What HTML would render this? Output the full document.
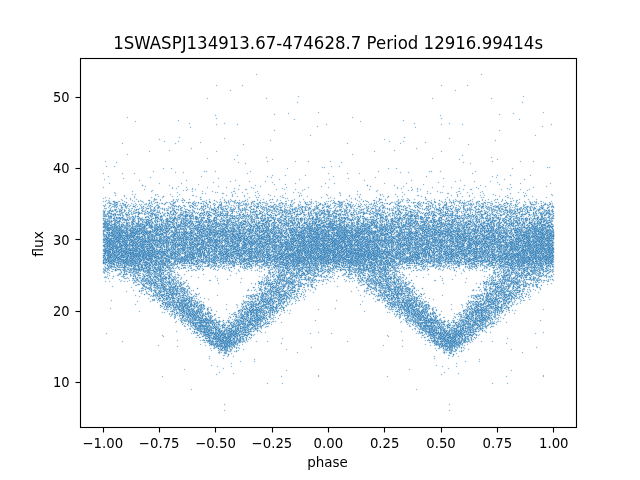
<!DOCTYPE html>
<html lang="en">
<head>
<meta charset="utf-8">
<title>1SWASPJ134913.67-474628.7 Period 12916.99414s</title>
<style>
html,body{margin:0;padding:0;background:#fff;overflow:hidden}
svg{display:block}
text{font-family:"DejaVu Sans","Liberation Sans",sans-serif;fill:#000}
.tk{font-size:13.889px}
.ti{font-size:16.667px}
</style>
</head>
<body>
<svg width="640" height="480" viewBox="0 0 640 480" role="img" aria-label="Phase-folded light curve: flux versus phase">
<rect width="640" height="480" fill="#fff"/>
<defs>
<marker id="dot" markerUnits="userSpaceOnUse" markerWidth="4" markerHeight="4" refX="0" refY="0" viewBox="-2 -2 4 4" overflow="visible"><path d="M-.5-.5h1v1h-1z" fill="#2279b5" fill-opacity=".5059"/><path d="M-.5-1.5h1v1h-1zM-.5 .5h1v1h-1zM-1.5-.5h1v1h-1zM.5-.5h1v1h-1z" fill="#84b5d7" fill-opacity=".1183"/></marker>
</defs>
<g class="pts" transform="translate(.5 .5)" fill="none" stroke="none">
<polyline id="lc" points="149,274 325,254 147,248 114,203 322,273 267,241 222,337 242,311 140,264 268,228 123,219 111,238 157,221 131,242 110,217 147,249 230,221 272,232 155,210 298,285 280,252 117,259 267,203 209,230 132,244 324,238 318,212 161,227 114,210 181,240 239,310 205,328 192,257 188,214 217,245 277,260 126,254 232,222 308,257 231,340 307,227 210,232 173,301 130,261 304,239 216,257 187,313 120,209 309,264 142,228 130,225 314,254 140,241 324,240 245,329 250,251 240,340 119,228 307,221 250,256 299,263 107,241 227,344 233,255 325,259 124,261 284,255 255,256 196,310 152,227 167,266 293,246 221,339 120,257 247,241 112,247 234,228 255,262 171,252 175,243 228,230 177,221 270,256 290,256 243,224 243,250 252,306 244,250 256,206 191,317 211,248 194,239 115,241 186,313 130,235 221,229 249,302 181,306 119,212 319,219 132,214 326,260 232,238 130,228 317,240 316,239 236,340 246,339 290,290 318,261 142,236 105,259 178,239 278,253 251,257 137,242 151,289 327,250 293,229 143,249 142,223 274,225 165,295 228,261 194,245 192,252 313,210 155,230 146,258 138,253 199,334 163,245 293,292 293,225 284,242 220,330 275,249 157,233 120,218 210,261 120,230 134,245 166,293 151,289 307,231 198,315 160,269 300,232 175,301 175,218 307,226 319,239 308,256 163,308 264,223 288,287 129,250 255,211 166,295 171,232 304,273 111,243 144,219 274,265 162,203 119,240 274,227 174,298 170,224 215,329 297,268 154,214 303,250 173,288 190,306 225,328 196,226 317,230 297,229 309,218 142,262 137,236 231,245 164,227 287,247 279,222 193,230 251,241 254,318 296,294 209,258 280,250 159,272 176,289 136,252 248,253 265,247 126,212 273,293 204,241 268,249 265,222 177,244 162,264 204,305 163,295 281,301 257,204 242,321 119,226 213,250 126,249 154,240 310,254 293,238 155,230 258,205 149,206 294,245 226,240 218,207 103,231 125,238 194,227 281,222 171,301 179,286 215,242 278,283 132,245 242,239 235,244 124,227 263,233 167,263 228,330 279,279 201,248 190,313 222,350 245,249 127,206 308,250 247,334 322,212 250,323 234,223 144,281 169,232 213,326 222,333 137,229 273,234 253,327 318,241 194,238 311,243 281,322 248,305 298,222 103,223 259,226 221,330 126,252 326,260 245,335 266,235 272,207 120,234 222,238 213,330 255,248 180,206 149,243 189,314 105,197 290,244 302,207 304,279 160,251 220,230 244,233 292,257 129,211 288,246 162,262 227,223 193,251 175,295 287,248 306,233 287,263 300,219 314,237 314,231 251,252 160,271 109,249 257,314 293,209 233,222 198,203 252,222 127,281 326,259 166,247 159,295 302,207 126,247 287,257 132,239 174,260 191,248 152,212 240,223 205,249 222,344 203,305 133,250 268,240 208,265 123,257 219,329 124,254 238,321 218,266 157,220 220,231 178,308 251,268 116,162 263,319 311,227 230,336 285,246 263,317 203,254 214,242 233,253 132,254 304,214 202,325 300,207 251,309 227,251 220,332 178,274 115,215 206,338 105,258 313,268 315,264 243,231 275,287 325,257 285,232 142,256 273,242 156,269 135,285 259,232 166,295 250,253 155,228 124,261 295,291 243,317 109,218 182,245 263,247 270,257 291,232 300,213 225,351 171,258 119,233 212,213 239,230 150,256 242,317 142,237 324,237 119,220 286,248 155,277 187,260 227,332 272,321 172,265 234,236 219,328 242,210 183,228 146,233 299,253 235,333 220,256 289,232 147,238 278,275 251,337 152,214 215,332 239,239 155,280 310,272 127,235 199,313 212,333 279,210 229,217 186,321 271,212 182,265 206,328 115,223 288,228 281,301 118,227 239,338 252,243 206,220 275,263 203,221 291,243 117,254 285,237 268,250 314,229 189,252 114,223 132,226 307,261 104,239 244,330 279,273 239,251 210,264 124,231 167,215 321,237 257,227 209,263 218,235 210,333 138,264 174,243 314,222 217,224 273,304 253,248 242,339 211,331 327,212 206,260 252,312 198,229 183,306 303,256 237,224 247,238 241,216 182,226 172,252 292,222 175,245 253,295 146,209 268,260 311,235 261,241 140,229 109,234 211,248 184,211 202,218 116,235 217,239 147,250 304,229 141,257 134,233 284,242 277,255 312,249 231,328 118,251 246,251 327,238 174,208 183,218 115,229 177,243 290,260 304,228 152,238 115,246 245,260 201,309 214,253 218,226 108,244 172,204 208,219 260,241 226,238 248,333 131,242 137,234 219,240 213,322 148,275 110,261 246,321 171,251 109,248 215,327 135,240 267,213 132,227 301,219 304,247 160,231 121,246 188,310 170,227 231,331 264,250 194,303 270,306 195,218 178,227 108,250 327,226 243,236 247,266 282,246 147,269 199,232 259,243 271,284 262,259 131,275 316,220 247,313 103,213 286,233 161,259 193,228 105,227 259,259 321,256 203,336 261,293 205,333 270,259 302,269 162,234 297,218 238,334 195,244 300,235 231,209 227,229 307,284 279,308 166,299 250,217 219,339 188,311 251,249 306,237 184,236 114,254 229,259 179,263 169,249 176,237 107,265 241,328 157,302 260,252 182,314 203,319 156,265 112,230 192,325 244,239 294,227 224,323 115,195 242,224 319,280 308,230 104,246 328,255 229,330 227,336 104,260 173,286 240,238 216,229 322,257 196,245 262,250 242,227 241,334 229,335 225,343 302,271 193,305 317,240 107,259 273,307 147,223 150,268 299,256 316,259 324,214 138,234 217,230 163,254 113,243 225,329 109,238 295,276 319,231 184,258 185,265 180,259 295,303 305,267 319,227 124,257 264,232 185,235 110,265 195,318 183,218 108,225 216,263 135,241 122,257 111,254 142,288 274,295 314,258 252,305 245,314 265,220 283,286 324,239 172,287 261,317 289,301 163,286 124,272 123,227 318,264 319,204 321,255 193,224 184,253 138,259 127,223 259,260 222,193 262,236 173,225 242,236 205,249 116,238 281,230 213,238 165,265 242,330 201,319 163,265 259,231 142,276 298,234 292,255 168,259 323,253 160,280 198,263 288,228 284,249 123,238 259,227 291,285 321,238 238,228 313,245 122,253 307,222 274,259 178,257 116,225 167,218 207,326 204,233 287,258 131,252 254,241 211,320 237,321 232,335 159,297 207,253 149,260 245,335 259,232 308,253 306,228 166,278 269,221 146,283 147,254 310,278 299,272 248,235 291,234 137,266 189,249 265,243 203,257 246,308 300,249 277,312 109,233 132,242 242,266 261,298 120,252 313,256 107,221 104,242 234,206 252,246 138,284 312,258 172,267 138,220 319,248 111,235 110,242 149,255 172,242 150,247 171,244 157,251 257,246 302,256 126,265 254,235 304,257 127,232 233,335 238,207 127,234 314,231 301,229 222,327 310,255 322,269 289,220 228,337 211,333 184,315 298,240 206,328 273,321 159,291 203,248 159,301 305,230 128,252 115,258 197,250 253,253 104,253 153,240 164,253 173,262 275,308 208,233 130,275 323,245 221,334 209,202 185,212 226,195 267,257 156,276 284,265 141,210 120,270 169,302 284,265 108,240 142,213 182,256 214,323 249,259 219,247 152,190 298,242 173,226 266,254 120,215 236,323 143,285 282,242 180,215 219,228 308,254 192,206 254,250 322,230 216,242 189,256 119,240 213,321 226,350 324,230 199,244 253,321 292,239 306,265 253,316 245,200 212,328 236,325 198,244 279,284 176,307 160,270 271,252 208,316 183,237 205,244 208,330 119,254 281,256 265,313 327,243 147,248 214,315 225,347 162,243 323,257 269,235 138,280 114,255 269,304 160,227 136,254 320,252 254,235 198,266 207,326 161,267 144,251 298,260 300,231 259,223 214,234 294,260 264,202 300,262 259,324 311,248 272,310 321,276 325,233 204,256 318,254 284,252 258,260 286,272 260,306 179,311 232,218 280,307 216,234 292,234 208,337 255,231 221,240 327,255 275,301 219,344 142,221 247,237 153,272 152,280 123,262 251,222 259,311 162,285 173,311 303,238 166,233 303,256 229,343 142,242 201,318 130,226 111,235 311,256 174,206 233,255 225,346 240,329 165,268 158,233 216,209 178,313 309,235 270,293 255,234 137,253 157,233 217,242 265,240 238,211 107,262 145,289 267,229 325,248 256,218 319,259 275,240 133,255 131,266 169,261 133,233 274,264 204,331 271,224 139,224 111,225 163,255 216,336 288,234 314,229 155,281 168,223 127,257 228,224 146,261 123,203 324,258 197,307 247,258 243,258 326,270 107,223 215,261 140,226 301,225 224,206 253,241 175,258 135,281 211,220 308,284 171,204 256,315 265,235 183,294 136,271 174,234 106,252 209,227 123,270 228,222 134,263 240,241 216,249 320,244 307,244 256,228 319,231 248,318 119,235 201,312 112,230 284,238 193,249 170,247 146,234 130,257 248,259 232,339 295,189 309,267 170,249 301,261 251,237 269,246 245,248 305,239 325,235 171,255 104,251 273,234 285,227 143,253 120,218 249,215 167,259 185,224 194,239 156,283 154,299 140,237 257,261 177,245 147,221 250,264 187,227 298,241 193,259 113,243 255,250 253,238 275,257 219,247 261,281 260,213 274,211 114,255 162,250 203,331 286,230 301,254 292,275 262,247 149,269 259,239 193,302 186,308 247,220 289,237 311,254 129,260 317,237 213,221 103,272 279,218 110,213 197,256 311,243 216,222 162,265 294,209 211,249 327,249 153,253 156,295 194,322 152,222 304,259 193,207 295,241 247,311 291,202 112,253 229,259 228,255 269,254 144,237 157,295 203,212 293,269 205,249 326,194 229,236 129,236 145,246 208,262 133,232 303,259 287,256 183,265 152,232 105,220 265,244 204,306 187,297 227,344 168,241 235,241 274,300 237,317 226,211 173,236 212,226 245,325 297,297 228,340 323,256 216,335 154,214 125,235 206,211 110,261 174,286 176,254 256,311 287,281 315,267 287,269 278,221 269,259 197,258 298,270 160,249 203,326 234,346 199,238 209,224 127,253 105,244 255,216 125,243 197,329 207,158 226,249 183,292 284,241 320,230 244,224 193,316 155,230 183,237 264,314 282,274 154,267 216,327 179,312 211,251 127,261 177,286 255,314 254,309 166,249 223,333 310,232 237,339 239,240 293,250 116,237 174,240 151,246 228,243 316,212 315,255 231,237 273,239 112,238 196,262 170,244 209,252 143,220 273,248 252,249 221,228 322,245 144,265 214,219 265,321 120,258 109,219 269,260 165,287 154,258 186,225 226,209 322,257 272,260 202,331 234,218 318,253 183,249 281,244 291,200 256,229 163,273 189,253 201,246 161,203 213,328 239,230 272,233 149,252 154,211 247,238 193,246 244,251 195,189 138,201 105,254 235,331 280,210 285,243 247,253 199,260 172,271 126,229 163,294 183,212 176,206 277,282 190,233 227,252 123,236 212,249 298,243 181,288 123,256 253,226 199,239 307,228 162,255 250,237 310,235 170,242 194,312 320,231 212,230 225,214 316,232 304,233 132,256 289,294 212,340 193,204 232,245 264,260 264,251 253,244 163,304 168,230 284,224 301,253 190,293 279,277 286,260 276,283 232,238 103,251 270,317 233,250 227,346 250,241 204,235 186,216 170,283 157,226 284,248 225,337 289,286 123,263 235,334 174,236 319,225 311,240 185,217 238,324 187,309 197,228 143,268 119,269 115,248 308,251 156,216 129,241 260,252 282,281 226,259 204,320 246,222 326,236 290,276 323,247 138,237 209,332 125,232 107,226 200,266 294,253 158,298 197,244 137,251 227,235 221,346 291,249 196,332 280,210 252,242 132,262 130,253 282,256 294,230 177,277 156,248 132,228 298,257 277,268 260,238 279,292 250,328 247,335 265,294 306,267 144,276 281,275 106,252 253,331 104,246 275,246 234,247 324,237 174,303 234,343 126,215 143,244 278,230 280,292 247,312 291,243 149,257 275,266 247,308 222,247 321,223 180,306 203,206 227,251 207,328 108,215 257,252 244,302 222,253 208,255 326,244 146,253 236,246 229,340 310,241 285,243 219,246 251,251 268,312 182,291 271,297 260,213 165,296 317,246 207,310 300,254 280,267 299,285 138,270 283,298 164,243 285,234 175,254 252,323 242,255 226,236 107,232 245,319 178,242 197,233 269,231 190,313 208,234 170,299 122,233 114,233 261,232 154,251 259,249 213,236 271,260 120,258 121,245 252,310 252,311 182,258 148,258 208,225 199,223 169,274 256,305 226,309 211,265 226,231 163,298 112,227 185,252 109,212 146,286 119,211 166,227 268,254 229,344 288,250 317,266 175,314 320,251 262,221 325,259 181,223 165,261 203,204 219,234 172,220 196,244 140,245 113,253 224,256 298,261 295,254 327,240 126,241 310,257 277,276 111,267 295,225 313,282 272,276 148,272 309,236 281,244 324,238 153,269 306,254 153,270 145,261 183,232 252,263 297,247 120,236 111,271 316,247 174,235 320,226 252,311 242,254 297,247 246,239 327,261 163,221 218,246 111,234 214,229 104,251 272,199 327,279 236,255 258,328 240,239 159,241 307,248 241,331 174,291 248,250 292,236 117,221 297,235 161,216 148,248 152,273 213,260 251,322 294,252 292,229 260,253 128,238 251,251 215,341 224,327 254,287 110,243 188,248 155,275 273,256 214,226 185,209 215,343 136,250 239,256 204,249 304,235 295,252 104,246 322,245 292,258 125,225 271,220 283,286 283,261 150,255 241,261 299,223 312,236 197,317 279,220 109,254 164,289 225,246 233,326 266,279 268,225 156,244 222,350 108,243 301,228 162,286 250,228 135,278 191,244 143,283 295,255 145,280 257,191 284,250 224,252 174,253 156,245 222,212 187,242 154,264 110,266 220,259 119,254 299,259 119,257 121,222 326,256 277,233 250,210 199,251 273,234 204,325 235,343 240,222 174,302 272,314 295,227 139,262 162,230 238,203 274,293 262,239 140,252 311,254 304,240 237,225 245,221 174,203 190,256 157,264 141,243 174,255 224,329 199,244 207,232 176,244 170,221 325,245 309,271 172,231 198,263 115,220 239,255 316,235 273,244 126,244 120,227 308,267 122,243 306,254 135,248 274,208 233,334 146,248 191,259 135,242 293,260 162,270 228,231 106,261 185,254 327,217 188,251 136,249 179,310 323,217 325,222 230,247 278,287 260,228 288,286 182,253 301,279 255,304 187,263 149,246 300,258 269,210 250,301 261,296 164,246 246,209 221,345 178,277 286,256 177,306 230,339 305,275 180,303 177,290 249,264 175,307 266,239 162,251 142,278 216,243 180,251 191,268 191,305 155,216 258,252 274,291 259,316 309,247 198,322 299,286 244,334 181,309 310,226 209,251 225,350 282,236 160,269 206,212 275,236 279,305 305,233 181,215 246,217 312,221 279,281 287,304 315,258 262,216 249,256 306,279 194,247 326,232 240,223 286,238 152,239 104,244 209,235 213,247 319,220 314,222 322,244 219,332 215,222 144,250 237,221 237,328 251,304 255,306 183,310 183,263 255,212 230,220 166,277 167,222 129,240 118,254 327,266 144,242 196,252 267,294 297,262 247,226 175,308 259,251 183,259 205,332 198,222 160,276 281,272 298,265 218,254 291,205 323,243 288,247 172,201 225,233 164,290 192,247 279,294 224,333 121,265 177,246 200,247 311,250 193,251 237,238 274,241 320,258 163,278 227,336 277,246 268,234 268,298 175,287 143,285 166,256 157,275 299,224 291,256 239,324 194,317 161,224 178,300 256,328 189,265 116,211 256,304 171,221 261,211 180,210 120,265 285,198 165,225 191,235 247,295 132,237 191,300 288,272 226,202 289,244 146,220 321,197 148,259 281,258 233,344 276,262 120,270 180,296 219,252 107,230 309,270 233,232 309,242 263,283 294,290 260,253 163,286 281,311 299,279 184,240 126,246 300,250 193,218 176,232 226,224 154,199 224,263 247,262 203,229 234,338 311,247 166,256 257,316 182,234 152,247 200,215 180,315 269,310 149,264 209,261 305,266 227,257 107,239 235,193 123,248 220,224 185,216 319,255 327,253 269,321 193,259 314,268 163,257 178,215 163,232 144,242 271,258 210,237 174,210 195,325 181,261 161,285 196,318 284,233 286,299 151,252 119,245 279,296 143,227 213,219 139,246 152,245 272,301 321,260 280,286 167,238 209,225 202,324 130,244 128,226 258,304 226,253 301,253 263,248 110,247 242,210 148,281 189,235 267,227 163,226 193,313 182,218 171,308 191,260 145,265 262,319 272,300 219,260 112,240 137,284 154,248 209,265 214,261 125,266 231,230 323,213 174,314 146,262 245,256 317,229 183,244 138,223 220,236 156,233 209,259 276,313 213,235 243,216 143,208 203,203 286,247 117,248 234,231 157,253 159,274 176,247 234,336 135,216 239,232 264,315 234,227 140,261 308,229 217,216 322,233 303,230 264,264 220,250 152,248 294,241 287,250 248,251 211,330 161,246 290,247 208,309 167,250 190,250 129,244 122,203 171,294 215,245 177,300 210,339 184,256 227,228 181,320 220,336 302,266 269,250 138,226 244,248 300,214 147,225 235,343 126,256 200,330 229,250 187,309 219,338 298,261 301,234 259,244 289,211 307,247 311,232 214,338 298,260 253,287 267,251 133,220 171,261 261,220 133,249 209,322 141,267 133,262 112,254 162,256 204,325 168,238 136,232 263,251 169,267 139,263 131,252 293,261 278,242 306,253 146,283 226,249 321,268 159,283 198,228 124,241 313,249 232,215 297,261 317,233 183,245 277,237 133,236 126,263 216,217 259,261 221,336 311,251 191,236 324,257 241,338 281,229 265,254 212,333 127,242 243,237 202,252 288,272 129,250 327,272 109,270 150,264 190,320 186,244 107,251 269,240 198,231 166,220 246,235 212,237 142,253 244,254 216,242 244,229 253,263 116,239 319,246 141,225 216,223 206,257 115,260 276,261 323,240 265,251 164,263 285,239 135,252 267,240 290,213 166,234 174,262 305,231 134,197 190,311 265,224 175,231 213,331 228,262 139,233 238,245 117,214 198,219 307,207 216,224 162,219 115,214 117,238 160,208 149,275 278,246 222,213 280,258 115,223 125,206 294,264 234,333 222,340 214,262 217,210 204,298 186,303 135,261 288,282 264,246 248,221 148,282 278,245 253,220 285,231 229,348 293,212 203,305 173,222 280,272 131,261 287,272 230,338 227,340 220,345 163,270 227,279 142,241 158,233 257,261 219,238 288,246 320,259 271,232 276,311 164,312 152,254 190,259 158,299 258,281 242,322 313,256 227,221 243,327 155,209 157,232 323,231 215,329 145,217 140,261 314,236 271,223 209,241 137,229 315,253 230,335 187,305 215,333 220,340 172,258 157,244 192,235 210,348 215,343 286,299 162,287 129,229 218,339 166,307 266,303 251,209 236,250 315,245 268,243 237,243 162,261 243,328 142,258 222,337 295,257 287,247 119,224 267,241 321,240 196,261 146,232 181,256 106,208 270,297 190,324 280,196 320,215 278,282 164,246 173,232 246,317 206,324 300,245 173,291 195,315 108,243 159,287 123,238 157,233 142,266 156,277 288,241 225,246 159,238 320,257 223,358 137,263 163,260 122,264 175,256 229,336 108,252 110,263 299,244 186,216 117,240 279,232 219,214 297,225 213,224 234,236 281,253 308,252 181,287 299,201 316,242 128,261 260,205 168,208 136,279 212,260 106,240 301,233 122,248 201,261 183,311 193,253 299,243 136,231 114,258 154,231 201,328 182,259 185,246 299,274 231,343 279,301 274,241 275,242 219,247 251,243 292,256 286,213 145,232 261,253 201,253 228,261 247,201 323,244 238,209 280,302 284,297 186,256 149,227 232,224 131,236 294,247 297,257 248,264 305,246 319,245 324,277 139,256 184,305 290,275 227,346 262,282 299,234 179,316 186,238 111,249 136,226 235,236 227,335 142,257 109,222 192,314 125,219 252,216 217,333 217,202 273,319 234,254 176,290 187,293 284,224 270,217 105,256 195,219 312,250 321,276 234,262 154,241 259,309 161,216 227,246 249,207 108,220 116,226 200,213 185,215 133,255 109,249 161,283 247,212 301,245 294,279 157,207 136,242 224,254 107,227 259,195 189,223 202,223 205,246 253,255 218,224 328,231 199,252 256,207 319,254 120,205 152,259 137,279 119,246 285,244 197,328 196,311 238,322 266,239 208,241 284,286 219,339 290,255 170,230 165,265 238,237 217,261 132,256 145,223 311,220 161,238 185,304 146,258 199,237 234,335 324,262 155,206 254,235 150,269 214,248 154,228 152,229 250,318 135,244 255,260 233,234 266,208 254,313 326,248 116,229 109,210 196,206 171,247 196,227 255,312 208,257 229,264 237,324 162,252 269,249 270,202 176,213 249,257 142,263 236,330 285,293 288,271 168,260 308,236 285,267 292,204 266,253 134,268 124,257 291,246 256,311 217,295 127,244 277,227 241,236 257,325 115,226 165,261 127,236 132,245 161,224 216,322 298,205 161,281 146,263 251,310 210,241 282,233 276,235 285,281 296,227 235,218 172,242 178,298 279,207 227,254 280,243 205,330 146,248 146,262 233,339 144,268 326,252 130,245 167,253 304,212 292,239 260,256 108,252 265,230 273,253 243,301 236,252 285,236 271,251 303,212 144,255 274,241 190,245 155,235 104,258 188,321 120,210 116,235 298,249 259,293 244,210 124,265 226,224 240,321 281,257 156,247 319,249 300,261 164,265 236,236 118,274 259,247 142,256 254,334 170,284 192,312 268,257 169,263 292,232 251,310 184,291 291,254 292,281 144,270 128,272 240,255 321,254 191,233 154,230 309,251 255,242 140,269 254,330 164,246 174,219 135,246 193,219 245,232 154,275 206,252 111,224 232,245 275,257 174,252 177,287 235,223 122,249 252,245 303,246 227,219 283,271 290,231 256,248 251,258 259,303 237,329 258,220 144,251 160,288 303,260 312,223 120,245 247,237 124,270 315,238 150,255 124,265 315,236 107,251 234,251 263,238 243,243 311,244 133,271 304,274 223,336 172,224 209,249 198,255 125,248 215,329 280,222 224,348 109,228 270,311 203,242 252,328 156,284 266,261 162,282 136,237 279,288 129,258 279,243 232,195 275,255 183,302 138,223 224,347 272,238 180,295 302,260 188,260 190,254 115,246 247,247 183,246 296,218 311,213 245,253 134,235 278,240 198,318 201,253 244,245 317,228 175,231 315,256 159,237 268,253 212,249 175,256 160,219 269,243 170,294 141,268 213,229 225,258 300,238 203,314 187,286 115,256 220,234 234,238 280,249 183,239 273,260 194,332 262,253 135,234 273,306 179,308 149,203 303,260 107,250 107,250 228,255 119,242 191,243 271,251 175,290 173,220 177,257 238,253 204,329 233,241 142,259 217,328 179,217 250,225 238,231 312,278 147,211 151,226 318,274 215,250 171,292 233,226 225,252 263,234 153,248 256,321 233,240 324,243 180,250 222,334 254,252 146,265 148,237 286,245 131,231 234,216 134,249 270,297 248,332 281,300 277,259 255,223 271,245 137,261 302,261 288,280 307,262 317,248 115,245 133,254 160,260 201,317 192,258 256,246 176,290 144,254 317,247 124,256 291,249 258,309 165,203 152,265 158,252 224,224 125,243 129,237 263,242 133,235 133,253 118,238 150,246 190,220 160,300 218,211 203,315 165,232 271,230 118,231 323,251 307,240 295,253 214,217 123,277 306,241 169,266 166,238 126,202 271,291 261,309 321,260 134,256 216,322 276,238 232,254 271,283 275,247 257,317 243,248 201,233 204,236 224,199 135,254 177,287 221,352 218,237 311,243 180,288 227,241 221,232 250,247 116,202 186,232 235,316 120,246 172,251 144,286 275,207 111,232 250,311 235,328 246,314 111,247 288,224 136,232 227,219 262,238 216,347 260,236 317,208 302,257 133,233 155,283 308,205 105,258 225,345 247,315 219,240 124,235 149,240 244,251 132,280 236,244 189,242 322,266 189,213 296,211 323,222 112,271 235,316 113,211 255,243 118,217 220,333 301,239 176,313 231,344 162,256 133,278 236,351 134,230 290,250 245,204 284,242 222,234 123,252 110,213 252,298 105,236 126,236 327,240 112,260 278,306 323,251 320,240 166,282 193,242 212,344 218,251 118,223 323,224 249,312 298,266 160,234 291,265 224,266 224,233 169,229 234,346 315,262 280,203 126,238 152,236 186,302 244,324 125,254 270,262 314,242 285,265 212,261 138,255 209,318 123,256 312,262 116,241 238,236 134,268 141,256 151,250 295,281 121,260 284,223 142,240 240,205 177,234 112,233 266,208 188,202 167,306 309,252 208,220 139,291 284,264 186,243 257,307 228,340 230,227 267,301 259,257 167,260 308,242 221,254 304,219 191,224 106,215 233,264 222,337 232,234 296,254 307,262 240,214 274,248 240,264 153,251 169,185 235,249 287,248 177,251 142,239 244,266 239,204 245,309 200,325 272,244 130,231 224,353 261,225 209,319 192,263 109,242 263,284 187,189 281,256 130,260 161,263 327,211 133,258 328,245 173,219 114,240 250,316 228,354 192,238 237,227 297,214 148,260 263,259 244,325 274,245 172,300 279,220 117,232 323,227 235,235 245,189 203,227 210,240 177,256 164,298 315,248 211,221 316,262 181,299 242,236 120,221 104,218 177,235 174,210 143,244 231,230 310,258 140,223 143,231 272,238 251,229 317,250 136,209 117,256 230,228 186,255 301,294 285,193 133,255 218,346 312,221 127,239 160,245 201,261 251,239 169,283 182,226 255,235 119,225 273,302 175,211 111,232 277,214 184,256 125,259 275,241 149,215 196,266 268,326 309,258 143,224 305,270 298,242 206,221 216,230 228,335 256,261 176,225 307,250 322,213 168,229 266,293 124,269 165,230 327,271 138,272 133,271 244,234 184,243 318,242 276,238 204,222 121,205 229,331 228,230 280,259 301,232 120,258 116,247 165,243 164,263 298,254 256,263 175,260 240,252 272,298 242,253 107,245 250,243 273,202 254,310 196,235 166,220 120,234 190,221 243,262 157,269 258,243 266,243 286,230 214,203 244,216 272,299 327,264 200,330 227,338 150,243 245,205 133,233 227,345 253,315 313,221 271,296 301,243 115,247 203,269 243,339 142,254 310,267 211,243 269,291 308,261 113,256 211,224 156,226 135,269 179,226 149,231 325,255 219,329 121,261 255,247 223,256 248,251 199,269 322,240 316,252 155,244 109,233 302,257 113,227 214,241 321,213 324,245 117,226 322,257 310,247 125,257 251,266 232,234 283,265 191,316 284,294 226,237 258,310 152,266 149,245 153,269 124,233 215,234 159,235 288,281 304,227 153,277 153,283 195,204 277,305 264,304 234,218 273,209 294,247 250,318 244,244 245,221 154,249 221,251 184,232 310,232 312,284 200,244 280,256 108,245 112,233 195,319 229,255 215,171 129,261 126,202 201,321 288,252 293,294 327,240 185,288 324,222 219,351 138,230 222,334 113,249 270,239 259,319 223,251 169,273 111,222 220,341 136,212 186,313 242,329 233,261 293,255 292,243 225,346 190,218 235,248 199,224 197,229 316,229 321,231 225,335 279,289 174,217 215,256 246,305 263,264 246,238 200,254 167,284 172,288 275,294 312,230 105,238 311,260 171,294 326,260 230,250 120,231 203,227 123,231 244,312 216,252 286,295 237,226 291,233 328,248 316,268 166,232 122,250 176,310 152,262 258,247 180,261 114,206 110,235 146,224 288,251 248,203 127,238 184,220 280,249 327,253 170,224 165,259 290,218 151,260 180,261 288,288 272,248 183,229 240,315 278,270 130,246 134,238 179,310 180,318 257,262 171,211 103,227 229,336 225,342 175,222 160,239 301,238 306,256 189,254 205,336 301,257 118,258 153,254 177,246 203,325 319,225 190,257 211,241 148,233 254,258 271,309 121,225 225,336 325,271 239,342 235,221 186,304 237,247 281,207 155,271 140,243 201,240 219,342 162,270 184,246 308,219 114,228 132,259 143,252 273,217 242,229 250,257 326,232 194,257 274,260 253,256 149,281 147,259 307,245 164,253 200,229 116,226 200,225 200,327 312,209 303,265 308,257 309,226 173,214 215,215 119,244 139,252 137,206 198,243 208,219 277,285 245,312 161,243 316,225 184,250 147,270 144,281 296,266 114,260 172,242 133,260 267,297 257,227 226,250 159,270 104,244 226,245 109,275 313,243 217,234 229,221 309,265 126,232 293,234 161,233 144,238 248,262 129,247 274,256 255,248 233,245 112,204 166,251 268,283 236,254 245,218 113,234 252,235 326,243 185,259 181,284 270,286 300,281 277,248 279,257 220,233 199,313 136,278 255,329 251,324 223,339 184,293 129,219 296,225 310,242 296,211 210,344 202,239 174,235 151,213 105,264 103,227 153,271 248,266 222,223 215,247 117,249 261,295 118,255 238,215 132,258 171,239 250,296 251,261 152,226 297,258 173,298 123,238 190,253 290,283 217,233 215,335 133,217 231,249 197,251 104,273 251,202 200,252 216,331 153,235 164,282 183,288 142,248 122,237 172,295 146,244 119,265 112,236 215,223 278,264 121,252 149,236 259,320 154,273 156,281 224,223 251,236 181,261 223,246 167,237 229,259 282,285 228,318 298,283 135,254 272,246 221,213 300,252 175,243 272,199 317,240 109,243 206,250 261,225 297,243 299,246 121,251 266,264 180,229 271,284 311,274 305,264 125,262 298,204 123,242 203,243 181,212 276,241 242,315 240,337 180,303 247,250 268,267 222,348 263,265 254,310 268,308 189,300 106,255 272,240 198,253 220,341 249,244 302,252 291,230 173,203 110,249 268,253 195,225 255,313 127,260 196,244 103,234 197,260 307,224 231,254 149,277 116,256 174,270 195,238 297,254 266,221 189,318 114,202 294,248 248,231 320,264 170,212 232,246 191,305 303,284 265,227 147,206 288,200 290,250 151,249 255,192 201,213 169,290 150,256 212,252 326,252 253,238 156,274 172,234 270,290 235,250 243,250 118,235 180,223 149,241 130,252 264,260 126,244 283,299 225,231 131,252 236,316 300,259 175,235 316,253 150,227 167,218 193,260 275,245 157,231 260,300 107,247 144,211 173,199 261,220 232,334 198,228 218,339 114,252 199,251 115,234 318,205 159,269 321,250 149,244 136,229 299,280 299,268 211,310 222,267 261,302 325,260 191,220 289,278 194,254 236,228 253,324 239,317 163,268 315,215 263,308 259,238 194,264 314,235 314,248 126,240 265,266 115,205 112,241 142,237 261,327 156,245 127,223 161,216 264,310 217,278 252,241 164,255 178,309 122,231 217,342 252,323 236,316 206,242 199,318 158,266 166,246 146,219 296,258 250,325 156,288 222,257 279,212 259,241 209,240 278,209 120,241 231,218 289,249 128,255 300,235 242,208 209,338 322,246 213,328 214,256 186,243 117,258 306,223 273,310 114,254 309,217 327,260 230,334 181,291 167,303 200,236 135,248 199,209 158,258 132,235 144,262 242,256 274,251 306,241 325,260 238,245 246,251 282,246 107,213 149,256 315,243 290,244 174,238 132,228 323,249 224,340 263,247 204,221 160,216 302,224 263,294 157,243 156,224 231,247 316,253 114,201 198,250 197,260 142,284 227,243 266,251 184,311 285,228 295,240 222,261 269,315 163,251 182,235 289,245 140,252 217,240 307,260 119,252 239,256 177,226 300,296 166,277 244,265 296,273 201,320 328,235 197,254 161,229 232,222 124,249 111,254 191,304 181,315 119,245 288,288 118,240 206,261 112,233 165,302 257,234 182,251 122,233 214,257 107,264 125,243 157,237 114,227 149,224 268,265 169,255 210,230 250,253 159,237 224,221 279,303 170,242 312,253 197,237 307,240 286,292 122,238 196,245 244,244 213,243 208,311 282,261 109,230 328,242 108,234 192,252 257,320 308,269 309,247 165,249 200,322 313,241 242,341 257,325 250,225 242,209 274,313 208,239 146,243 204,233 207,332 214,264 214,210 176,241 240,318 275,259 310,244 110,308 232,210 187,257 132,253 177,308 128,255 203,231 131,264 123,274 192,252 166,274 220,346 322,253 229,347 218,206 240,252 326,240 137,261 302,236 233,247 290,257 218,244 107,259 157,267 256,257 249,323 176,305 212,338 231,340 144,235 174,276 171,311 168,296 327,238 311,258 215,225 134,282 173,294 158,256 270,264 304,264 304,240 181,222 115,239 317,235 305,249 284,295 237,240 219,202 252,244 153,239 264,305 292,231 254,320 270,301 298,258 227,238 247,335 117,249 209,260 258,243 131,265 248,297 284,285 196,256 148,269 203,210 283,257 163,215 205,314 151,290 191,297 293,236 218,254 126,216 239,258 229,224 203,322 317,255 272,246 263,261 107,254 103,212 248,263 250,246 161,272 162,229 194,240 251,238 263,224 297,236 127,214 249,258 307,260 257,236 297,250 186,202 178,293 105,254 281,257 184,318 328,267 132,226 245,235 160,251 255,297 198,226 123,262 295,258 234,235 269,236 153,256 127,255 130,251 152,244 129,240 177,254 113,266 146,230 268,219 267,306 116,251 224,345 233,242 279,275 230,344 166,258 153,261 245,239 113,238 209,212 180,315 106,255 157,240 119,257 106,222 258,239 309,204 283,285 172,246 274,261 150,255 201,206 180,244 247,258 148,291 216,244 314,254 263,209 248,229 270,235 327,260 150,256 192,218 262,238 313,275 263,253 209,234 248,223 142,252 208,239 222,328 292,260 118,225 310,235 280,237 122,239 287,253 232,262 221,251 188,252 158,218 224,251 193,246 197,304 238,325 264,246 162,240 262,316 259,248 264,256 291,244 114,237 114,266 112,249 220,341 295,253 301,262 314,231 325,250 230,241 187,254 201,239 258,314 199,320 276,231 107,233 147,224 238,205 163,263 156,237 304,236 240,257 173,244 228,328 232,216 306,227 316,250 160,219 217,339 293,231 273,225 203,306 131,268 170,253 189,228 108,254 205,232 221,233 123,241 157,230 236,257 226,233 180,226 310,253 154,285 179,245 197,245 175,227 286,225 222,227 200,255 246,319 115,235 150,257 308,215 246,238 145,280 121,217 286,267 174,253 152,241 200,327 313,253 241,317 152,236 320,262 293,220 238,205 288,222 202,261 249,264 184,232 292,232 184,247 228,256 221,231 264,269 240,332 283,262 164,252 254,320 143,284 122,219 285,237 187,299 126,224 249,252 106,251 250,235 159,224 139,262 119,249 175,262 292,247 203,304 313,273 208,323 206,256 233,191 210,258 190,231 320,259 132,236 291,236 251,306 235,253 195,333 213,246 285,175 316,240 266,230 261,264 128,224 267,234 148,284 144,247 173,303 201,304 204,326 121,255 141,246 299,253 244,238 228,226 256,314 169,258 142,210 217,344 270,311 109,212 287,269 210,317 236,333 172,227 191,255 213,259 269,283 115,214 295,216 245,243 201,241 237,249 162,263 174,249 244,239 109,255 223,232 316,241 123,256 200,260 217,240 219,338 112,235 200,297 230,254 304,236 324,229 240,263 119,218 161,248 156,235 153,239 256,242 287,297 146,222 126,247 325,233 250,214 197,218 207,225 214,327 179,194 163,283 164,287 323,230 208,316 310,235 296,264 143,271 198,322 169,282 181,228 228,268 237,213 324,257 267,222 118,201 264,245 252,307 154,268 271,215 120,269 274,258 305,244 236,233 269,239 168,256 299,257 164,251 300,245 163,276 230,350 115,259 312,218 113,243 274,224 245,322 162,224 259,251 285,259 221,345 319,234 323,272 240,318 141,257 171,297 151,216 257,239 121,249 293,292 155,279 166,240 228,322 292,257 309,250 278,225 322,226 302,269 257,307 112,256 137,216 299,260 310,229 167,311 303,243 270,238 118,214 151,240 267,307 246,265 150,228 143,222 292,209 176,283 184,226 121,260 195,303 270,214 120,219 182,237 262,212 103,249 112,245 157,228 150,270 323,262 263,282 200,310 225,251 233,343 165,304 288,248 253,324 263,251 185,220 124,254 214,252 270,307 129,248 317,269 229,338 269,211 170,222 309,236 267,255 181,258 255,242 215,247 275,263 239,248 173,236 248,259 162,249 281,258 224,330 199,330 148,250 262,265 126,219 269,206 168,304 258,244 120,214 284,216 280,248 297,210 328,233 172,250 140,241 215,254 144,252 266,225 308,236 328,213 128,265 165,258 135,225 157,228 231,230 157,253 300,249 242,308 180,209 237,227 155,236 203,236 184,295 270,305 246,313 258,224 311,240 181,223 150,264 153,241 131,269 158,251 272,243 174,231 251,248 245,306 261,226 195,324 153,264 280,232 326,235 148,225 220,260 303,274 197,328 225,227 173,257 159,210 291,255 179,257 150,244 121,248 238,241 103,215 127,237 295,231 243,329 191,221 302,263 151,260 197,209 265,255 174,217 250,207 220,215 106,226 274,209 175,285 328,234 154,272 242,327 242,324 254,296 327,245 177,261 311,250 218,345 230,349 186,303 133,252 183,306 197,262 142,231 204,329 159,239 196,296 227,333 266,300 319,259 307,239 216,242 299,259 310,249 301,227 239,237 214,334 207,257 277,262 182,213 156,249 183,223 260,318 286,298 286,278 129,209 114,205 295,253 299,239 142,244 216,248 168,256 290,259 280,221 209,331 216,246 110,239 130,238 291,275 297,213 134,239 307,257 203,213 214,237 215,332 255,254 240,313 145,239 227,346 254,220 225,349 136,233 217,257 265,230 302,241 301,221 139,269 323,256 294,254 197,249 192,203 310,267 217,225 247,216 155,252 201,232 160,257 131,249 174,287 122,256 269,303 252,234 255,254 122,253 327,252 265,249 176,229 301,244 232,247 241,235 317,246 272,312 207,218 182,237 289,213 243,261 245,244 207,228 281,280 298,257 203,207 258,208 247,328 190,265 289,223 321,222 124,195 112,221 154,257 226,352 236,227 234,334 184,230 258,304 261,244 175,254 165,241 224,337 284,251 178,245 121,207 112,266 106,245 145,279 320,248 232,244 284,206 175,256 219,226 216,260 213,344 204,252 209,235 213,269 288,286 192,246 175,251 152,250 273,217 273,234 278,235 131,249 210,342 287,291 140,239 124,266 192,322 168,259 173,253 234,335 299,229 245,250 265,301 138,257 151,251 125,214 190,246 192,238 244,311 129,261 291,282 149,212 244,201 180,310 127,271 295,263 126,241 219,321 165,304 256,301 226,353 320,215 140,244 127,234 300,244 275,237 239,240 210,333 241,256 267,262 322,260 201,231 162,245 246,249 159,269 133,216 266,231 327,253 250,248 282,244 214,207 212,320 241,249 234,238 293,220 257,312 122,248 218,253 151,219 312,239 132,247 189,233 246,295 143,278 165,277 245,329 196,264 187,225 117,246 226,333 178,307 228,336 157,259 143,290 286,245 299,259 198,312 237,233 272,247 289,237 226,216 158,259 182,308 199,322 125,230 132,230 212,254 200,315 246,307 133,236 247,341 168,221 150,270 274,248 215,228 114,229 244,240 124,232 128,232 122,235 140,256 245,240 274,291 321,237 313,237 220,235 246,301 260,243 283,260 288,284 205,256 269,291 170,242 262,298 156,225 146,221 155,243 285,216 255,321 259,243 327,264 140,251 269,217 267,235 253,312 249,197 253,313 244,258 231,240 154,284 230,336 254,204 266,157 135,239 150,254 206,171 297,249 302,270 215,333 309,256 228,342 312,217 149,260 201,308 277,261 287,223 194,329 173,251 143,252 270,254 150,265 277,292 109,239 109,245 316,259 115,227 306,235 257,233 125,260 223,240 137,270 269,270 291,217 226,258 257,295 167,256 258,228 109,210 261,310 230,225 272,309 326,276 146,204 156,260 109,232 198,308 221,258 199,257 250,306 189,317 233,231 163,280 121,224 259,289 156,245 230,336 205,229 316,221 115,220 127,253 250,171 278,237 121,206 166,308 139,213 253,229 290,263 217,256 119,253 115,270 186,307 202,253 270,263 326,234 246,189 311,225 162,208 126,245 237,256 178,249 236,257 118,238 164,239 135,222 243,320 222,236 250,255 191,261 304,238 266,307 239,206 151,246 328,226 292,256 120,247 273,240 290,273 251,260 251,283 207,231 273,237 145,234 178,244 290,265 253,325 313,245 310,241 209,245 142,256 245,221 234,216 104,262 184,245 223,335 155,260 216,341 135,258 246,320 278,260 109,259 259,254 165,279 201,221 185,312 199,249 287,260 265,293 207,235 275,237 225,261 191,246 186,237 249,258 104,234 298,257 220,233 296,262 309,238 279,291 281,242 319,257 305,202 298,227 117,249 295,252 279,298 291,298 118,229 323,240 231,331 155,285 169,303 108,223 145,244 316,218 176,230 122,257 307,233 322,241 324,269 278,262 202,252 232,332 113,253 259,228 126,226 224,239 152,283 318,280 116,251 122,220 120,230 305,238 107,253 200,262 324,241 244,245 157,261 160,251 195,243 195,240 279,223 240,259 183,268 316,246 119,249 308,251 169,305 328,259 173,287 154,282 110,210 200,267 316,232 309,201 123,245 280,294 311,262 280,263 171,285 246,256 286,262 271,226 192,231 274,292 161,270 225,341 238,207 132,249 168,295 225,220 323,262 114,248 119,236 238,241 161,221 106,249 314,282 266,306 135,216 230,240 196,314 310,265 240,255 256,329 171,255 169,239 250,315 305,223 131,287 168,206 220,263 314,219 126,278 116,242 304,247 126,243 250,304 144,229 174,227 200,246 289,209 234,258 248,317 292,253 271,230 267,227 107,226 272,287 208,214 132,191 159,293 282,279 283,280 151,247 245,334 238,262 262,281 258,218 152,238 215,208 302,212 328,231 292,235 267,243 269,243 194,318 249,224 127,260 302,251 184,304 225,346 266,265 104,263 290,287 172,236 314,252 105,252 150,259 110,238 237,218 114,227 282,264 146,253 137,253 291,234 246,239 247,320 187,289 247,173 125,254 152,210 171,201 306,204 292,227 198,253 294,238 212,236 299,253 202,327 175,205 163,239 156,250 215,336 160,272 105,229 307,285 245,248 255,295 221,202 287,235 158,279 315,263 223,347 127,237 209,334 285,250 157,247 233,256 123,230 220,251 178,241 133,240 285,244 190,324 293,268 103,211 322,251 259,251 322,232 209,262 196,311 108,261 103,236 234,231 107,252 290,289 177,240 273,287 280,275 219,205 154,285 309,209 135,253 229,249 232,227 190,202 189,301 212,324 155,276 114,238 322,244 207,322 259,266 126,242 244,244 241,263 227,255 281,223 116,237 229,320 275,290 149,259 218,223 178,286 326,227 316,230 292,208 208,229 327,218 325,229 218,209 161,234 114,260 233,230 259,310 323,245 285,249 181,234 204,217 318,247 180,313 108,237 243,332 315,232 260,225 281,294 297,241 301,242 285,267 247,316 283,296 236,251 115,193 266,261 204,214 212,228 216,234 309,241 264,296 234,251 256,216 146,254 177,298 186,296 217,236 281,246 200,321 110,257 203,217 321,257 268,226 274,287 271,247 289,254 192,226 231,340 120,235 113,240 230,261 132,250 320,264 110,227 278,213 210,323 278,272 234,257 162,270 150,205 250,330 218,343 183,313 186,286 234,241 281,231 188,233 298,272 310,266 325,247 154,227 270,309 153,231 154,283 130,232 142,219 187,320 215,276 275,297 201,220 219,241 275,265 166,223 237,236 196,261 115,231 259,260 270,308 300,260 106,259 225,249 107,242 244,238 136,230 316,258 238,311 257,238 205,259 153,243 226,222 238,236 247,332 315,218 240,225 136,248 173,221 182,237 211,259 111,244 281,271 193,315 304,252 228,333 131,263 167,274 231,314 291,238 196,240 256,224 143,248 244,233 140,260 193,216 108,266 184,293 214,336 104,222 103,233 309,242 119,223 126,271 249,230 263,252 237,252 223,255 194,211 170,256 198,266 243,319 142,241 267,319 170,228 263,231 311,261 322,213 117,236 260,289 132,245 104,213 125,241 121,256 174,216 327,242 145,274 198,311 228,251 242,248 298,220 203,315 116,228 147,244 167,250 197,213 322,238 192,255 253,305 198,253 261,286 132,230 203,260 196,261 105,223 309,270 150,276 323,236 162,209 111,247 215,240 221,345 260,309 239,214 152,235 318,234 106,232 238,251 150,260 282,232 260,232 146,240 263,240 215,253 320,262 241,322 216,219 133,256 299,251 197,324 223,222 226,221 298,271 230,253 155,291 114,219 290,211 175,229 257,293 300,237 245,246 232,261 248,322 231,233 287,246 162,291 257,227 114,230 300,236 140,243 234,232 115,247 247,244 146,234 105,234 295,299 151,282 271,305 249,181 274,231 243,340 103,239 153,171 164,232 171,273 203,231 217,242 292,247 211,333 125,243 275,237 308,213 256,223 291,215 291,261 280,242 324,257 299,254 169,228 201,320 144,236 318,245 151,240 271,212 161,274 250,236 160,276 282,244 281,202 307,237 125,266 251,236 216,249 291,241 277,200 173,208 318,234 262,320 293,280 297,230 219,333 106,232 226,341 232,252 122,229 186,220 115,235 305,248 299,257 147,258 274,248 202,244 110,252 245,240 261,231 152,266 122,237 273,281 296,266 307,261 327,235 112,245 180,237 212,245 193,314 107,228 199,249 280,249 322,248 106,240 310,251 290,225 314,244 277,233 193,228 160,275 146,253 268,249 129,270 262,317 281,306 205,254 295,209 104,254 240,336 180,208 236,224 176,232 226,238 200,325 275,309 117,214 298,239 236,259 140,249 175,283 112,226 316,267 208,204 292,282 219,249 315,261 192,242 323,263 252,228 224,333 124,254 123,263 122,241 148,214 108,225 286,223 254,302 328,249 221,333 121,256 162,303 322,235 308,248 179,275 304,252 225,238 184,243 197,235 274,228 253,309 213,265 221,209 264,209 266,301 222,215 233,256 290,232 293,239 251,236 251,253 270,220 147,252 247,320 201,301 223,220 126,232 270,280 188,249 272,283 222,346 323,248 300,256 177,226 119,218 212,209 225,208 296,236 143,257 200,306 154,220 139,244 317,248 182,314 157,283 318,229 192,250 287,267 303,236 250,230 178,253 321,259 198,325 313,252 131,227 231,333 108,241 214,268 121,211 190,245 196,241 323,245 119,233 283,259 306,269 129,263 103,173 239,320 194,316 275,265 148,216 113,248 193,232 162,255 221,229 109,240 114,236 226,339 196,322 270,210 151,201 259,247 273,310 121,233 303,272 261,284 219,345 198,330 116,241 224,246 292,264 137,277 192,236 151,282 223,260 221,255 178,302 185,261 218,226 270,286 116,212 153,241 241,331 129,259 139,254 103,216 261,244 289,226 234,320 112,246 267,233 326,250 248,204 183,226 255,309 106,219 300,260 305,277 116,236 306,250 277,209 245,328 298,192 151,283 238,325 108,242 222,224 305,208 319,256 219,223 268,244 168,296 327,236 304,225 184,267 240,328 281,249 201,240 134,271 135,251 149,232 284,208 228,355 145,214 132,255 150,281 222,226 230,248 295,296 310,251 249,231 233,210 213,227 278,292 119,234 202,214 145,256 133,252 195,233 265,300 284,285 281,225 244,323 200,213 222,246 181,208 195,260 125,210 248,248 190,225 132,262 284,262 233,330 311,211 256,210 201,320 164,251 244,253 178,224 324,214 323,257 215,263 278,250 160,288 136,255 203,235 228,337 284,219 242,235 122,237 136,231 107,219 180,288 314,276 291,231 298,254 161,224 189,291 325,221 186,223 256,251 159,250 222,340 138,219 136,248 189,243 227,329 176,253 307,286 211,228 281,253 131,230 296,294 219,205 260,218 203,309 143,256 229,342 257,315 213,232 179,231 129,243 310,255 128,260 211,261 168,260 239,247 152,250 192,233 148,255 245,318 298,235 215,237 180,212 155,230 177,262 142,248 164,302 269,233 109,261 103,198 163,289 104,262 188,309 299,260 200,308 116,207 229,232 177,244 158,261 189,266 234,247 203,322 257,324 242,314 251,264 178,282 318,241 130,236 247,336 157,284 277,298 190,233 312,240 206,266 328,235 179,263 195,258 203,241 231,213 183,299 320,220 116,220 297,245 181,245 211,345 111,216 318,269 180,259 251,220 214,223 243,224 108,242 226,249 307,274 279,296 245,267 192,314 127,261 318,248 301,242 135,228 288,260 155,222 326,261 232,330 200,318 261,257 133,267 212,239 125,270 266,235 223,256 254,244 201,239 213,345 140,282 221,325 188,305 265,240 273,285 169,261 135,194 194,253 297,240 228,244 313,241 169,276 269,206 159,242 280,228 292,231 167,251 252,312 291,261 327,234 271,284 296,257 160,275 286,265 198,248 229,346 240,266 234,258 320,220 262,217 225,213 129,214 194,252 238,322 175,231 150,207 152,245 293,270 267,275 254,225 155,255 191,306 214,222 219,225 184,288 138,265 250,225 115,231 118,241 264,237 140,259 192,215 161,295 273,236 186,320 133,232 291,255 160,229 143,270 296,240 115,237 273,226 163,291 310,228 121,245 304,262 201,255 111,255 154,282 278,204 320,243 281,232 173,293 227,226 109,261 312,269 241,222 199,265 296,257 270,229 187,313 148,252 297,228 171,275 254,318 235,326 317,269 327,245 293,262 281,236 127,205 243,229 205,205 201,228 262,253 316,226 201,260 108,268 325,235 327,250 250,331 253,261 325,234 140,229 104,206 323,238 197,235 192,323 315,220 160,199 210,215 168,296 289,297 138,231 231,330 149,237 105,223 180,282 324,212 148,251 216,250 229,341 131,241 307,250 105,261 155,240 228,254 157,230 134,211 138,265 251,257 291,262 175,217 160,232 244,331 123,267 202,219 274,297 200,261 132,248 307,258 253,315 151,284 129,250 255,319 103,257 257,256 263,264 122,227 174,300 243,322 230,234 246,302 170,307 157,233 263,245 267,249 265,231 298,252 236,335 305,249 107,226 202,251 126,248 295,161 218,257 318,243 182,261 149,271 154,286 219,344 209,249 112,233 200,314 221,243 195,253 252,219 151,255 118,228 142,243 260,200 186,296 220,246 268,249 123,252 308,231 294,260 250,227 117,243 111,244 202,317 254,249 311,259 210,248 151,248 218,283 277,255 162,279 191,263 212,245 324,220 174,307 116,244 284,255 313,258 166,225 327,226 116,236 278,230 184,312 287,261 325,183 148,213 287,297 326,214 310,281 118,265 178,245 249,298 131,237 194,329 174,224 139,250 237,339 185,215 314,287 136,270 132,221 244,327 289,230 259,262 110,253 116,238 297,256 184,230 168,245 210,239 285,219 144,271 137,265 214,339 312,245 194,318 163,273 116,246 310,228 196,305 218,251 213,256 184,235 288,205 211,209 290,247 190,311 315,231 247,325 213,229 173,291 326,260 143,241 321,259 252,258 106,240 133,244 282,251 202,246 123,267 145,240 212,262 132,224 220,234 256,320 186,262 141,236 261,247 255,298 180,228 271,229 260,303 210,230 150,215 185,260 298,291 110,244 323,246 300,218 284,255 219,216 214,235 258,203 193,261 179,298 228,338 268,256 295,232 268,303 114,265 197,205 306,280 108,263 131,266 278,249 123,215 242,220 241,336 184,235 235,217 157,216 261,235 194,307 115,259 246,238 281,235 254,211 199,306 218,339 156,290 287,249 193,258 150,252 293,241 189,239 313,223 267,222 301,239 196,313 136,270 250,264 303,231 274,221 225,258 165,251 238,243 326,251 188,302 139,221 132,273 240,327 289,243 262,230 285,266 314,248 205,333 215,248 211,221 267,240 209,259 256,236 123,241 222,215 298,270 235,246 312,226 211,309 180,283 303,257 259,221 126,242 283,267 164,252 230,240 242,250 150,253 167,273 142,249 111,262 327,257 110,242 258,308 326,214 177,292 171,307 247,244 320,228 272,250 297,246 281,243 170,254 106,250 161,250 248,252 180,250 233,235 190,229 160,243 201,328 187,239 312,279 286,258 153,254 304,233 233,249 188,219 207,325 268,304 104,250 117,256 107,233 189,315 315,236 296,278 328,238 314,269 167,237 182,224 306,249 257,322 177,266 214,325 305,243 111,211 269,294 158,250 204,332 130,241 291,238 297,234 261,317 288,246 274,300 215,227 204,241 168,272 209,325 172,294 136,250 240,223 231,324 107,243 191,240 263,215 281,284 253,230 279,275 311,241 134,221 239,336 269,272 145,225 277,240 197,267 137,243 112,254 134,249 207,313 208,248 245,342 148,254 307,247 250,245 141,253 292,210 313,256 314,276 135,266 256,244 158,212 132,224 271,295 108,278 206,261 156,223 189,262 183,287 294,270 250,247 312,244 226,261 283,281 282,203 228,341 232,256 206,320 171,302 316,265 234,312 235,202 182,301 228,328 200,310 321,258 229,258 139,237 223,234 327,224 207,241 181,300 194,201 118,239 154,231 167,261 325,269 174,252 191,320 115,213 259,289 222,248 114,246 116,255 120,242 251,241 268,233 199,251 266,241 257,214 256,304 259,257 236,225 267,286 248,243 218,228 107,245 286,296 220,255 104,226 190,238 298,262 324,242 235,234 204,332 177,237 234,342 198,220 141,254 138,239 293,260 119,222 205,322 227,257 244,247 239,234 170,207 298,260 270,238 236,257 224,247 127,246 222,333 106,221 283,269 170,222 181,253 104,263 151,275 316,257 137,264 307,220 215,328 252,209 209,321 145,289 297,244 294,267 267,251 222,324 187,298 246,296 123,240 299,252 266,245 185,231 249,257 229,269 316,238 263,317 138,232 229,219 276,275 117,221 302,237 278,235 203,274 195,229 216,254 120,244 114,235 156,263 209,254 252,320 247,258 268,303 223,193 209,264 293,259 267,256 105,227 243,245 129,226 218,335 192,321 268,302 290,257 286,296 116,241 233,231 272,314 129,253 181,235 298,263 319,221 221,226 208,221 268,265 111,216 260,218 149,264 264,248 146,259 258,312 270,257 277,276 118,252 149,241 308,243 237,258 150,262 108,245 126,240 311,230 206,244 161,262 181,308 248,324 318,239 156,276 257,261 289,268 282,253 207,225 247,290 244,323 111,227 229,270 167,304 308,235 279,203 144,226 173,296 183,312 112,264 157,240 262,257 179,244 104,256 301,233 294,276 126,224 315,259 229,263 294,284 118,218 300,218 194,246 148,270 281,294 318,262 220,262 316,201 308,285 197,244 267,214 327,279 193,319 148,242 294,298 226,251 286,254 186,258 201,247 136,251 160,261 182,263 195,253 321,262 310,218 219,241 161,282 195,318 236,341 103,255 286,284 162,252 219,339 204,252 136,247 227,339 177,312 130,242 287,250 142,241 214,252 229,328 291,261 166,303 165,264 154,254 183,216 240,239 110,262 270,303 236,233 203,224 284,279 311,251 151,247 256,243 149,277 231,350 255,211 244,258 232,342 133,275 134,256 107,255 115,270 176,302 310,237 205,320 312,244 168,213 220,258 259,245 140,220 193,323 148,236 312,256 176,295 226,322 260,262 212,342 264,278 266,237 132,219 220,321 156,237 219,243 205,316 264,233 219,250 116,204 279,228 286,205 239,216 216,222 252,305 122,254 315,248 261,235 159,300 238,327 264,225 208,329 185,308 224,249 164,258 250,228 221,334 163,279 299,257 214,233 267,259 199,209 154,263 261,256 135,259 266,231 231,241 174,298 301,217 203,331 246,310 154,285 141,239 169,277 166,236 115,256 141,280 134,248 328,249 281,245 209,343 173,227 180,228 116,229 279,245 114,259 179,254 253,233 182,232 326,248 300,277 127,245 258,319 263,301 126,256 133,253 163,286 198,212 211,255 305,229 261,321 181,223 241,318 259,214 302,238 307,271 139,249 187,324 226,187 114,252 267,244 140,233 282,269 235,336 209,231 151,259 135,245 135,251 298,237 202,311 204,334 215,266 149,239 251,259 199,221 145,262 244,240 209,260 120,274 270,262 195,301 185,267 186,308 252,254 317,219 140,246 135,272 111,220 209,235 205,228 302,212 250,229 151,220 108,234 115,232 239,341 262,221 185,321 161,235 188,310 182,307 194,234 286,241 318,271 304,220 238,253 189,288 250,318 150,245 253,211 281,215 280,300 233,240 226,224 258,283 170,252 200,315 128,263 267,217 243,253 172,224 276,292 288,219 231,335 155,274 288,226 175,218 240,326 117,248 319,218 143,249 197,230 207,336 303,232 153,248 261,247 311,252 272,206 304,261 223,266 311,263 236,211 218,262 242,318 181,297 222,335 203,335 180,238 190,316 234,342 223,262 222,241 192,222 175,240 171,236 193,248 268,243 111,262 148,241 159,226 290,233 172,236 251,247 161,264 196,254 234,191 228,346 108,261 281,256 310,219 256,320 158,218 138,218 191,298 187,241 185,253 207,318 300,249 229,336 261,229 293,261 208,236 137,265 175,212 313,261 150,220 107,256 163,299 288,293 169,261 257,244 157,238 116,255 246,252 249,337 322,243 171,226 223,337 126,261 314,249 269,258 182,210 258,217 186,229 207,254 139,237 128,253 298,258 203,215 322,244 316,225 325,238 312,245 155,220 117,237 327,238 113,239 256,225 298,222 295,261 274,223 296,284 261,268 220,255 256,314 217,216 155,250 306,268 251,306 257,226 146,255 270,258 288,214 103,238 294,233 296,249 144,214 133,243 121,249 282,224 286,246 208,340 169,225 105,249 194,331 310,240 310,241 290,290 161,224 316,237 133,256 323,225 252,304 237,329 265,298 208,334 142,257 220,348 303,272 150,209 258,237 249,233 254,219 109,245 308,212 287,244 148,243 143,247 114,235 260,261 109,262 170,213 145,251 135,263 131,254 202,206 162,251 115,203 308,240 305,209 162,303 172,267 142,265 237,246 314,228 303,267 324,249 301,279 251,240 153,294 204,251 283,255 209,240 305,223 132,257 245,337 312,247 214,251 175,253 263,229 284,236 182,300 212,255 287,253 123,255 193,202 202,332 200,213 201,240 243,251 216,321 267,262 322,231 241,205 286,201 108,249 263,219 119,229 137,216 108,240 265,318 307,253 327,214 202,231 113,258 322,281 111,221 241,306 321,258 218,324 310,273 328,232 145,222 184,260 190,309 182,309 201,243 298,277 116,256 295,216 328,207 160,247 324,217 153,251 166,228 215,220 277,304 122,217 241,317 299,236 127,260 318,222 232,232 281,238 148,236 284,295 179,262 223,209 311,228 322,237 317,233 134,264 188,240 164,294 307,224 278,274 259,241 282,206 191,258 127,238 180,298 304,241 256,197 210,323 214,207 321,257 163,230 180,259 110,249 117,245 304,251 185,254 125,249 117,251 320,241 242,317 121,267 264,263 137,223 299,257 261,213 200,326 183,315 109,241 252,312 261,297 271,257 250,259 251,218 132,222 137,243 207,229 311,284 315,237 147,250 276,215 209,335 122,226 260,249 321,253 124,220 192,243 274,255 208,333 248,259 141,265 265,239 121,228 221,257 274,276 294,222 183,317 261,243 180,218 207,312 252,252 159,225 262,220 256,253 255,241 317,243 107,258 161,227 295,237 233,234 295,285 131,223 259,254 201,331 158,285 204,237 252,308 264,242 137,258 271,307 188,305 269,308 202,310 287,247 239,342 162,228 125,227 168,255 230,248 103,219 103,250 211,216 269,249 212,339 149,250 162,231 196,237 289,250 213,245 134,230 266,318 187,313 288,242 168,298 182,297 211,233 103,261 183,309 205,325 165,223 233,230 174,227 137,232 141,231 255,301 183,267 286,283 210,344 315,246 105,267 177,274 136,204 309,236 291,249 250,237 204,332 317,213 221,338 114,243 171,214 243,338 320,262 188,325 115,214 233,265 202,263 327,247 166,298 153,278 158,278 294,242 113,247 229,346 119,242 196,216 151,224 130,270 208,236 130,230 194,306 140,240 187,232 175,238 203,231 107,250 123,259 145,219 206,238 279,222 145,234 232,261 142,284 106,250 252,325 133,242 296,273 307,239 285,244 142,224 138,264 316,229 154,284 325,214 300,286 154,262 108,260 202,316 181,245 316,219 149,289 259,318 190,257 275,311 285,248 283,310 209,222 169,282 236,240 276,230 307,228 287,243 316,269 248,248 138,251 239,250 182,307 231,254 296,229 171,311 197,236 294,286 318,243 205,235 207,254 198,242 114,253 267,301 312,238 141,206 298,250 282,195 184,227 142,257 240,236 250,238 144,235 282,235 150,235 119,237 201,245 125,263 150,283 257,258 214,327 197,260 111,223 131,261 294,282 262,237 229,345 169,256 302,275 171,216 235,314 106,227 222,268 251,320 183,235 137,244 148,237 328,233 176,258 274,261 249,251 281,233 121,245 131,256 245,244 169,252 284,240 236,237 244,308 179,296 122,236 236,320 300,214 222,260 291,292 136,230 286,269 310,211 117,203 125,233 128,261 235,332 289,255 136,225 123,222 148,252 191,234 237,307 266,260 126,223 259,259 324,211 280,267 161,228 154,233 261,282 231,333 265,243 277,227 320,258 119,239 210,238 272,275 317,267 113,224 173,205 189,258 152,251 282,240 320,261 169,262 230,218 225,345 205,331 264,257 292,215 160,283 139,235 302,237 107,243 214,339 139,231 278,288 228,322 121,255 151,254 222,255 291,265 282,278 192,214 267,257 142,243 128,252 247,312 125,243 206,327 296,268 126,236 190,260 257,243 229,340 111,268 120,246 162,208 281,223 315,263 140,239 251,244 161,239 236,334 269,236 317,238 160,213 141,251 231,328 247,259 167,242 191,250 322,252 247,255 179,232 129,256 223,230 184,299 159,203 165,274 104,240 281,209 182,320 307,261 287,260 286,220 115,238 181,183 237,229 195,320 217,337 314,237 155,239 240,217 320,246 234,351 223,259 175,243 315,232 126,214 273,287 251,225 273,228 244,302 122,260 158,262 219,320 162,262 128,248 120,218 185,295 173,309 190,328 299,227 255,228 206,229 254,304 170,302 206,320 317,216 281,245 285,251 208,250 243,315 226,209 255,251 200,344 132,262 299,243 298,236 253,320 317,253 243,248 185,238 250,259 282,256 251,266 255,257 216,247 280,251 308,282 274,232 198,303 241,253 199,326 277,288 176,283 297,249 154,239 184,252 195,239 279,248 163,298 216,263 185,319 171,256 237,334 314,228 284,276 233,222 211,255 198,222 296,260 287,256 142,227 135,229 253,209 145,250 140,205 214,255 206,245 307,246 228,321 140,218 251,225 184,258 304,240 202,315 237,249 186,308 323,216 233,237 200,248 221,258 201,236 125,261 257,256 108,235 106,246 125,219 299,250 108,217 104,258 247,309 109,243 282,275 202,260 235,332 271,255 249,242 303,242 187,216 327,231 114,235 279,258 202,266 241,315 174,261 174,300 103,269 191,314 304,207 188,247 224,338 218,336 284,265 114,226 309,224 281,262 180,221 193,254 306,206 120,251 262,234 312,219 177,261 321,255 133,236 231,248 126,258 263,242 264,215 119,214 189,314 295,250 151,270 322,217 221,257 109,256 242,267 326,231 110,239 292,290 144,265 281,296 125,245 162,235 249,241 260,239 155,195 254,240 217,338 192,238 174,243 257,299 183,239 203,246 307,262 111,242 224,239 242,208 243,321 190,222 251,304 219,338 132,246 133,274 143,262 170,255 185,218 325,241 306,262 255,320 278,247 246,319 176,260 131,241 200,321 146,281 275,259 174,304 314,259 131,270 314,253 109,266 309,231 159,269 150,247 212,246 218,215 269,303 217,255 292,241 270,299 208,252 249,266 172,264 293,226 294,227 109,281 159,231 308,240 215,343 105,253 316,232 318,260 257,255 201,212 286,244 233,227 173,253 135,239 128,212 201,208 237,340 205,247 119,241 164,240 193,311 158,234 223,332 228,238 240,263 252,226 161,240 323,262 298,251 292,228 254,227 234,229 283,235 105,238 192,320 296,256 230,233 173,302 278,279 144,252 258,206 293,276 117,239 186,314 267,267 188,283 125,249 275,307 156,261 109,239 242,222 317,255 211,215 248,222 187,257 253,312 230,211 192,254 110,203 278,245 255,233 148,250 268,306 190,232 105,224 159,234 211,337 245,331 239,335 326,220 182,322 113,251 310,238 328,213 153,242 282,254 291,247 179,217 322,243 169,207 148,256 245,255 232,231 239,245 167,307 268,256 228,241 309,278 145,272 212,316 121,255 208,258 160,305 194,315 220,249 185,282 192,253 162,234 146,268 114,261 106,250 169,257 196,294 126,230 322,244 253,235 280,258 175,276 121,245 198,255 197,250 208,215 312,250 155,296 301,232 157,228 151,284 278,265 124,273 105,161 311,279 320,227 325,235 132,236 249,333 215,210 199,234 107,255 186,298 175,240 133,221 130,250 116,227 223,332 196,305 209,320 222,231 160,246 214,246 142,234 140,262 229,234 184,224 125,232 174,234 190,303 306,236 192,315 328,242 324,258 202,247 275,255 304,273 214,239 181,268 225,235 284,280 217,328 237,336 184,229 141,232 324,258 291,279 293,255 141,260 268,208 319,235 282,286 104,247 272,286 311,261 187,212 309,215 253,287 115,206 257,318 113,251 166,280 252,242 248,303 273,244 189,301 137,235 289,266 326,239 316,247 294,286 289,258 223,326 199,256 210,340 151,258 116,251 223,232 178,259 211,209 274,249 136,282 277,227 203,253 149,231 244,317 250,238 177,226 193,305 239,323 136,251 304,229 311,244 303,247 161,262 255,229 179,307 251,311 183,320 187,304 225,201 319,225 285,242 323,280 194,256 111,259 209,232 119,243 216,254 225,258 247,315 213,333 262,294 252,243 236,333 310,254 297,252 328,235 138,257 103,262 109,258 223,230 281,264 210,318 291,250 228,325 114,222 314,267 173,307 264,301 271,233 322,232 236,253 261,239 182,289 208,223 282,226 210,221 111,242 151,232 131,235 185,222 224,346 250,310 289,270 130,268 213,339 283,291 296,250 290,238 254,206 191,235 315,239 228,248 121,234 142,240 302,254 204,254 154,295 196,318 282,255 186,244 256,221 299,231 267,231 214,221 252,323 295,301 172,254 295,261 192,317 227,236 162,203 188,302 325,229 236,263 219,259 166,255 225,252 145,257 193,296 320,250 154,276 195,235 267,255 186,263 305,247 162,280 304,235 231,342 274,258 176,230 153,261 262,209 204,247 186,228 112,240 300,252 288,258 303,233 325,218 248,328 188,262 150,225 157,229 160,307 273,256 300,219 221,206 176,288 315,263 174,235 280,302 143,255 144,257 184,242 224,240 190,243 310,248 305,206 262,231 225,229 228,253 301,267 249,254 301,234 222,258 209,244 142,279 170,288 317,247 226,337 195,293 259,229 189,310 181,249 181,225 178,280 294,229 281,247 188,257 170,301 259,330 262,231 172,222 273,267 121,230 328,242 262,214 190,244 293,265 244,229 108,254 254,219 197,327 311,236 313,228 141,265 108,244 146,262 309,264 200,246 326,253 111,260 110,244 232,240 255,322 115,257 234,338 168,213 125,278 281,244 209,345 150,233 188,270 311,241 191,222 234,264 227,238 221,255 312,236 283,244 296,265 316,240 245,213 250,213 231,233 197,288 108,237 232,314 171,278 150,262 256,211 104,230 258,285 221,349 154,199 297,241 164,258 145,217 186,225 169,306 224,249 303,235 313,258 291,229 134,236 317,245 139,244 297,258 313,253 127,274 160,264 171,294 267,263 215,192 148,269 229,218 109,240 129,266 147,288 172,305 139,238 305,243 109,230 179,305 290,284 178,244 152,236 201,323 234,265 152,264 294,260 202,209 223,237 236,347 191,263 300,219 206,322 211,318 136,255 158,253 257,269 179,255 304,239 257,225 318,269 257,326 311,261 216,265 326,223 196,247 140,277 306,263 103,263 200,304 170,291 133,248 126,255 114,227 288,304 219,265 205,238 120,232 176,228 119,209 191,309 195,318 253,228 113,220 286,215 264,307 290,292 108,260 121,229 124,240 301,238 190,220 267,243 254,310 222,242 328,206 113,248 221,345 132,221 298,251 103,224 195,319 282,256 213,260 208,225 245,324 270,260 235,329 171,258 256,316 249,321 149,226 250,239 293,244 246,297 309,244 210,202 233,245 160,237 280,258 302,245 126,259 261,231 132,249 222,333 161,254 130,252 237,220 180,262 297,246 223,347 242,217 311,241 131,233 229,219 161,284 106,226 283,291 246,338 124,253 191,236 244,224 246,241 271,202 285,242 171,222 224,230 272,245 244,314 179,302 226,203 103,210 252,249 159,271 269,235 184,290 149,231 144,247 124,246 239,208 161,284 145,238 173,233 215,240 202,226 246,315 301,262 125,262 122,213 234,222 169,259 153,293 157,277 250,217 166,210 272,286 294,248 186,317 185,227 199,326 322,229 195,233 292,261 180,283 264,301 130,219 170,243 169,214 311,218 309,242 291,282 217,245 126,239 177,227 231,221 244,247 184,261 241,309 296,219 160,257 270,304 246,261 131,245 284,302 317,231 106,226 299,255 292,260 263,238 161,252 305,241 127,240 268,323 294,221 168,256 132,233 142,240 294,290 298,222 175,282 191,241 221,246 288,226 113,258 314,247 303,287 160,246 150,236 125,234 163,266 142,236 205,334 165,255 241,318 292,244 172,214 286,293 194,241 139,275 203,254 148,220 320,255 302,246 279,259 127,252 179,291 265,302 264,298 127,219 125,236 296,277 118,233 223,334 263,297 106,222 161,295 172,215 258,240 155,245 129,254 262,226 111,220 289,290 184,254 144,249 182,315 190,235 293,212 284,277 127,214 195,249 323,257 194,316 226,348 114,243 216,337 115,253 128,256 197,316 174,233 310,245 262,254 147,255 280,222 203,322 190,229 207,238 256,264 177,266 201,203 260,186 137,245 223,229 258,226 120,230 302,240 307,274 205,221 194,228 161,253 234,263 278,237 160,247 208,246 249,243 204,247 184,259 175,212 238,234 294,253 149,289 145,207 162,239 154,267 316,216 202,336 121,244 171,240 256,312 296,243 188,234 259,231 252,320 233,229 243,241 283,303 209,201 152,252 265,230 287,246 241,264 213,259 245,253 266,209 112,245 306,227 160,226 240,334 112,242 215,247 197,225 283,298 301,253 285,262 144,230 230,264 107,223 252,217 160,264 261,238 213,254 327,260 262,289 176,242 194,319 180,282 199,255 204,329 291,237 297,263 294,263 158,257 187,308 201,225 136,243 150,268 231,353 116,268 190,313 218,247 184,314 275,261 290,253 121,256 315,272 167,212 235,342 298,280 225,341 192,255 117,251 321,265 104,211 325,240 205,324 314,225 207,207 166,303 287,240 254,246 139,224 324,250 118,236 239,254 317,246 223,341 169,260 211,237 171,285 318,232 145,271 307,244 307,232 208,257 291,256 275,252 320,258 318,258 238,223 197,243 205,323 258,253 264,219 278,276 199,238 140,230 146,263 291,222 182,243 234,203 236,328 227,238 248,315 276,215 249,231 210,247 181,214 246,259 253,299 211,247 155,256 157,264 317,228 201,222 243,349 187,215 266,258 156,294 288,294 204,333 311,245 106,216 197,259 202,318 131,233 124,244 215,243 300,230 138,270 194,322 264,226 131,256 149,239 270,307 147,211 226,260 232,224 125,241 300,248 271,294 103,226 267,259 299,286 264,239 235,262 291,253 163,241 139,278 107,242 233,332 132,244 297,272 176,294 112,232 210,230 290,296 244,258 289,284 182,287 310,237 251,331 246,335 260,324 245,234 270,221 313,280 242,236 200,216 282,264 321,221 140,239 124,246 258,260 292,292 275,291 181,284 254,237 315,236 272,284 124,243 268,278 190,252 236,273 252,309 320,233 213,253 217,327 153,265 261,246 214,249 119,243 321,230 151,228 186,247 160,227 294,275 316,251 290,247 197,313 235,221 206,231 224,343 111,227 234,248 215,239 325,269 209,229 202,242 250,311 233,338 317,249 164,252 269,239 295,222 285,274 198,224 260,250 255,289 248,217 206,248 112,251 121,232 318,236 120,239 228,238 283,302 319,210 310,259 291,206 238,313 140,256 264,315 192,223 194,303 151,254 306,271 298,274 215,227 226,247 188,256 304,258 226,241 187,224 212,316 135,277 234,228 208,336 293,253 251,306 203,323 165,237 199,323 147,240 131,213 279,244 258,238 204,258 123,225 144,268 313,209 200,244 129,222 135,238 199,328 304,245 254,315 196,253 288,218 196,314 130,253 301,283 286,256 200,247 287,248 263,253 317,275 130,244 304,234 233,222 225,224 269,257 286,280 157,268 116,233 246,263 117,254 324,241 126,253 225,349 206,221 224,345 227,251 275,239 221,203 314,219 139,241 313,229 261,246 191,262 170,274 231,342 214,220 286,250 115,224 199,312 244,309 313,234 208,237 308,234 137,234 124,263 218,257 169,238 211,335 291,249 254,326 268,233 253,310 211,332 191,251 135,213 219,251 252,257 290,217 157,239 291,241 262,300 324,252 210,317 273,309 210,221 316,225 219,329 303,236 318,224 274,258 181,242 137,255 239,253 168,304 160,249 122,253 188,300 209,325 197,217 122,262 256,225 194,326 255,307 282,302 174,226 232,236 284,236 230,263 269,215 258,260 305,257 231,241 215,344 133,211 221,350 284,281 317,265 292,257 172,311 216,226 164,298 141,246 157,224 201,326 225,243 261,261 158,251 261,236 248,290 152,234 180,238 281,236 115,259 237,319 321,249 259,237 189,309 248,254 261,300 151,257 285,305 247,229 309,242 265,257 238,245 274,227 105,228 303,230 109,249 206,213 258,326 292,276 299,234 298,234 185,228 123,262 249,241 278,241 166,277 271,218 209,225 123,216 251,230 104,240 182,315 322,254 301,275 245,324 241,323 181,258 154,271 178,301 262,308 325,226 322,238 176,246 316,222 191,315 220,332 250,227 200,323 261,243 313,251 212,227 251,245 229,342 236,342 203,222 284,296 162,244 251,297 232,244 326,233 218,332 286,210 301,235 234,251 325,258 157,269 184,292 165,286 112,252 254,249 274,267 222,337 309,229 328,232 303,234 320,256 253,308 273,296 104,245 304,261 176,219 137,218 236,218 255,323 272,256 178,281 283,244 268,215 181,310 110,242 274,226 103,242 178,301 291,246 133,235 206,318 324,271 144,256 294,233 107,239 267,276 215,247 191,248 268,245 167,246 255,238 286,254 241,227 135,233 246,232 291,253 122,255 243,220 289,313 234,246 313,265 266,221 296,250 161,244 226,232 113,276 228,253 230,338 297,297 245,221 310,242 241,238 151,261 111,244 296,239 291,256 167,223 267,249 129,243 293,272 117,247 255,328 196,320 237,254 178,248 109,251 308,279 117,222 165,226 249,223 235,336 204,230 165,228 214,336 302,257 217,333 299,288 257,300 138,268 122,261 244,239 293,192 164,302 192,249 255,242 282,262 207,309 223,210 107,245 182,250 196,327 326,232 187,215 127,254 190,247 251,327 260,255 272,276 304,263 276,247 324,256 231,341 239,242 327,218 141,269 195,324 225,231 149,241 239,230 189,242 169,226 137,250 286,246 161,236 122,173 251,321 304,277 145,286 185,306 215,320 322,254 227,253 304,248 163,289 303,263 203,228 288,234 122,259 248,322 138,262 252,321 247,330 195,270 288,235 320,249 244,327 185,252 275,233 120,239 240,262 244,238 309,237 262,218 149,222 113,254 202,264 322,238 175,218 307,271 257,310 248,319 256,316 165,282 209,341 168,268 127,260 171,231 190,257 303,297 153,267 180,262 322,235 274,315 297,273 217,226 252,214 226,226 287,225 295,239 318,227 223,259 327,256 132,244 145,240 214,324 119,266 279,233 186,238 307,260 309,231 300,263 305,209 126,249 306,251 292,235 209,328 167,245 181,248 114,239 249,263 178,255 281,233 191,267 136,210 290,238 234,216 287,263 142,230 231,234 153,299 279,305 305,270 105,259 120,243 156,240 262,297 267,256 189,216 205,338 244,209 301,213 158,279 290,205 210,239 162,289 203,231 311,210 144,285 138,272 138,218 164,236 141,250 134,255 152,268 190,255 219,317 298,246 254,222 189,205 111,218 277,235 280,231 249,243 312,227 122,203 117,269 131,264 267,251 131,232 205,241 174,211 192,232 188,316 207,313 188,261 186,243 308,280 223,213 107,274 273,218 200,223 281,259 220,336 117,257 263,245 294,202 191,231 197,232 130,249 211,239 198,310 166,260 202,232 144,268 259,238 129,244 282,255 273,227 171,259 130,256 313,264 235,248 308,259 196,306 142,238 297,249 112,251 288,290 256,238 162,295 300,261 309,232 248,237 310,239 249,240 177,294 129,230 109,213 105,242 326,226 123,257 327,247 210,333 113,257 286,280 284,249 196,255 158,292 112,251 114,251 205,235 312,266 320,234 159,262 209,341 303,260 183,258 231,343 169,270 122,209 243,215 280,222 321,248 244,314 225,337 131,253 177,272 270,248 286,241 245,251 128,210 209,330 158,208 298,232 254,320 325,279 217,245 178,258 322,240 234,334 234,237 176,281 130,235 249,252 290,245 233,228 300,261 311,250 165,279 135,276 205,208 189,313 297,265 321,244 285,236 312,250 216,341 323,247 275,287 245,260 180,289 328,234 227,213 257,313 323,205 286,228 106,240 116,253 135,281 245,220 198,299 127,259 265,203 284,272 115,269 224,346 189,312 309,279 252,239 276,232 118,225 297,249 266,315 274,255 315,224 327,256 241,211 306,257 203,215 167,215 153,300 226,347 242,316 248,253 140,218 310,233 208,262 190,311 110,228 187,218 276,261 186,300 303,265 321,253 222,252 279,256 146,229 149,236 191,319 230,225 285,295 179,254 150,278 305,231 273,245 188,314 107,228 184,293 147,219 281,274 189,255 133,244 181,207 279,303 228,220 192,188 222,341 324,259 203,233 198,256 297,251 286,300 134,213 271,287 150,256 120,267 298,232 224,334 142,239 138,242 156,234 178,309 131,245 275,247 251,215 248,325 210,332 244,235 142,230 263,199 248,324 168,241 283,270 189,225 124,272 248,234 301,242 293,253 270,294 120,239 281,249 262,299 223,255 304,228 277,218 249,311 181,242 158,234 316,241 124,235 275,307 242,216 325,267 111,257 128,251 299,227 307,273 227,242 116,249 300,219 131,241 276,265 256,324 298,261 279,242 250,319 263,305 291,228 294,279 206,327 167,237 145,253 251,318 221,215 197,257 266,252 295,247 216,225 221,344 297,260 285,257 127,244 179,250 266,263 104,266 319,258 183,296 259,282 184,215 305,254 301,284 212,322 289,232 133,219 284,295 254,226 224,341 216,335 318,219 138,259 239,241 242,253 289,210 265,236 215,263 257,252 316,269 243,203 281,210 129,250 324,254 243,303 213,328 262,305 300,210 224,223 157,286 286,249 190,266 249,308 248,243 208,233 136,248 136,280 155,282 272,244 141,212 123,241 172,283 180,261 141,237 206,329 231,238 157,217 304,228 244,252 105,239 195,325 290,235 230,232 238,321 297,238 197,332 211,344 226,236 314,244 194,323 243,251 241,226 298,251 204,201 159,238 296,271 253,235 181,321 238,221 174,317 151,191 142,250 247,224 128,208 241,323 188,288 145,263 242,230 199,320 265,240 301,219 195,262 248,260 324,246 126,246 156,224 236,315 285,263 174,240 289,262 188,315 287,222 140,256 302,227 159,253 218,231 251,256 118,269 133,264 259,294 318,202 215,258 313,237 234,336 138,230 228,242 300,284 133,231 119,232 213,335 231,222 283,218 130,250 295,229 123,269 106,251 110,222 252,296 292,268 203,233 259,255 196,264 156,232 202,208 104,212 152,248 221,342 277,276 293,255 195,244 255,255 213,320 141,246 315,223 193,246 256,311 115,260 113,256 295,285 125,262 305,237 133,263 180,293 170,261 139,213 168,281 302,254 208,334 265,232 138,251 178,227 289,250 222,249 289,229 125,233 300,193 320,255 282,264 164,293 237,329 245,263 268,270 196,305 195,216 130,252 161,280 158,206 134,260 215,245 282,245 204,218 291,282 222,245 215,323 245,248 151,258 190,301 197,241 315,252 151,258 218,348 109,260 111,245 194,258 233,333 254,215 133,272 192,312 182,309 222,230 221,204 269,300 188,222 159,270 244,246 248,304 274,246 176,232 251,254 201,233 141,253 270,207 142,284 204,238 310,274 266,261 236,332 191,232 126,208 263,305 142,268 207,332 241,222 186,216 150,232 249,337 263,223 286,277 194,253 222,231 147,219 222,239 297,231 266,251 224,332 173,238 178,283 159,242 204,211 213,220 231,343 257,230 204,205 217,226 207,226 104,270 125,274 224,345 192,313 143,258 109,223 254,251 237,325 314,233 322,243 162,267 153,211 218,251 191,239 225,227 209,214 185,228 270,274 203,329 293,265 191,233 323,258 250,308 310,282 150,256 201,334 143,249 207,252 239,257 125,205 165,304 214,345 300,207 245,324 254,261 176,231 247,309 181,233 107,224 304,285 265,237 247,214 202,326 200,234 313,242 162,241 279,254 121,252 324,224 302,253 175,230 327,266 123,219 279,253 243,260 211,350 282,247 306,222 201,313 110,249 286,229 120,258 236,249 284,223 130,258 270,243 302,291 177,238 175,172 269,250 308,259 261,239 319,257 207,328 132,256 179,226 154,284 317,266 104,259 290,255 180,279 213,211 114,232 198,254 126,251 251,225 146,261 315,264 227,214 311,264 309,258 170,271 218,338 274,247 210,315 177,229 191,308 298,255 317,227 165,253 285,211 192,321 104,215 243,250 289,259 239,256 123,254 159,285 131,203 171,256 162,242 287,244 275,246 213,348 107,251 183,263 325,261 127,251 315,212 203,339 181,244 191,223 174,263 143,246 319,227 215,245 292,287 182,287 328,257 193,314 230,322 321,252 248,313 325,248 203,257 208,259 274,239 259,283 108,256 220,231 231,209 294,239 311,260 262,260 198,218 143,239 152,273 193,316 282,244 170,294 107,241 291,257 162,272 114,248 236,251 250,314 169,313 166,298 234,319 224,245 205,245 110,254 234,209 272,286 203,209 324,240 141,260 174,221 284,212 155,291 217,343 245,224 196,202 156,240 169,250 120,256 250,303 181,313 215,330 111,264 274,261 246,243 291,283 263,247 142,248 199,312 237,241 209,317 180,216 281,219 274,287 223,335 233,262 229,347 257,225 172,305 156,239 179,256 220,208 240,236 155,202 194,254 183,244 135,255 165,216 104,223 222,211 189,218 211,238 307,244 125,246 261,321 192,317 196,221 227,239 303,246 189,246 247,205 252,309 228,221 233,247 128,250 278,299 286,290 103,242 218,248 282,290 157,254 155,215 240,203 161,219 309,235 178,232 138,225 120,203 273,298 209,340 217,334 262,239 287,258 149,245 261,303 274,258 285,294 115,246 195,252 259,233 116,246 229,342 176,297 207,333 239,238 316,255 125,261 233,247 180,255 131,249 113,276 311,214 107,276 226,251 291,283 286,217 274,224 315,236 292,288 260,227 197,250 221,217 275,293 238,243 263,301 253,306 137,279 321,233 161,229 142,209 289,242 132,231 298,251 321,235 188,296 196,325 244,207 249,257 157,246 158,263 154,243 269,299 112,234 230,345 308,262 218,206 268,282 173,227 309,245 311,257 316,221 267,300 238,334 168,221 286,248 134,257 255,257 244,244 173,264 271,210 183,259 114,220 168,227 239,258 154,291 298,232 223,261 174,255 143,277 185,245 283,288 160,260 311,239 128,251 223,254 216,239 200,310 149,253 136,261 184,240 235,237 221,239 153,213 176,222 263,312 299,242 240,320 292,254 133,250 105,236 141,248 187,238 160,252 267,281 219,331 257,299 160,233 214,230 256,248 280,250 215,226 152,223 203,227 306,242 326,246 118,258 249,233 168,282 140,223 236,344 134,254 283,245 325,249 316,236 285,218 213,213 140,247 148,258 310,215 178,291 188,252 246,245 283,268 145,266 120,218 173,298 323,261 140,242 221,207 256,295 130,248 191,254 296,232 327,254 244,208 240,321 140,230 143,252 194,314 130,264 146,267 305,260 128,239 184,265 272,312 168,257 158,266 173,295 200,329 111,239 170,242 251,227 238,244 166,208 301,268 109,227 115,258 147,208 199,233 258,305 219,340 312,280 116,239 224,334 207,251 202,322 318,220 256,250 249,257 174,228 314,240 232,246 121,246 250,314 111,228 187,319 214,213 309,216 319,227 226,250 186,307 152,229 236,264 127,226 217,214 168,256 291,268 107,255 251,329 154,299 287,249 116,239 302,210 280,253 233,201 175,214 291,247 198,245 137,225 210,252 246,203 303,246 245,211 165,239 199,317 299,260 232,327 291,298 288,298 317,245 227,227 233,235 223,230 258,222 266,244 148,242 159,264 282,204 224,325 311,286 106,243 165,232 168,261 250,212 169,303 220,221 237,225 143,285 200,323 273,217 181,265 227,237 328,266 163,295 268,214 112,244 254,233 112,206 135,232 275,239 110,240 229,244 170,253 255,195 154,231 207,328 247,219 116,233 127,253 270,269 276,246 210,318 189,307 300,270 207,233 247,313 240,327 280,286 269,282 218,207 297,273 217,219 149,222 143,247 187,260 183,172 204,212 292,228 150,237 184,208 169,299 297,251 148,204 201,243 279,230 327,224 327,209 286,282 266,221 281,249 157,202 209,280 187,261 206,320 189,301 193,246 162,226 280,233 191,310 116,241 273,307 295,243 116,220 305,253 123,251 311,251 165,223 130,218 210,319 277,308 232,225 190,233 120,239 161,274 177,236 312,248 228,230 320,203 324,202 129,257 218,317 203,227 175,247 182,243 271,302 112,232 144,252 193,247 153,287 324,233 290,241 196,230 299,268 183,300 232,234 305,202 156,229 186,229 314,265 215,234 312,239 151,228 189,309 302,261 270,299 107,241 226,346 179,243 263,252 286,260 233,261 224,352 257,264 310,246 123,262 193,309 137,237 190,244 138,216 104,277 110,235 315,246 232,258 116,202 216,334 174,233 259,276 263,239 306,276 208,250 240,337 190,329 157,226 114,207 239,242 228,200 123,252 293,239 131,244 305,207 287,274 315,279 292,232 195,316 310,270 173,249 234,215 273,206 318,234 207,322 295,265 172,220 275,245 258,226 112,249 268,255 205,332 267,247 303,225 110,225 143,219 213,231 224,235 166,290 316,217 213,203 291,245 215,335 119,226 262,204 275,233 124,237 282,291 322,260 266,252 198,259 301,275 247,233 275,245 310,260 276,285 281,221 259,326 262,223 203,259 209,260 305,259 222,250 208,299 185,304 147,252 218,258 298,241 124,239 255,224 249,329 252,239 318,309 214,346 122,256 261,315 178,308 300,227 161,287 174,304 209,330 170,277 128,215 181,308 256,247 229,228 225,237 245,243 262,246 274,241 281,286 241,256 257,314 312,231 211,310 108,251 135,229 255,329 278,258 219,236 316,239 284,233 268,316 131,254 123,232 129,235 198,326 299,269 126,230 134,236 188,315 111,255 119,224 239,238 264,233 244,264 248,233 246,340 191,290 315,239 197,246 160,240 120,255 177,291 303,226 106,223 153,237 272,251 292,247 155,250 304,239 181,301 164,204 128,244 138,260 272,269 310,228 298,254 134,269 305,283 250,302 248,298 109,245 235,259 324,209 260,326 149,263 280,267 313,231 104,255 252,319 223,258 213,341 288,245 183,303 196,328 288,224 211,233 183,219 187,242 293,254 141,252 227,348 277,294 314,270 262,232 268,298 327,231 300,285 202,268 113,215 291,243 249,229 283,220 192,191 250,229 119,261 209,221 197,240 279,277 303,238 255,243 323,249 301,235 230,328 316,264 320,271 185,221 313,265 279,263 161,240 173,240 259,230 144,262 268,291 289,254 175,233 228,237 274,235 306,246 111,262 169,237 196,246 203,245 183,250 285,285 125,220 215,236 144,254 134,261 128,239 179,248 239,224 274,233 191,235 115,222 292,248 282,228 150,282 120,238 216,201 109,235 201,254 223,217 160,268 182,240 272,251 296,246 128,255 262,241 263,325 270,305 154,208 204,238 217,336 232,251 164,250 150,242 123,232 209,219 283,277 123,224 111,233 312,271 313,240 294,261 167,213 228,253 266,205 295,261 167,305 316,259 153,255 288,264 145,258 171,297 305,255 237,327 246,247 163,263 182,305 109,240 166,238 243,209 146,231 247,249 209,229 204,252 149,241 320,225 167,261 226,228 175,286 270,309 321,252 123,249 187,305 287,214 165,258 322,257 190,210 141,223 136,231 238,247 110,243 309,257 159,263 112,257 142,254 122,217 211,234 144,260 174,310 138,284 126,264 122,269 244,231 297,284 323,244 164,208 126,246 311,249 305,257 313,210 284,246 297,234 204,247 302,263 155,240 289,218 201,330 298,247 290,247 250,246 235,259 203,230 272,242 248,321 324,216 303,231 281,248 172,299 280,295 172,223 129,229 141,251 293,255 166,234 209,222 112,242 167,237 123,252 265,254 163,222 276,242 325,267 179,253 281,272 281,232 147,255 279,218 268,259 180,259 274,208 290,266 111,207 118,267 315,253 177,306 238,269 133,253 209,242 288,285 107,240 230,340 226,250 143,281 245,163 157,256 115,250 207,227 205,266 291,252 323,249 193,290 287,242 166,220 290,221 180,300 311,230 299,237 280,262 125,253 268,231 154,245 233,335 178,224 263,237 277,256 300,286 304,214 212,257 276,252 284,280 260,238 324,234 218,186 168,237 203,251 214,240 164,292 190,315 207,215 132,236 192,239 132,194 264,242 119,235 216,209 196,234 243,238 325,244 134,245 230,331 147,279 221,245 224,346 217,259 188,239 109,246 138,201 282,253 127,222 282,217 143,270 240,328 223,327 146,231 167,256 225,256 198,249 103,245 286,298 315,245 253,261 141,283 259,259 256,317 264,245 212,251 311,255 318,244 283,262 267,251 279,283 204,228 130,217 310,208 211,208 254,325 200,324 166,277 209,232 293,237 148,263 177,306 137,232 273,254 134,242 107,253 113,231 135,251 157,210 221,213 292,263 113,247 202,307 150,253 246,263 110,240 190,315 114,230 186,312 232,215 170,253 154,254 136,224 156,258 311,242 172,276 263,257 202,318 271,305 301,265 209,219 107,238 214,241 270,301 165,240 149,254 215,232 214,343 125,236 301,245 257,241 232,229 232,234 306,226 226,209 293,254 192,310 314,229 251,242 314,248 232,244 240,233 157,227 224,338 321,213 287,265 265,286 316,251 162,294 312,248 124,242 289,263 183,308 226,344 178,229 144,277 251,312 162,222 242,244 208,264 302,251 283,294 125,248 174,314 235,336 204,242 243,261 143,240 221,241 269,292 301,225 228,345 231,227 140,219 208,220 235,207 234,249 191,333 263,322 169,278 265,320 281,255 207,241 230,340 299,269 238,333 156,262 178,225 173,247 226,240 305,237 203,319 189,255 275,222 246,265 239,256 280,261 128,256 281,252 318,269 237,253 153,240 301,246 110,250 324,222 174,234 161,295 256,245 262,242 267,212 262,256 298,250 269,259 245,243 177,305 149,234 294,258 208,326 186,305 132,248 308,263 207,259 220,253 124,219 220,232 147,260 191,252 197,217 263,306 126,236 300,270 249,249 221,253 210,245 146,259 226,233 267,257 151,243 292,288 308,248 237,202 189,263 166,291 110,255 190,305 230,255 267,230 199,322 219,331 108,258 252,232 191,311 151,274 106,250 236,240 281,276 150,221 172,209 157,271 216,337 276,245 184,282 321,230 240,328 167,220 322,205 198,225 254,295 210,231 158,269 297,211 305,246 265,293 274,196 144,257 296,234 263,206 230,267 160,246 234,262 154,198 267,264 187,219 174,252 207,252 278,242 159,207 167,284 261,230 289,255 296,259 291,272 228,258 199,225 160,226 122,255 204,241 203,243 197,301 111,229 263,236 325,240 272,272 179,302 277,277 276,212 228,338 323,238 169,229 261,216 237,250 273,242 111,216 230,246 322,227 319,252 255,237 159,226 108,252 269,249 265,226 261,243 245,233 198,243 176,289 199,222 226,332 320,268 285,295 275,227 150,253 147,230 230,337 163,251 198,311 251,307 148,237 273,208 194,308 237,233 294,264 108,241 144,242 232,226 110,266 295,230 162,256 200,221 218,330 217,322 300,243 174,206 303,245 267,243 280,229 132,230 178,206 189,235 257,317 171,222 153,210 282,262 143,243 112,269 147,266 235,247 202,244 315,244 124,230 215,259 126,256 211,323 302,242 244,252 186,255 207,319 181,242 209,261 139,237 248,309 286,268 114,225 256,303 150,232 296,250 253,228 269,262 124,240 217,212 286,283 133,219 307,260 110,267 286,283 246,209 265,262 162,240 293,290 309,268 322,235 232,236 210,280 229,239 243,322 296,250 122,254 171,248 222,333 220,343 235,331 242,318 266,303 226,340 184,248 149,232 314,264 290,239 205,229 152,234 133,247 266,276 172,220 191,305 190,234 235,231 169,278 302,248 267,291 294,268 231,261 327,227 207,313 230,223 173,290 144,241 158,240 160,281 311,237 224,345 179,303 104,216 299,247 187,314 167,224 315,263 263,239 155,254 293,239 231,330 307,237 307,241 118,240 250,253 125,232 308,252 239,230 180,290 236,217 226,260 223,232 254,238 211,232 249,226 192,254 194,211 174,260 139,252 207,218 261,249 171,253 308,233 117,231 287,261 184,301 178,240 183,306 241,239 159,238 235,344 159,275 149,283 248,332 264,252 217,324 211,329 186,225 198,231 211,232 178,236 194,311 246,247 304,210 163,263 258,235 222,233 317,234 149,248 286,248 189,314 253,306 255,226 135,245 106,243 115,256 150,254 301,218 240,254 163,230 262,301 269,236 311,201 310,247 299,246 131,261 300,219 113,258 269,308 196,313 133,230 177,218 253,260 276,222 243,251 314,224 293,286 240,253 232,242 116,239 224,211 132,223 319,256 285,243 127,246 324,218 179,215 245,215 159,227 255,300 163,258 317,258 262,245 195,329 267,321 276,306 322,233 230,317 278,300 162,234 174,310 165,203 264,299 195,327 289,282 278,259 264,235 261,297 320,260 166,246 244,250 223,208 144,244 261,311 201,206 183,236 246,314 227,257 275,249 223,338 282,271 201,234 219,338 203,261 289,278 282,250 287,303 214,247 282,256 156,233 143,224 256,214 320,253 188,255 152,261 230,349 241,222 317,239 209,231 194,326 116,255 106,262 169,202 219,332 307,241 290,232 291,270 231,267 265,239 132,261 212,235 171,231 308,259 185,291 175,257 114,213 198,249 275,285 181,200 122,257 234,252 259,311 232,242 303,274 299,245 258,324 218,321 138,265 321,275 216,246 119,256 264,292 276,298 202,261 215,213 202,251 153,241 312,280 233,332 238,252 208,248 137,230 219,245 113,234 190,243 235,247 173,247 276,289 277,277 225,235 201,203 130,249 185,300 166,241 118,267 278,232 193,234 227,222 179,302 223,266 281,282 107,238 206,245 191,258 251,231 185,300 135,227 190,252 155,214 196,250 170,239 280,281 311,256 252,325 140,255 200,340 184,235 322,236 140,229 117,206 277,312 118,275 199,320 134,250 154,207 303,245 151,239 222,211 197,244 310,223 307,244 169,217 309,257 177,234 267,161 328,280 316,208 111,243 159,242 154,268 244,260 148,222 122,256 305,254 321,264 214,320 148,223 291,230 215,339 115,262 216,227 217,238 154,287 257,223 292,282 323,225 152,261 127,245 238,323 311,286 267,241 140,254 320,259 301,250 156,262 312,219 161,260 234,335 214,263 129,260 247,251 311,213 272,289 301,271 305,260 313,217 272,283 253,317 328,242 237,238 221,247 170,262 315,251 208,327 266,259 125,245 194,230 303,258 146,258 297,259 253,230 279,295 228,202 158,263 276,235 222,209 203,240 306,260 197,228 239,222 292,219 172,300 228,241 311,229 324,213 181,220 267,212 318,251 126,206 251,212 224,215 115,258 200,255 262,214 134,218 155,264 270,242 109,259 184,299 113,249 149,281 193,309 321,262 285,210 230,230 318,218 117,202 216,320 262,296 294,227 172,234 303,243 198,243 188,254 111,216 148,260 307,252 151,253 153,230 294,280 232,196 314,231 235,231 294,291 293,269 206,314 143,226 137,226 242,257 135,254 327,261 251,235 240,263 300,283 215,242 243,247 223,253 249,243 258,320 268,280 193,324 185,295 127,227 162,263 282,259 314,280 291,263 215,230 221,225 154,229 174,219 147,242 207,248 276,280 159,223 299,262 241,233 222,255 231,262 256,256 291,254 284,225 168,242 160,275 231,231 240,340 104,253 301,240 144,214 307,248 253,314 263,255 236,247 123,261 212,333 321,258 297,244 270,209 278,272 154,221 229,227 263,311 108,227 183,319 200,250 268,233 244,236 169,269 295,259 257,265 253,203 275,223 217,245 179,239 149,240 148,231 166,306 173,281 110,260 285,221 318,230 149,248 328,264 325,250 292,254 214,218 312,251 129,236 150,205 202,320 150,277 296,261 189,226 299,260 317,254 265,307 230,335 263,249 122,257 200,301 221,334 211,239 219,338 150,247 250,323 226,236 184,311 303,247 197,268 297,252 291,216 198,240 216,242 163,272 293,241 178,258 315,229 196,217 224,252 156,252 298,208 170,232 213,182 238,246 300,237 154,261 207,235 222,335 302,206 303,284 187,291 256,228 260,289 199,230 230,275 149,267 176,256 181,292 228,246 145,251 116,262 319,217 272,211 286,187 236,246 230,340 173,214 155,243 225,345 141,239 288,248 275,228 318,254 220,340 320,229 197,249 200,220 167,306 185,211 243,296 167,248 323,258 207,219 142,255 136,273 238,329 185,258 178,293 156,256 276,238 174,312 260,327 174,248 290,240 201,256 200,215 270,309 149,251 277,226 262,227 273,256 273,301 304,236 189,247 241,228 244,323 148,288 158,266 236,334 240,341 252,202 211,337 169,278 156,233 129,237 228,256 226,232 148,251 270,244 104,214 227,259 210,240 291,246 163,244 275,234 199,319 228,341 300,218 188,259 225,206 223,338 209,336 202,252 229,336 204,321 183,250 145,264 183,241 229,256 298,265 235,226 185,223 234,340 198,261 259,310 143,260 185,240 204,328 229,333 112,249 230,241 323,235 296,259 243,315 167,258 312,262 170,258 234,236 140,200 261,320 249,236 209,257 210,235 194,302 247,320 152,245 165,284 116,237 314,271 288,236 144,280 125,236 304,250 110,252 290,263 168,230 252,261 217,232 302,225 163,281 156,251 205,312 307,196 177,302 249,310 149,231 285,226 214,251 287,281 264,311 218,337 117,236 239,202 251,242 151,225 261,271 138,212 159,293 293,236 193,263 165,261 182,248 198,310 132,254 231,267 323,238 159,291 235,222 202,261 241,233 287,268 144,263 231,334 150,301 317,240 198,316 134,266 170,217 151,278 261,219 255,283 105,249 282,259 257,234 139,253 210,321 302,250 259,222 164,296 160,257 273,205 215,337 256,248 236,323 133,256 256,309 245,232 277,249 196,238 103,223 230,333 119,214 201,259 177,233 291,246 250,229 107,261 195,257 217,338 246,326 311,235 314,265 174,244 176,227 177,240 239,233 107,261 289,230 121,236 325,252 205,321 267,239 251,237 197,226 169,294 208,213 171,249 238,310 204,228 169,306 185,255 200,251 277,238 152,267 200,320 124,268 179,302 127,257 219,337 286,242 176,253 276,308 310,277 265,227 255,319 187,239 257,310 300,275 316,263 253,212 217,256 169,229 208,253 295,251 115,248 230,245 114,264 170,226 233,251 138,246 244,204 280,244 286,248 200,327 243,239 321,213 269,224 119,220 162,248 264,231 239,260 121,251 138,216 132,224 105,253 167,231 206,221 154,253 239,240 183,284 239,259 225,230 324,246 322,249 173,292 303,241 107,239 224,233 281,288 201,248 147,264 216,326 269,251 206,248 278,257 149,269 163,304 226,255 201,246 274,298 267,235 132,253 283,271 199,319 288,238 219,341 317,226 258,204 167,297 243,216 297,215 248,228 274,236 172,271 243,201 169,257 326,275 179,305 245,259 247,249 255,232 127,240 266,307 185,260 255,326 261,240 263,237 326,238 113,250 196,219 302,250 157,242 232,232 121,256 175,233 254,298 265,297 147,221 133,212 294,291 281,295 222,245 143,245 206,231 277,199 117,252 168,231 261,328 214,337 179,234 137,228 274,227 212,244 246,335 239,237 149,224 188,236 197,323 135,256 299,245 148,237 168,234 184,231 207,239 285,260 318,213 176,228 264,237 326,234 128,234 207,238 104,272 216,245 244,239 150,226 294,245 139,225 218,219 175,243 296,215 118,259 188,210 138,239 270,297 146,287 242,224 204,250 200,235 273,213 105,249 119,217 191,243 312,229 204,266 251,256 278,266 324,254 226,339 107,250 202,242 246,313 144,242 142,264 242,333 280,217 214,319 214,242 247,327 207,243 259,283 261,241 231,326 123,240 292,277 271,261 147,223 200,321 248,331 172,249 108,255 300,231 211,261 214,205 303,245 177,263 219,339 180,320 270,288 273,233 242,324 234,331 178,229 166,265 307,250 225,234 314,262 293,241 235,239 280,273 316,213 322,267 269,255 266,289 138,275 326,258 292,238 306,222 112,257 162,216 263,219 177,312 217,248 112,263 239,341 107,246 200,252 152,249 146,259 187,255 286,274 154,264 177,237 264,317 294,255 310,241 238,342 224,210 223,231 258,307 219,262 219,220 156,272 307,270 259,231 311,203 284,245 200,257 281,210 159,280 151,245 321,223 184,311 184,229 197,302 163,196 228,212 237,234 272,232 298,262 148,251 219,240 154,256 292,266 230,243 292,267 173,249 126,270 109,255 188,231 271,261 306,260 279,256 259,212 139,257 311,236 178,229 220,227 215,333 310,234 141,257 182,207 184,231 272,299 277,283 289,262 286,273 242,304 223,350 131,270 316,249 266,203 245,319 255,298 222,326 203,245 270,229 287,282 144,227 193,308 288,286 291,282 103,262 262,231 216,244 145,239 106,240 276,263 122,240 232,322 214,249 225,340 251,257 322,235 239,256 302,245 290,211 157,243 240,326 235,249 295,269 161,238 233,323 263,264 222,254 311,252 267,176 186,232 310,213 224,248 187,319 268,239 274,274 120,255 253,304 260,266 200,331 189,254 133,240 325,240 161,260 169,277 109,234 276,293 177,261 225,239 121,253 259,303 190,321 126,235 158,290 205,316 257,207 167,237 196,302 270,256 274,283 160,216 232,230 119,263 157,228 265,224 301,273 300,282 229,316 168,257 269,240 245,332 286,273 239,253 310,250 308,251 180,225 213,332 241,236 154,236 201,329 245,226 270,220 276,189 185,318 160,276 183,300 204,209 245,330 221,259 314,242 267,247 151,245 156,227 208,252 306,257 178,249 210,341 291,283 276,305 156,260 143,257 210,322 328,234 247,316 297,260 246,236 312,231 173,271 133,258 179,314 299,260 213,258 200,337 110,209 173,306 120,249 203,256 194,212 110,235 126,240 124,260 274,286 188,309 291,261 191,309 320,225 116,228 158,246 269,255 198,227 211,259 207,224 131,255 158,205 136,251 143,232 299,224 151,284 116,222 168,249 107,272 313,244 174,233 303,250 231,322 137,241 143,241 150,225 129,236 203,206 123,212 279,289 241,230 326,245 320,252 118,258 308,227 278,227 244,228 135,254 316,242 255,262 327,258 167,259 150,238 150,256 292,248 150,215 323,210 147,236 149,220 127,228 177,254 115,219 243,259 126,254 307,268 299,241 185,224 237,327 243,214 126,291 216,338 326,236 237,322 304,254 257,236 171,258 215,344 183,240 253,309 209,234 224,334 250,233 311,241 168,240 201,225 172,301 170,291 225,208 153,230 214,205 250,296 150,268 140,247 214,220 319,245 271,244 222,338 301,260 235,224 245,222 108,224 187,251 122,254 321,256 186,319 278,229 249,207 121,280 257,311 297,295 122,261 207,187 276,258 118,230 141,224 152,252 165,303 325,260 324,235 104,253 143,280 252,212 215,228 182,226 246,206 122,245 227,255 205,328 161,256 220,341 190,312 139,239 273,229 225,352 162,303 146,228 272,268 226,256 109,246 278,251 217,332 206,213 209,337 315,255 197,229 269,270 125,251 234,257 138,263 288,220 202,314 251,242 139,237 227,320 310,251 209,232 208,225 315,273 218,232 124,268 116,238 314,237 324,265 191,218 256,254 197,258 152,240 302,241 260,207 227,243 278,294 109,264 104,253 147,278 147,211 273,217 122,214 230,199 305,249 210,223 261,332 170,242 282,243 151,272 324,248 281,216 205,319 313,252 209,253 131,237 301,250 122,242 154,266 251,313 256,214 285,294 109,241 220,211 248,258 137,216 206,257 255,323 249,223 284,291 260,289 218,230 168,301 230,252 308,272 213,234 216,345 248,301 130,230 214,254 199,256 199,317 261,316 235,330 116,262 226,333 149,259 252,257 197,329 260,248 246,259 317,243 200,226 270,314 266,232 285,301 154,224 115,224 266,313 291,229 223,226 321,263 284,216 215,241 245,316 171,226 233,237 271,255 194,260 227,333 201,257 243,332 180,297 240,251 318,228 278,292 146,263 174,234 127,232 137,249 197,221 264,287 173,227 324,238 130,262 301,195 175,304 173,235 127,219 325,245 238,341 250,268 240,328 162,282 201,256 172,289 132,232 255,294 109,205 130,265 224,341 318,237 313,236 288,252 145,241 185,242 263,202 197,249 192,258 259,267 322,252 149,273 168,247 171,264 120,247 279,254 204,248 179,231 304,273 248,311 185,231 276,238 145,232 167,247 256,314 297,237 126,248 144,228 159,234 232,218 310,202 198,251 156,249 227,337 264,269 266,223 306,204 256,247 195,307 213,344 255,205 262,293 260,318 273,291 287,249 266,254 134,262 124,252 105,252 153,252 109,243 148,236 323,258 310,263 232,325 190,244 277,259 291,218 298,249 241,249 111,249 175,238 183,222 252,310 317,239 288,236 304,258 192,248 156,298 242,337 193,311 172,293 268,206 158,252 115,242 324,264 188,317 308,266 129,235 325,232 185,293 258,228 198,224 274,261 311,247 308,252 175,238 235,247 160,266 135,241 138,222 142,279 106,223 215,248 133,206 108,256 302,283 105,250 309,232 242,326 135,253 307,225 248,334 191,235 138,253 141,247 305,252 270,230 180,305 207,321 252,299 237,253 185,233 199,322 274,222 120,261 287,266 224,331 123,252 117,249 199,260 281,213 230,237 105,258 291,279 292,249 182,304 123,257 157,244 136,231 229,345 258,223 205,328 109,255 140,233 107,242 199,225 232,242 279,252 269,225 169,290 308,278 236,258 258,310 315,270 286,203 318,282 123,205 157,245 262,314 270,284 131,233 218,178 220,259 171,302 263,317 271,258 197,213 189,253 112,229 190,302 244,320 135,261 236,326 248,260 268,228 152,246 221,256 285,257 211,230 258,300 170,254 166,226 110,240 214,200 283,261 175,307 290,273 293,242 248,314 321,223 301,235 262,301 325,222 312,243 240,339 316,208 259,302 280,225 277,206 140,243 105,247 282,257 118,249 169,238 160,237 271,284 283,243 210,235 326,234 187,259 316,232 186,212 207,319 249,263 324,242 192,228 190,312 251,301 284,243 187,304 271,225 170,238 103,187 121,245 118,247 199,221 160,216 153,285 200,197 302,259 269,221 119,260 122,276 290,254 184,262 186,314 232,231 116,258 118,230 194,240 236,333 123,260 128,254 133,247 302,249 251,312 186,233 167,241 105,276 169,236 143,252 224,217 280,253 241,243 258,235 195,246 200,320 146,263 276,262 231,256 212,222 260,299 244,323 284,240 296,260 293,203 280,208 312,261 181,241 304,218 255,233 168,269 251,243 280,289 280,276 219,236 305,259 223,262 134,232 283,258 119,273 118,254 274,249 282,277 223,333 151,270 312,217 116,230 173,202 258,260 114,257 162,257 154,271 187,239 253,242 263,302 326,259 256,318 282,274 242,256 313,240 114,252 224,344 268,262 251,251 328,239 325,236 246,238 138,274 146,246 248,331 204,253 145,268 250,236 276,227 323,226 205,318 245,319 208,246 122,263 279,299 186,214 247,239 226,232 131,235 133,252 280,253 306,231 260,242 214,333 321,274 234,252 289,295 233,248 221,221 241,255 178,238 201,244 133,251 242,310 316,217 168,230 227,240 208,239 184,301 120,219 177,254 146,247 132,247 284,258 248,321 198,259 297,238 162,243 325,203 268,322 149,273 289,266 276,305 309,240 109,236 238,246 300,251 223,320 108,200 299,260 253,211 325,247 320,271 182,300 173,256 199,231 263,299 106,244 131,266 273,224 302,258 139,258 184,206 144,260 325,260 239,335 317,231 196,253 285,232 308,241 256,248 191,232 273,222 238,270 297,293 217,322 318,249 194,311 109,254 262,243 187,258 291,249 238,350 118,248 198,221 266,284 247,318 264,319 122,235 238,243 244,227 225,206 179,307 285,268 316,240 265,316 189,322 192,300 320,259 151,291 267,243 247,332 113,264 318,270 230,351 162,260 243,253 206,334 251,307 242,242 246,216 239,339 299,214 208,320 281,254 143,250 103,234 232,255 288,263 314,210 305,222 284,298 277,244 177,220 313,265 322,284 161,243 171,270 142,257 311,272 169,220 287,243 224,215 293,242 287,264 305,248 302,211 118,221 138,222 154,228 143,228 141,266 319,224 245,261 115,248 297,251 205,220 192,247 304,247 229,337 200,223 265,232 249,251 107,239 303,241 128,236 283,259 316,226 323,264 304,264 230,332 272,238 227,337 281,256 320,263 281,245 299,263 139,253 165,281 311,229 208,252 310,246 110,263 208,265 292,303 142,257 323,243 268,234 206,236 278,236 216,248 186,190 320,239 300,248 164,286 206,229 262,238 184,244 256,258 193,256 260,323 115,255 154,247 297,252 131,245 218,231 292,284 231,345 275,278 119,240 284,189 325,277 110,239 279,300 222,332 217,244 171,258 309,237 258,315 120,218 173,232 189,302 124,252 184,232 256,307 118,269 291,222 116,233 251,187 214,232 246,317 145,266 268,302 119,218 318,249 249,327 140,228 302,248 238,206 149,249 191,263 122,200 160,292 180,305 103,205 198,233 108,228 114,254 246,306 115,261 260,296 216,232 275,252 260,251 157,235 234,253 204,262 132,250 132,241 313,264 123,250 201,325 314,258 280,277 245,246 167,218 172,196 219,322 274,232 194,244 273,252 244,217 267,227 247,209 229,236 168,234 262,249 245,326 193,325 212,240 327,256 180,225 167,215 265,298 320,248 161,220 134,250 160,277 316,243 105,239 125,244 141,248 202,229 288,292 206,326 151,209 135,243 289,247 243,330 247,311 324,254 264,243 230,215 135,251 258,265 255,251 208,215 307,219 189,287 278,253 103,245 249,232 268,255 256,291 231,250 177,260 132,252 210,227 260,315 134,243 114,166 173,248 149,254 126,214 244,223 148,248 254,315 251,334 179,224 263,312 184,300 137,280 223,229 264,301 169,215 193,258 114,235 229,254 191,276 206,325 281,257 231,230 243,320 277,253 161,256 170,249 236,250 125,250 320,233 199,325 117,257 159,267 261,246 180,216 232,258 199,256 271,299 147,246 189,237 185,233 266,228 177,305 311,259 270,255 246,268 270,238 132,243 200,234 287,288 235,229 216,246 216,223 258,206 109,253 126,231 120,251 221,349 262,223 118,234 138,239 169,240 147,228 132,218 227,242 104,179 247,237 118,242 239,200 202,304 321,244 202,224 178,300 204,231 194,238 229,339 121,259 139,269 220,222 156,218 291,209 268,267 288,277 213,262 182,238 221,225 267,228 134,233 250,261 124,241 192,258 305,232 299,259 222,232 256,240 265,255 220,252 301,260 293,261 296,236 168,244 194,312 157,278 294,235 246,338 271,230 192,252 256,309 205,208 270,285 136,256 111,266 112,244 275,290 286,272 219,231 138,246 216,218 276,226 202,313 291,283 292,259 152,214 304,244 191,301 236,245 184,292 261,262 295,228 211,241 192,232 287,278 283,288 183,260 327,242 239,331 163,274 298,218 232,236 124,264 326,250 279,271 117,233 130,245 204,212 147,244 260,246 211,266 242,323 200,305 115,209 119,232 290,235 292,297 278,310 146,279 164,252 238,238 146,262 317,238 319,239 244,326 161,273 143,274 299,252 214,247 186,316 190,309 270,240 104,269 300,275 186,310 144,250 143,239 128,236 304,251 276,237 115,238 250,323 213,333 119,249 143,242 190,318 249,324 289,220 182,249 155,232 229,339 319,233 266,253 115,225 114,251 261,326 326,207 217,326 141,218 177,313 145,247 162,296 186,298 218,326 236,224 193,257 109,259 295,241 130,261 327,252 114,262 227,338 149,288 183,295 171,314 143,260 256,314 290,250 214,337 239,185 258,303 165,221 227,342 324,227 298,262 286,230 321,266 287,255 258,260 195,296 318,209 242,307 226,241 274,210 141,293 124,256 172,310 279,299 278,304 272,213 158,245 111,247 160,242 215,343 118,232 184,233 128,222 313,240 248,322 275,269 175,298 124,222 222,340 191,232 174,300 176,278 236,216 269,209 270,240 226,337 316,275 180,285 117,269 312,287 271,318 284,255 117,211 217,280 109,227 113,243 158,230 206,222 248,239 131,250 123,275 157,217 149,255 290,229 317,233 138,221 313,224 301,249 209,338 295,262 202,252 119,252 306,218 245,242 239,249 311,225 227,264 157,257 280,217 161,285 202,262 260,213 314,237 143,255 251,252 108,234 216,234 244,259 165,279 242,246 126,231 310,235 236,249 163,276 115,269 205,249 306,256 257,231 123,259 321,210 121,248 276,233 155,256 263,300 234,338 166,219 221,345 309,224 237,218 181,311 165,254 293,252 152,248 168,251 195,217 156,257 156,257 155,268 240,240 318,236 175,230 260,320 163,196 142,227 327,246 142,254 103,249 313,256 139,296 161,245 297,240 239,219 165,264 306,232 202,270 322,256 320,239 291,260 256,253 188,321 206,251 277,219 158,287 290,268 186,225 327,251 156,253 117,255 195,323 318,237 323,241 138,233 271,206 202,244 133,276 300,275 297,265 172,279 109,238 120,232 175,259 326,236 147,232 294,238 291,221 306,224 238,227 238,324 229,257 245,208 276,272 181,259 166,255 145,258 201,312 302,267 127,257 114,246 183,239 205,314 279,315 270,299 216,224 221,330 231,256 128,256 113,201 288,280 206,324 300,267 196,238 227,339 145,251 159,263 232,217 324,253 146,271 161,223 207,335 172,295 201,326 318,218 115,227 127,264 210,245 185,234 256,244 125,255 147,236 136,263 188,303 155,262 253,243 288,256 156,287 254,248 108,211 119,237 223,340 138,237 239,226 208,319 206,236 323,281 143,234 308,250 167,265 183,241 274,252 251,242 216,343 161,280 323,262 250,211 261,241 318,267 141,241 139,264 287,310 126,267 128,278 319,250 197,249 144,224 302,256 308,229 212,231 111,239 212,322 299,251 268,250 145,226 131,229 293,247 235,235 157,287 279,253 302,243 268,246 283,253 226,343 206,319 122,245 232,209 133,267 105,244 227,254 125,252 153,227 273,283 192,222 258,227 249,215 105,243 141,213 166,244 325,254 251,316 145,237 316,241 255,270 291,241 158,229 321,227 118,259 279,287 149,243 191,301 247,221 328,259 306,257 324,220 214,249 149,253 253,224 319,271 119,274 213,341 176,321 223,231 280,266 146,257 270,234 177,248 183,221 180,222 107,225 111,241 174,206 159,279 311,268 299,260 166,247 261,326 134,249 117,265 207,231 242,330 133,227 198,294 210,229 308,228 304,260 165,254 266,232 257,242 223,339 173,213 181,251 130,254 308,244 145,287 294,212 259,232 127,251 187,233 179,293 108,225 225,226 245,252 166,260 291,247 114,255 226,258 153,290 157,204 216,244 302,257 203,269 134,233 155,194 313,261 225,243 185,213 223,343 141,250 296,274 189,211 274,311 256,316 226,225 282,214 251,314 182,241 244,332 185,253 305,238 104,250 168,293 205,225 306,241 112,266 291,262 263,234 327,255 157,249 166,306 302,237 165,249 155,260 126,263 231,252 240,309 125,226 244,242 211,267 310,229 215,257 212,333 174,309 263,314 138,246 146,225 199,214 294,238 247,240 257,248 243,319 237,329 272,227 286,292 103,235 126,221 221,334 295,288 315,260 302,273 194,208 214,220 121,247 214,247 107,253 186,259 320,227 264,261 297,260 166,277 141,281 313,250 300,252 220,219 120,237 191,313 215,337 161,233 151,286 326,262 305,210 262,254 262,251 122,207 119,258 253,326 189,315 304,243 250,231 202,234 299,207 108,228 167,237 197,230 257,320 187,247 175,247 192,242 185,236 283,295 202,235 226,225 145,241 290,214 126,243 323,213 166,277 209,256 134,221 298,254 266,302 224,335 322,254 175,257 103,230 221,204 220,229 135,265 178,243 303,245 106,250 302,250 251,244 231,237 173,254 178,245 149,226 294,199 121,261 290,246 242,248 156,268 311,284 254,244 250,256 206,222 283,230 299,258 249,238 145,242 131,224 262,254 120,213 193,237 137,236 251,318 211,226 156,229 167,253 264,249 250,313 228,342 307,279 318,248 318,235 241,259 292,274 274,204 283,307 262,225 127,217 226,235 141,267 162,312 147,255 327,250 199,237 240,237 236,317 137,269 260,312 324,256 287,283 259,252 133,253 225,232 146,275 231,258 241,243 267,277 272,249 303,242 235,237 267,218 191,258 183,221 222,250 289,283 236,253 156,260 198,328 289,248 209,209 165,263 134,228 158,251 123,231 107,269 158,207 158,281 166,295 120,245 141,290 182,299 158,252 271,265 108,255 126,236 247,214 117,232 290,204 175,248 206,236 150,272 116,232 215,328 182,317 231,347 325,226 137,209 128,204 205,330 274,259 206,324 308,236 134,257 159,247 186,223 150,222 260,316 271,224 149,252 254,201 328,252 113,229 163,267 199,244 147,275 231,207 206,203 324,211 158,227 123,267 271,307 117,211 202,251 147,267 204,308 270,265 134,242 308,236 299,241 268,229 177,227 268,247 107,241 213,226 108,261 285,299 286,236 290,249 127,258 139,266 317,206 268,310 260,306 280,256 186,304 272,288 164,241 211,234 227,337 321,271 265,219 324,220 261,260 242,260 164,236 217,233 286,261 280,254 229,325 226,337 285,247 312,286 207,242 158,276 276,284 236,215 129,264 263,233 227,260 222,327 186,308 281,244 198,235 302,241 133,245 324,263 282,248 221,238 198,221 110,255 143,264 259,323 309,208 123,250 244,302 173,305 108,256 325,254 246,240 203,236 275,286 165,268 283,283 151,253 244,312 301,257 123,229 312,257 320,234 239,325 280,297 204,342 283,294 256,241 109,258 270,220 187,239 112,261 240,330 254,255 201,249 275,232 179,303 219,352 278,218 240,320 277,281 228,337 107,229 181,218 216,342 273,287 177,282 294,238 165,305 233,229 197,302 225,253 143,228 173,236 301,243 142,248 201,326 278,233 137,236 164,286 149,258 130,233 221,340 280,258 185,255 230,252 193,256 206,329 105,219 257,225 244,334 155,294 315,214 264,293 301,285 232,254 283,220 189,298 171,256 216,213 139,234 129,271 320,204 227,234 239,227 202,340 307,225 309,272 256,316 305,203 240,236 228,341 193,322 232,255 324,247 289,258 243,218 302,237 281,280 152,221 230,237 281,255 246,325 232,325 263,305 128,249 183,307 119,231 150,231 257,315 189,221 273,259 260,256 116,249 258,304 152,264 112,259 238,245 164,255 291,293 143,257 142,246 316,226 144,259 183,190 225,211 139,264 105,205 261,216 215,333 110,229 169,300 119,257 276,249 167,250 150,285 215,326 267,265 249,233 167,232 161,285 318,255 289,277 103,261 323,265 173,297 227,224 108,234 311,252 203,236 196,222 170,293 257,309 134,248 286,229 169,275 241,314 159,263 288,285 292,251 311,234 280,240 156,293 192,255 256,323 155,282 257,207 280,298 199,305 133,253 259,210 208,324 206,322 258,245 192,215 171,258 179,293 105,271 151,274 247,229 279,283 169,297 219,251 181,290 224,236 152,270 116,251 133,231 171,222 289,302 262,207 325,226 184,226 209,239 114,218 189,202 284,259 263,245 152,225 249,295 320,275 215,241 277,289 136,225 275,230 114,209 180,224 152,242 275,211 108,260 237,258 104,225 187,302 272,257 225,342 181,313 323,250 239,262 178,244 113,249 247,225 215,239 239,257 168,266 257,252 221,257 228,207 235,318 241,246 243,323 202,328 308,223 104,225 316,213 204,331 240,249 220,340 233,341 193,224 321,244 128,261 184,216 316,236 175,268 255,257 314,227 301,264 151,253 303,250 173,214 133,217 140,261 219,345 258,299 216,250 225,227 174,241 122,226 249,258 314,260 229,344 120,211 237,335 137,269 318,258 303,212 111,263 114,221 306,280 120,259 187,261 137,230 196,319 163,278 108,251 125,240 230,243 259,288 205,243 315,223 127,229 234,238 128,253 125,240 204,335 308,259 187,255 326,244 191,233 254,326 160,247 177,305 204,254 242,214 209,238 276,309 253,251 207,309 257,241 141,232 152,281 152,247 273,240 311,199 225,262 268,228 274,301 245,305 237,244 209,253 229,339 289,291 104,206 176,236 306,250 328,247 184,252 272,301 184,232 178,250 274,257 103,239 199,224 163,280 299,222 321,246 304,246 117,248 199,262 161,217 202,325 149,249 197,313 220,253 178,246 168,226 195,324 310,259 269,266 155,261 320,253 104,251 145,268 165,230 271,254 197,260 249,307 196,311 133,251 303,245 144,284 125,262 129,230 201,176 245,248 194,225 185,206 295,240 154,271 260,308 137,238 304,255 123,248 252,248 300,258 319,228 272,259 259,222 136,254 233,339 142,185 145,238 257,270 313,216 149,227 134,255 163,253 246,263 180,237 221,345 120,235 266,251 154,258 148,248 184,243 221,259 112,224 133,238 207,331 235,241 127,232 260,202 195,326 121,230 106,241 177,246 129,268 136,257 316,249 123,240 317,253 285,201 121,235 243,229 111,247 108,238 111,257 306,257 280,205 183,261 109,257 280,297 268,268 218,223 238,327 189,311 192,239 242,241 141,247 126,228 270,287 216,345 188,300 267,252 200,332 218,207 211,342 126,223 139,232 287,287 292,211 257,260 316,245 105,269 291,243 225,261 106,248 159,254 300,257 146,225 222,218 303,240 106,271 116,241 167,289 149,259 181,278 231,336 180,213 247,264 206,326 278,310 190,248 174,249 321,250 210,206 158,244 234,225 253,320 111,211 255,218 327,238 266,288 152,257 269,284 327,248 135,205 181,303 295,257 152,247 236,240 166,293 290,248 263,296 234,231 252,301 118,257 301,242 133,238 308,251 328,235 158,214 209,246 116,257 256,231 152,239 132,248 189,233 321,240 139,255 205,318 115,233 286,212 254,253 298,256 280,237 306,271 106,200 185,217 175,279 222,252 262,246 211,227 169,290 320,234 322,247 267,314 326,251 303,295 286,256 155,255 197,332 113,263 247,315 303,244 286,244 268,234 183,309 290,260 191,216 167,267 125,235 117,235 233,332 324,261 268,277 182,259 225,344 121,226 150,210 173,242 306,237 306,210 140,251 252,249 195,233 126,257 108,259 298,250 233,331 243,233 185,305 110,263 127,215 327,250 157,258 199,250 296,262 176,311 315,262 252,309 304,245 281,297 271,241 275,228 150,286 249,234 215,234 314,206 178,217 148,238 109,220 258,246 304,242 199,227 186,271 232,258 250,236 132,260 134,259 231,210 324,231 274,241 177,297 161,264 218,324 109,263 209,253 159,239 275,279 146,254 112,245 109,249 137,248 227,234 196,317 193,256 238,230 163,236 278,219 249,255 158,240 239,312 124,260 198,311 257,321 154,263 125,241 283,252 219,229 113,218 145,258 173,282 179,253 132,216 106,250 273,226 158,287 161,234 213,240 219,254 166,228 304,189 117,248 241,314 312,246 142,244 138,258 266,299 169,281 143,259 306,264 170,257 146,251 196,306 219,262 114,236 130,233 249,224 219,325 153,223 149,270 270,292 300,270 109,201 258,307 286,242 219,234 209,320 321,259 187,290 188,317 305,261 170,304 191,223 167,242 297,264 286,253 284,286 120,263 264,239 163,243 298,219 138,245 302,211 232,260 324,237 296,300 315,234 288,255 179,315 291,213 275,307 252,236 210,307 233,338 189,257 233,341 322,263 270,305 195,237 172,290 144,262 174,284 225,242 304,269 170,270 294,253 284,275 110,208 247,238 283,284 133,206 309,251 160,251 272,305 295,234 249,262 175,263 143,270 271,238 219,254 169,276 200,307 149,255 179,225 119,233 280,243 280,314 113,229 134,265 258,230 156,214 236,341 264,224 310,231 164,288 118,242 228,267 132,234 185,216 245,200 196,230 259,320 274,249 261,234 296,208 294,287 265,284 287,223 303,223 242,201 269,280 219,335 218,230 235,336 176,223 219,331 251,246 238,229 203,305 289,231 224,254 107,247 241,261 125,230 308,273 279,213 198,224 229,230 304,299 170,283 307,216 115,202 237,345 226,343 300,249 187,324 250,244 283,274 265,277 257,330 317,261 297,253 156,217 315,250 138,252 116,202 221,265 145,233 301,228 315,251 328,236 299,289 267,226 283,211 237,248 235,254 167,240 117,248 179,284 192,225 284,243 256,259 151,211 211,245 255,241 227,257 153,240 192,257 315,232 295,223 313,249 227,245 308,245 169,282 263,230 200,326 173,277 290,228 265,306 208,250 315,249 117,262 145,244 312,236 154,276 210,267 185,320 168,278 220,223 153,209 133,229 315,260 235,180 143,257 190,256 124,238 189,242 243,221 144,253 216,324 166,285 275,279 166,250 258,222 231,253 144,254 269,265 187,247 107,252 314,270 128,262 182,220 116,255 216,258 186,214 272,303 197,264 268,301 107,245 255,251 161,273 220,215 202,252 149,225 290,233 251,265 257,240 230,253 323,260 261,230 243,316 184,249 215,217 252,301 289,281 266,261 298,250 160,270 227,261 199,309 110,249 325,230 278,297 126,198 110,221 237,305 177,209 155,235 119,245 222,220 130,251 317,217 277,292 174,249 185,232 191,294 185,259 292,251 166,233 204,255 264,324 303,264 127,233 257,203 299,256 126,253 192,244 167,266 275,231 171,295 211,245 240,237 232,241 184,300 264,280 278,248 261,289 197,208 158,273 170,253 261,281 175,239 128,226 206,257 197,309 138,211 129,216 231,246 266,213 201,237 290,241 149,256 267,237 151,202 247,327 314,227 147,273 294,212 272,229 286,244 234,268 142,266 256,313 220,224 253,221 258,310 229,334 282,263 146,240 124,271 313,230 305,243 137,223 128,263 327,209 189,243 128,234 175,261 293,238 132,235 185,243 244,335 192,209 235,337 305,278 142,269 320,262 183,241 245,332 154,271 259,250 195,317 108,258 207,233 209,342 168,250 215,241 296,230 115,215 233,237 127,259 189,320 197,229 106,241 222,231 168,301 228,230 206,256 231,331 276,283 222,235 299,234 134,237 273,289 114,243 125,259 176,233 316,240 217,270 146,264 135,263 205,337 295,290 304,201 129,242 304,219 278,236 146,217 157,267 239,231 195,244 271,177 270,255 152,239 113,264 270,277 153,249 179,239 165,278 142,267 217,330 169,291 201,312 144,239 302,231 327,266 294,247 259,308 120,237 291,278 116,220 188,320 146,278 268,217 192,232 140,270 138,240 130,252 132,243 178,251 311,226 316,243 192,255 228,253 241,263 130,257 248,239 255,260 326,263 266,304 186,236 172,210 245,246 282,252 246,254 215,211 124,253 233,252 308,262 197,248 282,267 123,232 297,245 165,263 168,237 308,204 310,230 266,263 158,215 197,233 183,229 293,287 174,308 234,326 167,209 155,259 210,205 208,264 127,229 103,224 239,338 194,203 112,262 308,262 152,238 146,255 293,254 298,265 125,213 105,257 293,266 191,230 226,214 155,280 249,248 293,225 127,238 205,334 316,261 179,289 319,248 189,310 277,235 280,219 322,231 243,333 199,321 297,260 224,244 138,213 282,291 125,207 288,235 141,252 122,241 309,267 269,235 205,338 189,307 233,225 277,266 195,327 159,243 131,261 253,303 267,312 295,255 225,232 265,307 155,215 240,255 193,323 243,327 254,209 246,232 209,341 226,255 115,210 138,249 237,243 255,247 232,212 238,250 296,224 299,236 258,245 182,248 172,241 188,220 297,248 156,269 192,262 116,265 153,254 203,244 115,242 154,267 164,236 263,306 248,256 266,263 235,324 161,269 274,256 118,242 241,260 139,238 156,253 158,241 105,260 310,258 318,244 148,239 216,341 163,254 208,230 174,278 269,259 155,246 173,239 178,207 309,214 293,252 263,255 151,219 280,247 262,299 297,250 291,220 202,236 185,253 273,231 247,326 193,323 179,230 238,311 179,240 293,287 292,218 244,257 218,208 325,204 261,251 252,261 178,253 149,241 245,224 199,238 162,251 286,242 275,307 275,242 118,228 174,226 248,329 157,246 327,261 183,316 116,249 128,217 110,216 172,239 287,248 190,268 310,251 192,258 144,267 202,316 243,336 162,259 266,283 172,245 235,208 248,305 223,214 110,225 140,251 167,293 309,247 157,286 116,265 244,196 214,235 181,295 192,230 245,327 105,249 292,246 185,301 184,263 161,294 106,251 282,296 276,222 319,249 198,231 285,275 167,293 171,227 236,230 247,269 150,277 256,263 172,287 167,292 202,191 223,224 224,228 146,257 321,263 133,241 107,245 144,294 118,263 292,292 200,221 190,322 228,343 118,263 237,244 113,253 160,247 226,341 279,275 251,241 166,267 215,228 135,260 198,261 170,264 182,316 162,260 233,235 299,253 184,218 121,271 227,249 167,228 279,274 177,252 126,220 298,252 205,230 206,319 131,232 249,218 213,226 284,278 236,335 296,263 120,248 245,229 269,253 197,288 167,210 244,308 124,233 285,203 279,252 231,238 168,295 165,270 253,205 237,331 190,304 303,263 322,256 208,228 181,259 184,205 283,236 166,250 173,300 169,286 185,248 190,231 163,284 325,262 219,335 312,260 197,217 221,203 279,262 190,243 256,308 324,252 195,301 296,256 116,241 253,315 212,241 120,259 173,263 241,259 269,297 217,245 131,257 190,257 125,262 265,228 209,328 315,279 193,324 147,249 184,234 233,331 262,267 214,254 242,248 242,225 131,262 205,322 222,339 267,252 124,239 241,326 279,230 206,247 218,322 184,304 138,266 226,219 211,341 111,214 218,334 124,278 279,240 224,235 124,239 201,235 178,301 199,301 297,223 295,246 111,255 326,237 273,227 121,259 209,232 273,295 183,308 154,238 298,248 261,237 234,247 295,211 192,243 133,244 187,303 310,212 315,320 201,233 166,249 299,243 199,331 317,229 176,238 215,217 303,244 284,270 110,257 127,267 135,265 139,238 262,246 154,253 108,228 309,253 275,217 231,342 263,211 259,302 178,267 201,225 194,295 317,208 249,256 135,253 225,230 278,247 168,286 269,272 178,186 316,230 276,301 252,229 124,228 201,217 110,246 153,234 119,261 299,271 139,281 305,240 166,292 226,246 172,258 132,258 266,322 186,263 206,329 147,258 168,221 181,236 205,263 244,327 108,230 159,250 173,300 307,226 319,245 230,341 259,318 284,301 317,258 261,319 314,251 302,224 197,253 150,251 235,237 167,299 115,241 230,336 159,183 310,252 175,217 266,315 281,264 228,340 164,249 316,247 183,316 294,217 276,258 198,243 182,305 302,190 104,238 202,322 220,339 205,193 207,265 231,330 228,330 280,250 305,247 269,255 144,246 266,226 241,312 156,228 131,261 326,235 216,235 276,232 257,299 169,249 254,256 292,283 183,250 259,265 108,253 243,260 215,251 262,259 235,239 246,225 127,238 318,255 189,297 218,328 277,266 185,326 304,222 244,268 221,335 108,261 274,239 171,257 276,208 158,227 224,223 258,227 109,256 207,245 317,225 252,258 114,237 126,244 308,249 284,259 134,209 181,260 294,209 199,244 161,251 251,232 194,332 198,256 183,224 105,239 104,242 173,245 119,228 160,238 125,243 214,247 182,295 164,263 137,243 189,262 301,252 243,253 169,268 170,237 318,236 129,265 129,225 289,259 260,223 105,231 139,256 234,261 119,279 278,251 298,286 232,348 171,206 194,300 166,259 199,260 108,232 197,322 285,224 125,238 186,259 173,268 251,334 265,308 245,324 286,239 216,333 215,235 209,246 305,283 108,228 256,250 248,249 246,243 321,233 192,254 272,310 197,309 159,274 145,253 250,251 190,225 131,248 242,260 145,257 105,221 247,229 180,244 120,229 120,244 300,247 181,234 142,222 321,255 150,267 305,230 284,270 280,269 317,273 106,260 139,212 115,245 194,303 220,257 214,236 258,257 208,331 225,241 188,223 272,246 290,265 156,273 281,234 144,255 153,295 316,232 181,302 288,240 265,296 213,242 128,252 143,286 276,245 166,294 286,265 186,244 233,235 298,236 198,184 213,223 230,336 215,204 191,263 239,237 122,267 282,303 189,244 282,247 152,249 313,233 175,285 207,216 267,219 321,231 182,232 279,279 216,251 298,273 149,202 189,244 275,308 197,335 299,260 322,211 201,325 208,261 170,316 285,276 106,239 263,305 257,324 189,292 321,219 220,248 219,334 152,254 126,228 230,236 176,309 278,239 326,230 134,260 307,251 252,212 237,234 225,343 262,212 127,223 154,203 299,205 322,233 163,288 130,233 212,330 159,221 129,214 185,222 214,337 141,241 166,222 141,267 235,332 310,230 251,226 230,340 308,226 281,307 292,260 182,297 133,241 248,289 125,233 276,268 191,299 270,298 264,225 130,231 199,253 215,269 263,247 163,267 202,220 240,320 300,202 179,243 113,244 160,271 328,261 109,256 138,212 302,230 115,221 118,232 239,237 278,301 209,227 284,293 129,272 208,252 286,249 162,249 114,250 173,279 306,267 172,235 225,236 195,213 275,239 269,243 163,251 121,246 250,232 261,309 199,250 265,215 151,261 317,228 223,254 116,260 256,228 207,261 166,239 250,229 135,258 255,251 284,257 220,227 105,221 246,254 115,230 213,231 212,233 169,260 267,238 193,217 176,229 165,236 148,252 126,261 240,249 192,254 197,229 126,243 260,238 268,235 277,250 184,313 327,244 167,302 289,272 287,249 251,328 121,250 173,305 173,240 180,286 199,232 151,285 127,248 132,208 299,249 284,312 125,258 172,218 107,243 287,253 274,251 143,241 130,236 191,262 119,227 243,261 259,236 152,279 128,267 291,290 281,235 246,316 298,281 269,257 240,237 285,246 324,216 266,280 201,331 195,241 143,232 240,233 233,209 265,294 226,328 155,287 312,239 115,270 155,255 256,315 292,206 228,340 271,215 192,298 227,325 269,225 214,230 194,319 245,321 243,235 207,334 177,212 140,226 259,210 239,345 283,253 217,234 309,258 269,312 125,220 179,309 239,261 258,312 166,227 176,291 323,256 203,319 241,225 148,281 176,258 262,277 325,253 253,230 295,241 106,238 209,217 178,261 194,255 286,243 223,228 161,273 311,253 156,241 216,245 155,228 204,171 263,260 139,229 226,246 165,290 216,339 320,232 299,235 299,238 249,333 170,211 201,325 109,262 130,199 199,217 321,231 226,330 313,233 257,313 217,266 282,203 116,231 198,269 167,221 324,255 232,212 263,252 249,226 134,275 323,251 282,247 270,312 178,260 186,232 157,240 199,214 185,246 219,337 264,260 173,218 309,223 116,217 198,322 191,242 188,309 175,245 268,220 237,255 232,336 320,256 166,219 223,254 159,298 287,261 179,240 278,267 227,225 254,241 155,268 229,260 160,292 182,245 231,256 139,233 193,333 129,253 301,262 328,255 260,310 238,218 232,325 203,332 319,241 247,255 222,230 210,329 138,224 259,202 155,269 285,236 243,221 139,249 325,213 146,283 184,236 127,225 166,236 292,255 144,213 237,251 312,255 213,261 276,260 265,245 176,284 262,292 181,234 304,287 269,243 292,228 155,257 171,211 208,249 227,212 326,257 145,231 117,266 300,244 145,240 293,240 151,261 272,217 285,214 285,256 114,236 294,263 321,255 225,254 278,251 276,201 156,262 266,257 179,226 267,253 287,263 247,303 160,218 286,223 313,274 142,279 157,222 265,207 240,232 120,231 291,217 319,244 138,255 302,250 129,243 259,301 265,302 210,241 268,229 166,225 298,234 211,260 316,281 243,307 273,257 213,338 229,234 240,209 104,235 226,338 214,263 322,222 131,260 123,259 169,259 238,328 282,299 132,240 106,228 105,263 140,226 302,283 215,220 300,228 136,249 181,249 225,336 307,255 207,322 156,205 254,260 169,304 152,248 163,302 142,250 260,245 293,233 150,215 108,252 284,212 128,249 290,239 257,311 132,258 144,275 289,216 161,276 249,320 285,218 199,325 309,263 307,259 204,321 280,212 145,246 154,210 173,227 113,245 215,259 185,225 252,245 135,242 323,236 113,229 252,230 225,230 267,282 218,240 296,275 267,299 162,197 162,257 314,263 188,294 278,231 238,339 165,265 239,310 208,239 149,250 158,292 118,237 223,249 316,254 109,224 280,297 262,321 314,273 299,179 306,220 143,206 117,257 125,243 228,219 119,253 108,229 179,244 184,326 115,235 233,218 206,338 103,268 290,225 243,332 286,262 195,261 243,247 325,233 221,346 323,254 307,241 153,293 154,256 138,271 224,343 113,263 135,254 235,230 161,245 187,237 140,241 256,240 266,296 290,253 165,290 244,233 160,240 268,293 124,211 108,234 233,321 220,231 123,241 182,223 242,238 309,233 296,231 185,246 283,295 245,311 256,224 299,226 185,243 245,268 328,271 210,316 112,247 197,252 313,267 259,303 275,281 324,256 176,234 278,206 304,232 196,260 199,328 294,214 266,248 286,253 213,337 200,256 262,202 315,239 305,249 257,330 316,246 172,243 148,281 216,220 265,257 307,251 315,227 170,256 176,294 142,244 278,221 136,272 311,242 117,246 167,239 209,242 126,260 118,246 258,298 124,260 230,332 322,257 309,247 256,258 181,243 276,275 141,228 237,239 168,249 185,232 298,264 239,243 124,237 240,210 197,335 227,222 268,223 327,205 104,262 293,258 121,262 147,232 166,252 168,283 243,230 172,247 130,231 281,242 232,265 274,259 279,282 269,241 207,322 243,238 142,267 117,257 193,244 205,319 175,293 113,229 297,235 281,297 305,290 245,221 287,242 294,276 213,342 199,337 244,258 214,334 214,257 277,265 272,283 314,250 232,239 206,340 273,236 320,259 263,228 125,228 115,245 218,233 232,201 134,263 208,329 158,293 150,177 175,261 105,223 294,269 233,332 272,235 263,246 111,300 114,243 300,249 163,281 282,294 313,252 297,235 317,246 301,294 293,242 141,250 207,216 266,293 155,272 175,257 155,285 135,256 266,318 140,260 105,267 218,215 212,209 279,253 261,312 248,329 318,257 304,239 137,244 199,251 236,332 268,284 165,239 262,292 323,232 242,249 140,213 259,306 196,260 269,215 256,214 283,299 132,236 251,245 274,279 182,297 109,242 192,206 121,254 178,296 249,234 309,218 208,331 217,234 312,238 109,246 258,245 304,252 255,309 121,225 186,260 270,283 111,235 262,227 198,325 178,233 293,261 147,276 124,237 196,242 257,263 324,240 168,279 268,224 184,320 139,230 292,284 322,270 194,254 234,341 298,258 186,211 242,327 154,251 171,236 290,229 147,237 191,265 232,234 193,242 131,233 200,325 212,321 304,242 152,256 209,228 193,249 233,216 315,256 171,282 108,249 269,236 183,223 323,210 203,242 210,202 200,203 228,244 173,249 241,202 119,247 257,318 200,329 239,224 213,243 290,259 220,239 206,334 284,302 220,225 149,271 123,257 124,274 287,242 161,233 143,234 105,253 203,248 320,243 236,212 175,294 301,208 185,225 310,221 317,250 214,236 216,341 319,257 287,212 218,247 181,245 174,259 177,288 252,222 175,244 205,326 294,249 306,236 287,229 224,350 302,268 311,246 292,223 191,260 311,267 139,218 244,227 106,214 154,282 232,243 162,266 151,280 190,242 212,224 141,227 265,294 292,235 199,243 172,297 159,254 196,235 221,346 113,204 191,294 202,240 277,240 304,222 220,261 188,222 198,325 149,265 179,235 157,293 170,219 114,251 148,262 272,236 325,240 208,229 167,272 113,267 122,212 160,281 300,267 304,218 181,307 144,244 160,267 223,259 139,254 247,231 191,233 285,250 142,257 222,236 192,195 166,309 198,317 121,199 248,312 325,234 203,262 194,221 208,213 257,235 237,328 233,334 195,250 261,249 211,225 191,230 206,261 302,257 209,234 191,270 193,269 232,211 132,220 127,229 280,239 256,294 165,230 280,241 311,233 226,239 288,228 245,203 308,225 165,288 254,328 289,253 197,232 266,226 148,267 187,223 266,223 251,233 272,311 281,207 207,308 133,278 208,239 167,220 318,225 160,255 126,250 182,324 290,263 170,298 156,251 107,211 232,261 133,263 213,336 182,310 106,230 201,324 259,309 151,266 135,233 187,254 107,245 296,264 278,303 292,235 169,241 201,253 263,238 285,250 259,246 292,286 166,243 115,246 142,245 208,341 117,237 298,286 213,237 185,268 275,254 233,331 290,206 213,266 148,233 156,242 185,247 228,253 124,244 311,253 307,231 309,264 290,278 220,240 279,293 106,227 215,232 187,316 318,256 109,224 172,298 136,239 245,332 323,273 302,268 213,260 175,244 186,220 129,249 314,212 273,245 322,212 255,325 257,211 223,240 307,225 156,235 268,235 237,338 152,253 282,197 234,244 306,245 142,244 292,221 204,232 302,261 219,338 159,245 223,263 123,218 219,243 154,295 264,261 189,288 194,263 205,206 108,272 221,248 179,304 124,232 133,245 238,330 290,212 251,314 181,228 238,319 130,254 206,247 196,227 135,239 251,216 152,216 195,315 266,224 281,245 167,270 245,212 229,260 245,240 312,239 135,229 212,240 319,242 156,285 251,258 264,274 207,327 278,214 172,258 267,263 225,254 325,231 219,237 117,248 296,230 206,238 281,217 160,220 254,255 215,217 126,265 162,234 302,206 244,224 226,217 202,320 260,230 265,222 324,259 174,279 197,236 298,259 273,307 325,249 109,253 299,261 261,261 284,264 236,230 134,249 265,241 145,266 258,252 279,246 191,304 251,314 192,221 155,262 303,243 227,236 232,252 208,242 214,260 113,260 238,254 208,233 306,266 264,256 286,244 263,263 218,330 103,201 226,252 150,278 117,234 131,241 166,249 320,237 293,234 125,206 111,255 166,245 179,303 207,242 105,244 276,235 310,252 162,274 185,308 132,251 109,253 288,242 107,228 242,334 155,213 226,253 211,248 159,270 326,262 166,231 144,262 109,232 104,245 323,229 130,265 189,257 238,340 233,335 118,222 155,217 236,243 325,233 120,249 307,249 151,250 191,326 268,257 186,218 298,257 286,212 294,245 154,256 114,204 215,326 265,265 265,222 178,307 290,239 281,291 286,239 259,241 196,212 111,221 316,203 177,254 238,240 231,324 325,254 104,225 276,250 309,233 296,216 220,212 214,256 195,252 295,255 278,269 196,270 196,337 183,240 156,220 325,252 137,247 266,324 187,311 134,226 275,302 191,224 264,207 224,234 301,208 137,258 300,239 115,239 258,193 107,219 282,298 276,288 260,228 151,246 216,346 202,235 215,256 137,240 321,250 281,264 309,269 166,243 135,256 201,307 135,207 274,245 309,239 244,252 237,335 161,260 136,227 308,213 215,318 231,230 208,240 267,319 117,239 115,270 169,218 104,231 313,265 206,322 317,264 116,252 207,266 283,298 232,242 214,265 210,238 253,226 316,257 234,244 323,259 132,235 208,321 209,336 257,328 112,256 266,221 105,228 133,245 198,243 120,233 195,228 213,259 296,274 320,223 308,256 106,235 310,224 233,255 214,234 158,285 299,254 316,224 201,229 288,246 167,243 303,274 221,346 116,244 149,283 275,266 147,244 285,241 293,265 270,300 203,340 192,216 155,218 128,249 155,271 151,257 123,241 215,244 298,221 164,262 120,273 242,261 293,258 313,277 175,238 316,251 316,219 235,330 252,260 225,238 153,296 183,290 204,308 192,203 258,250 272,218 198,335 155,282 281,287 112,230 268,256 231,222 278,255 281,239 173,281 220,347 232,217 305,278 164,289 263,231 274,245 248,230 176,304 189,263 280,260 160,279 274,260 222,348 120,229 328,238 252,230 221,242 173,235 116,239 195,322 238,258 227,251 198,231 273,223 190,207 241,310 114,228 294,296 224,228 319,265 230,335 267,220 194,310 135,234 272,175 178,215 112,255 123,261 110,225 191,259 151,234 315,244 321,226 153,248 118,254 183,250 317,261 305,230 290,281 139,257 105,250 209,258 312,247 161,296 230,341 119,237 191,252 113,214 174,244 321,256 169,292 176,295 270,289 262,293 220,205 180,227 298,254 323,242 162,301 262,318 238,245 249,260 216,223 238,328 270,315 206,203 145,229 206,328 222,226 241,255 107,247 189,307 224,341 180,242 141,244 321,260 317,261 177,244 141,240 246,307 127,224 297,275 172,205 291,239 174,218 194,237 278,239 138,231 133,270 321,214 160,217 134,251 284,298 295,210 160,298 191,232 277,253 216,231 295,245 148,240 184,261 135,220 235,320 125,261 240,331 196,254 279,236 162,242 192,314 147,270 243,319 145,227 132,259 264,219 111,232 216,322 173,237 246,250 147,208 326,246 169,221 328,255 240,241 173,238 177,288 150,225 207,334 317,208 151,213 118,247 130,269 205,206 209,248 158,247 166,259 187,307 142,231 147,264 292,246 178,236 112,226 192,300 209,325 222,237 187,233 218,230 268,227 196,314 258,239 313,292 298,247 216,345 257,251 145,253 310,245 129,223 318,245 285,230 201,229 222,248 313,258 226,267 315,265 225,235 323,268 311,275 151,214 195,233 132,254 276,215 175,257 289,244 152,226 181,222 242,245 164,245 238,321 306,253 184,245 261,305 160,292 243,325 282,296 272,264 319,248 248,228 112,250 142,234 278,283 162,231 208,221 283,226 257,217 274,232 153,201 294,259 191,247 166,242 132,258 184,304 205,260 144,251 272,218 323,215 106,236 151,203 286,265 163,223 180,257 211,258 134,206 200,315 124,218 323,210 258,230 121,228 248,216 271,207 161,284 298,234 238,315 290,228 313,258 140,254 281,254 137,231 253,304 236,331 164,278 258,197 175,239 222,224 126,274 255,317 293,250 259,231 256,312 167,289 155,288 288,282 166,298 193,257 270,280 116,250 287,260 223,327 265,263 190,205 268,251 264,210 172,253 311,244 160,261 321,212 149,248 290,258 286,257 291,244 306,263 208,333 209,242 194,240 155,233 170,289 204,318 279,266 120,264 142,257 193,323 327,276 204,248 252,323 265,222 206,256 160,265 179,232 235,332 149,294 313,232 191,255 192,308 226,344 197,317 215,339 170,268 225,253 181,214 129,248 306,251 324,272 271,267 271,242 318,267 139,238 291,232 129,236 230,254 161,220 116,205 293,245 190,207 319,260 208,248 135,254 234,202 240,231 281,258 261,295 286,305 229,346 184,305 170,309 183,303 222,343 139,268 229,231 155,269 143,246 148,208 209,339 220,333 244,312 227,243 243,323 190,240 226,259 301,258 129,253 194,234 227,258 293,238 215,266 156,253 134,260 323,236 206,336 177,293 208,241 236,234 144,225 243,258 133,234 320,262 229,230 142,269 237,254 193,248 117,222 170,303 234,323 228,335 195,246 173,298 230,249 194,238 167,256 210,340 322,167 269,310 225,333 197,240 238,236 261,220 275,261 188,316 114,218 121,225 146,292 249,320 255,233 169,288 183,281 193,324 269,241 163,283 222,207 127,237 164,306 119,258 170,204 294,255 325,225 119,220 302,264 159,247 318,207 268,256 304,244 191,205 205,320 232,260 263,230 134,280 282,289 135,226 261,206 260,221 125,242 309,229 156,232 105,221 222,330 201,240 247,253 205,256 150,247 217,207 215,330 162,247 288,254 208,255 216,334 239,257 198,236 154,208 182,293 147,264 308,233 186,231 183,307 117,258 216,263 137,236 246,245 170,203 283,223 186,235 146,251 123,239 214,219 291,246 140,237 162,306 107,252 284,259 114,228 318,227 305,245 238,264 152,300 298,282 121,210 263,324 141,236 184,256 209,312 133,271 187,299 225,335 244,251 283,221 283,249 196,260 262,325 122,237 149,285 226,252 244,227 154,239 164,284 313,269 279,179 112,238 170,262 236,260 142,224 293,244 143,250 200,243 165,282 162,224 208,245 185,239 136,257 207,234 236,260 181,241 144,225 261,225 316,254 176,241 172,311 217,345 182,234 299,227 225,338 306,270 250,219 162,227 290,279 104,245 284,264 296,214 219,352 275,248 189,299 303,259 156,277 194,311 177,200 221,341 323,266 179,254 283,257 157,256 258,319 259,247 117,233 250,255 324,167 118,262 141,208 228,250 222,235 273,274 185,233 220,253 159,258 106,216 164,247 288,224 212,332 258,317 165,285 273,238 315,242 132,259 138,267 301,222 105,201 316,235 290,240 260,306 231,228 116,248 144,272 281,243 181,321 201,227 127,258 133,235 131,233 190,237 204,250 276,247 236,330 319,229 193,229 203,227 111,244 212,323 177,300 112,249 225,215 245,327 207,320 151,250 250,237 312,219 236,314 172,314 206,319 266,242 123,245 278,266 272,306 301,256 120,227 213,238 304,262 287,235 325,221 212,232 255,301 305,270 237,344 328,215 274,220 120,236 326,275 249,234 250,249 161,255 312,240 138,281 269,237 141,232 207,237 177,192 156,212 298,206 250,206 263,295 257,260 265,289 195,266 293,256 248,322 182,265 238,162 319,256 175,253 157,296 226,256 142,234 270,239 317,245 118,250 223,246 323,231 117,217 306,244 322,230 143,235 294,237 140,241 144,278 316,238 267,326 201,255 173,281 154,240 156,253 230,219 109,230 195,217 311,268 145,212 112,235 221,219 302,243 248,330 291,254 293,243 317,237 225,225 132,263 185,263 314,251 205,234 112,243 272,159 257,228 129,253 206,236 175,228 231,245 325,257 278,270 194,228 227,205 111,236 243,223 172,294 159,266 189,199 234,246 171,245 147,282 290,239 312,239 104,256 229,210 250,225 272,247 175,228 126,273 198,250 285,249 236,350 149,258 243,338 300,277 173,244 181,288 223,255 255,249 289,298 119,258 220,221 174,293 132,269 285,291 224,265 301,236 106,252 279,232 154,252 272,254 250,329 117,233 146,220 222,339 135,247 289,267 212,234 176,223 216,245 235,314 290,221 273,277 204,320 143,250 135,276 263,223 177,312 243,230 119,243 225,353 302,235 317,215 268,284 210,328 110,244 130,228 182,253 155,267 291,296 196,324 289,207 218,233 258,281 222,334 282,263 121,231 255,245 222,232 287,242 133,242 188,311 198,227 105,257 187,246 250,244 186,252 192,241 134,270 118,215 133,220 135,267 118,236 214,327 300,218 301,220 175,251 198,329 129,230 267,302 138,255 266,251 316,249 181,214 152,251 172,280 133,235 209,237 164,232 135,247 182,214 250,211 274,229 286,265 161,261 226,234 232,344 309,268 132,259 144,259 231,236 154,240 200,228 230,237 177,252 210,251 285,241 322,265 245,236 319,214 242,311 221,232 157,244 274,239 106,229 125,266 110,258 214,314 301,255 305,258 286,254 135,254 112,210 239,249 171,286 166,221 318,253 112,253 239,237 276,294 231,192 260,261 145,231 159,261 263,246 315,234 151,263 291,283 297,231 158,275 263,310 225,257 266,229 181,318 119,269 131,234 321,258 325,238 308,289 189,239 192,221 320,250 114,245 210,244 210,231 149,239 178,253 296,240 250,314 179,233 280,280 282,275 313,217 189,226 257,252 289,264 196,326 228,215 305,208 155,292 190,320 290,230 147,241 244,215 153,261 318,248 317,247 230,261 130,235 108,231 103,253 323,232 225,334 190,257 273,315 165,263 203,328 209,239 285,293 198,311 263,256 129,230 207,322 168,297 322,270 149,245 107,223 113,255 211,256 168,295 253,244 135,217 311,265 238,244 251,297 144,251 138,248 254,242 303,292 169,265 106,243 117,260 254,313 240,212 138,259 105,221 279,265 232,327 312,263 122,238 220,235 265,257 207,211 182,291 224,342 188,306 109,250 117,240 107,230 133,258 206,322 136,239 148,259 127,233 274,249 250,322 297,263 204,243 187,215 212,251 250,321 243,213 124,246 201,320 169,289 259,259 308,263 165,224 180,309 295,239 272,312 222,252 302,237 127,242 279,296 307,243 281,224 213,239 156,292 126,244 275,246 105,251 142,245 265,299 313,237 292,281 192,206 179,261 173,225 324,245 153,249 266,308 311,245 319,240 290,235 310,238 263,302 202,315 130,263 162,278 243,244 155,283 191,230 161,277 243,242 267,291 210,229 201,259 259,252 107,238 286,225 250,229 218,247 139,259 240,342 208,226 187,313 208,329 292,239 285,216 227,256 203,326 247,325 119,261 170,298 267,299 202,250 136,246 232,194 227,213 169,250 155,244 208,312 147,293 165,278 220,340 299,227 132,268 291,289 172,217 277,307 300,246 276,301 241,247 314,221 132,245 231,238 166,297 327,258 278,293 155,282 147,283 245,243 197,303 213,214 243,204 276,256 151,279 113,230 314,254 165,302 159,269 284,232 262,279 262,312 304,267 202,228 230,343 227,211 167,256 190,322 296,265 227,216 125,264 227,233 268,236 245,330 271,232 187,315 304,214 297,275 170,194 220,242 205,257 299,238 264,284 250,227 240,241 231,346 122,255 317,227 201,321 114,202 299,241 218,336 104,224 164,254 268,301 124,211 130,229 316,225 315,244 202,252 141,269 224,221 326,245 281,301 304,236 159,240 228,239 152,250 166,254 130,211 145,226 267,308 150,256 109,203 120,238 210,255 216,330 146,267 304,235 236,339 254,290 254,321 175,306 292,250 295,255 195,316 153,274 275,215 186,233 306,246 146,232 283,280 146,264 326,263 251,237 161,222 292,280 324,243 255,257 144,252 187,294 167,232 173,220 164,296 166,236 325,251 252,325 131,256 200,249 189,299 206,329 214,258 202,233 228,255 114,241 203,325 231,342 266,294 228,231 323,241 327,228 172,207 226,330 194,319 151,259 190,297 108,251 187,245 305,217 325,263 258,297 250,299 231,240 262,223 148,256 267,262 254,258 316,215 160,279 244,316 226,241 139,239 135,234 187,261 252,309 269,239 229,247 185,236 126,230 213,249 240,260 208,241 292,263 160,230 298,278 240,338 187,251 194,320 151,263 261,237 196,239 142,255 256,249 124,262 166,240 114,259 109,248 119,242 324,206 210,226 269,317 266,282 319,224 240,339 205,236 279,257 105,270 263,207 222,347 281,233 173,284 262,264 292,286 287,296 199,337 316,259 221,340 201,225 195,225 111,235 326,246 249,256 249,244 179,238 219,204 314,239 171,295 127,234 218,241 306,222 268,223 290,255 291,246 170,286 133,250 243,246 139,249 215,233 221,331 103,255 310,212 156,225 190,218 195,324 269,236 204,239 147,234 136,241 117,232 150,230 167,228 114,251 220,215 227,223 160,229 268,244 231,325 123,241 226,338 186,280 230,245 239,239 217,241 226,228 144,232 294,260 232,319 117,230 148,265 123,235 314,240 222,326 287,245 294,241 176,240 134,256 195,244 125,261 207,257 156,286 260,217 204,261 139,236 146,228 130,255 273,227 316,276 263,260 178,236 208,246 308,161 292,290 128,213 248,325 146,255 276,266 215,241 130,236 259,293 308,243 215,255 203,223 223,324 230,207 204,321 210,215 217,343 139,255 276,304 304,284 261,266 207,224 229,332 166,255 319,259 229,336 277,241 215,344 237,240 139,228 240,263 284,292 266,241 226,263 250,241 178,250 280,207 286,259 308,267 163,240 239,332 301,274 224,344 233,327 241,250 202,249 176,264 149,267 149,265 175,286 127,245 146,245 273,309 139,225 185,316 300,233 190,316 318,232 196,239 191,297 251,259 267,209 320,268 239,254 301,237 182,238 119,230 174,236 205,342 133,229 161,278 207,238 182,303 229,204 165,260 238,220 324,213 187,232 203,246 264,308 254,310 180,300 174,219 242,324 119,256 166,240 296,228 275,215 162,297 181,282 299,261 251,255 271,246 267,292 199,314 215,224 328,235 281,299 287,268 201,254 306,242 232,344 182,235 259,237 184,225 185,289 290,254 220,205 226,345 224,325 226,222 189,321 218,350 284,255 137,259 326,224 223,341 209,257 216,258 271,250 196,311 274,225 286,280 245,258 210,212 125,259 263,238 124,267 286,282 115,267 128,220 146,233 225,249 286,297 228,253 179,235 134,261 204,340 274,219 321,258 108,230 216,222 192,309 155,253 292,288 222,325 255,252 294,266 325,241 153,256 208,229 248,260 272,223 218,329 245,243 241,221 309,256 119,233 198,202 141,228 271,241 186,216 109,273 106,246 155,218 130,260 304,238 316,237 175,253 204,248 157,212 233,205 165,264 184,242 315,259 247,326 175,201 159,259 177,201 151,226 203,225 108,227 293,239 250,253 147,234 164,287 132,254 325,252 221,243 270,259 267,220 164,242 178,261 105,242 257,214 150,231 196,219 260,286 321,220 313,271 105,262 264,208 164,289 315,237 229,252 223,341 250,241 323,252 148,256 192,253 136,231 206,338 196,312 230,214 291,243 199,323 265,218 131,258 246,231 212,340 196,247 109,221 231,246 263,221 225,240 236,236 103,214 169,228 139,261 236,255 114,226 251,226 160,261 272,308 156,269 291,215 105,235 242,231 279,257 194,256 328,236 171,239 323,230 130,234 272,307 136,232 135,266 242,210 142,246 227,215 318,233 163,260 230,333 297,250 301,209 243,334 203,241 285,253 165,235 180,252 103,231 316,230 214,336 277,281 320,263 211,341 186,298 132,250 320,224 195,238 282,247 319,247 138,246 133,262 149,268 136,256 198,327 150,274 163,221 111,216 161,296 310,277 206,322 316,244 108,227 185,226 234,326 303,238 295,208 285,239 160,239 241,316 103,226 149,237 184,249 110,240 294,219 141,246 243,242 280,278 275,242 299,195 173,301 301,277 175,260 209,199 166,297 327,229 185,236 219,267 234,257 166,221 216,248 268,230 160,233 280,244 261,283 240,247 273,253 202,246 266,317 316,236 173,283 141,251 246,250 253,311 274,262 309,208 205,248 193,247 286,241 221,231 248,240 169,250 324,234 121,239 209,323 208,325 142,219 159,231 159,228 190,221 212,223 280,262 251,301 269,221 269,246 192,327 131,256 228,263 246,238 271,233 282,299 318,259 289,254 134,229 293,232 166,258 312,223 296,251 182,244 108,218 153,248 129,238 248,241 270,231 278,225 292,263 141,280 297,250 207,246 114,267 220,249 218,214 110,249 188,321 216,335 243,261 316,240 146,242 223,234 254,315 265,288 262,257 235,239 150,233 167,219 262,231 257,245 248,256 206,318 194,325 109,240 203,325 127,277 173,212 251,221 115,245 194,245 317,244 131,232 230,238 221,342 147,238 224,248 263,299 244,313 236,205 175,280 224,240 175,316 134,218 195,313 190,318 302,253 292,244 256,217 267,233 206,326 284,254 276,251 300,269 123,230 241,331 211,247 193,265 270,242 301,239 278,240 282,270 180,309 307,255 271,291 283,215 169,272 276,292 104,255 239,214 115,259 122,238 228,240 230,338 274,244 109,256 276,248 148,266 195,326 127,264 189,223 236,231 120,235 295,256 263,220 267,249 223,343 265,255 121,232 137,272 262,255 206,335 210,233 180,305 206,331 159,276 269,271 181,258 184,302 311,256 295,268 309,253 156,215 254,301 253,306 217,341 243,254 132,252 127,234 110,245 271,294 319,211 295,222 328,257 239,330 168,259 256,308 217,345 192,239 103,227 130,261 310,227 203,248 323,223 120,244 124,225 162,285 147,250 222,325 229,242 237,218 112,278 109,242 193,300 265,242 308,251 286,236 157,194 291,254 209,215 192,304 114,231 314,274 280,246 239,324 261,231 182,202 277,261 307,257 253,244 224,347 159,211 239,214 182,250 241,248 220,335 190,219 111,229 309,277 327,247 226,248 200,318 304,221 118,239 149,254 206,232 151,227 293,224 114,252 170,242 219,342 308,246 118,236 234,246 190,319 213,251 255,256 301,242 239,203 278,272 274,208 233,259 323,245 268,312 323,238 171,214 211,258 228,351 309,234 166,231 105,214 239,235 307,255 308,250 308,262 141,236 227,344 282,235 169,250 325,238 288,251 194,269 262,244 210,234 245,238 188,222 313,203 259,234 194,231 189,301 280,281 141,201 131,241 137,244 292,254 158,257 283,235 278,277 166,227 234,230 303,257 215,243 239,250 298,252 280,246 179,304 111,237 151,227 108,256 269,237 104,234 260,314 209,241 323,249 304,252 269,313 251,313 199,326 223,342 233,208 163,267 326,240 173,292 109,222 137,237 158,288 268,286 299,265 244,253 178,268 204,224 313,230 324,252 194,315 206,214 265,218 199,222 217,341 127,225 171,234 192,236 299,262 202,237 142,254 272,236 203,217 317,208 193,255 144,226 280,200 225,348 243,300 260,320 262,215 265,247 280,254 190,240 233,261 204,335 277,255 165,289 162,294 278,253 109,268 294,218 264,313 309,231 314,227 198,330 170,292 280,297 135,250 276,259 130,255 322,225 297,214 200,266 266,234 153,260 232,256 114,255 270,276 294,220 283,203 233,335 278,279 232,342 195,324 230,343 212,258 251,243 121,257 276,229 146,255 283,287 303,272 310,258 327,245 177,301 296,245 167,222 276,290 190,238 324,248 264,237 126,259 224,245 163,232 258,324 303,240 253,312 269,259 261,237 182,238 227,343 179,306 328,215 316,205 157,273 239,229 208,219 174,302 189,227 192,206 162,226 248,317 246,332 136,247 207,336 165,253 208,337 230,255 179,285 158,196 276,295 296,238 273,293 127,231 145,276 307,259 172,304 174,258 250,251 148,255 310,242 232,337 129,258 244,220 226,322 288,261 312,225 298,284 115,225 170,277 278,300 231,224 152,231 306,236 110,261 133,269 301,255 307,271 209,330 299,268 151,224 279,222 260,282 298,289 289,247 262,259 292,222 262,250 212,191 231,329 283,230 204,332 105,226 250,322 190,215 248,326 122,260 108,266 296,268 173,210 324,253 319,224 145,271 132,222 280,256 308,235 239,254 326,211 170,255 196,228 137,229 136,260 291,272 158,264 117,230 296,240 308,248 284,209 190,315 117,247 247,304 172,255 284,221 249,309 297,289 205,316 161,284 145,232 120,246 233,342 229,270 250,229 169,294 123,241 259,250 154,250 240,232 280,232 147,269 253,219 324,252 173,252 320,246 197,263 260,311 279,264 192,323 269,220 208,323 258,244 157,211 263,252 106,166 204,262 235,343 121,257 121,236 133,240 281,227 199,259 274,248 181,238 305,245 249,261 244,334 110,254 176,313 248,242 208,307 310,249 202,252 140,273 186,237 232,223 148,272 145,283 111,255 273,240 178,244 223,220 290,281 277,311 326,260 256,261 197,333 218,253 223,320 320,210 157,270 108,213 233,341 157,245 293,230 215,250 320,214 180,236 203,322 286,260 259,229 163,270 312,267 107,246 154,248 118,260 258,256 264,313 278,290 113,236 182,265 308,255 268,311 112,253 241,322 170,288 314,259 138,246 148,259 297,261 185,301 293,260 113,228 214,324 251,255 288,253 198,319 207,232 301,253 173,244 159,291 192,241 121,250 195,203 228,202 115,239 140,263 271,269 189,232 288,278 299,223 225,324 150,241 296,247 258,222 156,217 251,204 327,259 273,242 243,250 121,252 203,253 148,270 228,223 195,312 282,236 155,242 103,246 297,266 260,326 316,251 243,252 323,212 129,259 131,263 323,244 163,251 109,217 146,254 302,273 266,326 158,281 256,310 302,241 218,260 258,321 176,209 230,335 183,316 167,240 314,257 321,186 239,259 203,314 164,276 221,255 254,232 119,258 179,214 222,236 197,316 326,224 245,334 179,267 176,206 131,262 286,239 122,231 262,224 189,328 313,252 247,223 241,227 224,349 104,222 246,246 265,242 294,273 203,320 173,224 258,303 166,252 202,311 221,258 218,346 309,266 150,233 242,314 172,208 303,256 288,270 305,253 279,214 163,237 167,228 255,307 179,238 213,332 141,253 172,241 322,240 277,285 202,249 264,220 254,326 155,257 246,266 285,281 239,247 210,336 260,242 314,276 316,233 256,303 308,278 319,249 286,268 129,265 122,244 207,211 254,318 241,256 126,243 211,245 224,251 308,261 135,264 146,278 304,259 296,233 138,240 153,249 263,314 172,254 218,222 306,255 231,200 307,229 155,226 174,253 216,343 184,290 152,231 152,215 199,233 244,243 203,334 204,326 185,234 204,254 257,234 184,312 147,232 221,229 197,238 164,257 296,272 264,254 117,247 142,281 142,224 282,223 322,208 319,251 192,298 268,284 173,268 274,300 148,205 164,284 211,338 276,246 146,246 247,323 146,275 129,253 229,232 151,225 288,213 327,270 159,253 203,261 242,248 315,239 147,262 276,265 308,233 192,262 307,272 194,257 281,266 328,269 152,227 190,256 191,239 171,295 126,225 300,259 216,325 221,241 139,204 299,233 167,230 136,269 309,269 200,231 322,234 314,240 272,291 120,262 220,251 164,307 300,242 218,212 131,252 211,237 264,213 325,230 106,236 181,220 176,302 192,305 291,238 183,316 305,175 254,237 263,234 139,234 108,225 139,258 316,266 197,244 211,315 251,305 307,266 328,236 229,203 277,311 271,322 291,220 308,220 146,268 317,256 297,248 116,217 112,252 282,269 302,218 265,231 147,213 244,267 122,207 160,276 176,292 280,303 118,252 111,231 107,246 161,230 259,319 200,219 273,292 298,268 113,244 207,206 300,275 147,246 121,255 115,231 171,281 185,304 315,276 201,305 106,239 157,289 155,222 193,258 219,253 294,231 299,263 238,189 232,327 137,247 194,263 228,222 144,244 288,286 287,198 150,259 105,251 108,240 277,228 264,263 114,233 286,224 165,288 236,234 321,241 221,335 145,270 254,241 155,234 175,246 267,241 248,315 325,235 164,291 286,230 133,226 233,327 263,233 166,234 321,239 105,208 289,273 287,272 233,249 130,258 183,230 185,306 111,266 127,245 270,236 219,230 129,240 123,250 313,253 120,215 206,256 284,251 145,212 149,287 240,337 200,264 149,256 107,228 174,290 209,217 162,277 258,287 240,317 189,249 283,304 137,223 328,252 149,239 207,252 229,325 147,252 208,225 215,232 177,252 201,244 166,248 212,266 212,251 290,260 159,236 243,326 319,261 317,268 299,235 183,309 238,254 257,255 152,242 184,283 107,259 302,279 139,234 135,203 121,226 274,259 186,244 219,349 118,208 153,218 180,258 187,292 197,307 171,268 134,268 165,261 172,258 187,221 184,252 226,304 250,216 267,300 282,275 117,247 174,211 122,226 163,240 231,220 199,247 202,325 201,247 308,258 311,285 115,205 184,311 237,337 240,326 310,233 114,243 310,266 264,226 292,250 284,211 209,256 124,257 304,237 148,223 288,262 226,349 203,320 181,302 244,215 108,237 272,303 283,275 227,334 207,235 186,314 181,322 214,346 168,288 254,206 318,257 306,224 200,311 112,250 275,242 229,256 238,326 176,242 166,258 168,305 182,261 285,267 257,262 239,233 268,237 233,239 109,261 216,337 204,328 290,222 126,258 159,249 251,256 170,242 238,220 229,246 276,257 144,241 152,280 289,266 160,260 126,220 183,315 173,200 294,285 321,251 163,214 193,328 299,252 204,250 219,353 113,261 285,258 317,250 285,232 161,215 249,324 155,290 258,253 185,212 302,289 105,249 315,239 114,264 151,289 193,223 292,231 293,287 143,229 309,207 163,220 210,326 216,245 119,235 241,333 320,256 273,263 215,333 279,289 274,312 161,256 263,236 223,245 314,208 204,330 217,256 163,299 193,315 262,218 286,223 232,242 146,238 126,236 173,305 130,258 232,254 215,332 226,248 108,246 182,237 218,334 230,239 184,306 221,245 298,232 169,281 196,264 220,331 244,242 282,188 171,251 250,257 152,229 184,298 127,218 276,290 127,247 265,232 306,204 234,340 239,240 165,228 210,228 143,211 228,249 126,259 219,344 279,268 190,254 234,347 171,286 131,222 234,333 198,316 145,283 150,261 326,263 140,229 104,270 315,234 169,233 286,253 176,294 292,200 161,281 293,263 324,204 219,339 178,245 286,223 222,238 255,317 265,288 274,248 286,272 221,264 240,222 185,219 299,225 315,260 154,271 148,238 123,245 232,226 223,340 322,223 228,330 301,286 226,205 264,236 253,201 234,263 283,262 172,293 115,209 238,347 188,260 229,245 200,249 189,262 285,265 185,225 147,263 178,224 147,244 274,242 169,314 136,199 146,291 227,221 305,271 224,229 111,254 239,316 154,256 143,250 186,257 105,251 185,304 288,265 285,244 266,261 262,215 268,285 164,223 231,246 145,289 168,210 261,294 321,238 241,341 249,304 121,217 205,257 320,275 179,243 273,249 267,255 241,313 124,263 196,294 295,234 193,249 138,275 224,337 200,253 283,303 207,265 135,212 259,243 308,252 107,229 141,220 193,235 118,237 280,219 216,244 251,335 299,232 189,297 254,320 259,226 168,272 151,210 227,214 242,310 308,261 320,203 107,247 170,284 123,251 132,200 174,229 280,279 213,227 105,226 318,271 135,259 220,228 211,248 112,230 147,272 162,278 257,305 183,231 309,228 321,210 190,249 171,265 243,261 187,308 234,345 108,238 299,253 323,263 275,317 144,222 281,256 182,226 213,209 262,237 157,281 167,291 303,257 142,210 279,282 167,299 140,254 113,233 211,329 279,276 112,241 146,267 188,323 293,283 166,234 256,311 198,277 175,309 285,290 239,209 160,249 292,264 227,244 146,222 279,270 258,320 265,242 153,270 224,254 176,313 321,255 206,202 288,267 176,222 240,224 206,334 158,227 273,241 241,212 241,252 200,230 267,294 310,231 299,234 128,269 226,215 328,229 110,249 107,268 253,310 144,236 170,235 135,271 261,309 137,247 168,261 230,324 269,282 156,283 288,210 193,317 282,256 219,249 327,256 252,232 172,250 215,256 142,257 295,234 298,236 128,262 212,244 220,214 151,246 304,229 231,231 261,299 148,271 281,202 284,301 287,168 271,298 130,242 251,335 148,250 272,281 244,318 175,307 296,242 157,219 285,213 319,215 287,257 160,274 297,276 274,236 208,330 165,241 213,257 186,239 267,233 251,241 223,324 305,227 151,227 215,339 266,249 208,335 260,235 251,317 278,318 288,255 110,261 224,343 258,239 138,266 286,231 306,271 313,259 205,215 243,336 188,237 306,210 161,229 233,332 281,249 327,265 200,229 214,327 311,236 294,255 147,241 162,261 226,232 242,246 295,235 301,258 272,206 277,255 327,203 192,242 115,243 268,206 136,223 249,255 107,265 214,213 116,240 174,214 324,236 151,238 167,304 275,257 256,240 221,250 300,243 261,300 214,240 186,299 145,261 244,243 158,265 287,252 216,327 279,203 210,245 292,238 183,237 221,231 243,264 193,257 305,252 275,204 170,211 123,251 327,258 134,201 157,250 235,259 166,247 193,240 183,295 287,232 154,237 149,203 307,267 200,331 242,224 169,225 105,268 164,300 327,260 110,210 175,289 153,213 187,307 327,228 184,250 117,251 189,263 143,247 120,237 321,263 258,236 309,229 322,223 279,282 207,334 128,252 211,332 132,226 136,263 177,238 315,219 243,253 260,248 253,320 139,225 225,353 216,238 325,234 162,303 257,215 144,235 112,260 229,326 217,345 192,213 225,336 171,218 161,256 251,233 192,257 306,228 322,221 225,346 117,254 312,257 256,304 222,252 130,254 181,303 148,294 126,234 148,260 134,196 328,218 143,228 171,241 208,266 263,295 293,274 315,233 253,238 182,238 143,233 276,306 310,226 260,212 270,313 182,253 171,280 160,294 221,205 288,282 195,315 132,258 302,262 251,297 160,231 312,247 281,262 127,258 287,289 311,261 257,258 297,290 204,248 184,248 131,256 263,223 256,215 186,238 289,259 221,213 118,240 308,212 258,237 222,262 184,300 193,325 202,331 287,260 257,218 164,226 187,295 154,226 194,226 181,257 207,332 282,251 174,264 300,250 322,207 136,285 137,228 147,250 161,248 163,264 239,331 268,306 251,248 309,257 146,216 109,247 324,257 160,234 206,334 209,242 154,251 308,209 257,304 110,218 199,237 163,229 294,292 298,300 317,219 263,224 321,236 171,255 131,230 112,235 146,232 239,227 322,245 158,217 194,226 253,294 153,277 224,224 200,253 131,260 300,260 315,289 112,233 303,235 172,257 103,218 126,251 287,240 186,292 123,243 309,280 261,253 113,214 263,220 183,283 167,293 236,203 164,265 176,305 199,235 174,316 191,212 250,246 163,255 107,270 147,253 235,321 158,256 159,240 199,234 182,257 238,248 177,231 178,300 246,226 213,337 161,290 255,261 265,284 279,228 230,334 304,252 182,318 161,233 287,249 201,241 232,217 142,273 268,258 287,268 250,229 303,231 259,225 154,300 170,221 323,207 247,253 244,221 327,243 304,244 153,252 289,299 166,261 226,252 252,328 209,320 259,318 203,245 251,202 184,310 143,206 248,322 260,321 224,268 160,241 253,296 250,208 252,235 185,261 244,247 276,226 120,247 119,217 195,218 213,253 167,282 180,252 150,231 328,225 322,229 300,250 140,254 175,233 262,296 145,236 219,224 191,214 147,275 322,226 238,244 112,247 167,301 139,251 223,216 120,263 198,328 132,262 280,294 316,241 224,344 135,295 204,255 144,276 307,253 131,231 273,240 273,228 179,309 168,231 110,247 126,236 139,254 317,270 168,221 268,224 109,234 214,253 166,231 118,257 172,311 277,239 300,235 250,224 232,228 156,255 158,253 282,212 202,240 186,243 142,238 219,341 165,254 170,304 110,217 288,236 263,285 210,330 205,322 135,262 235,312 107,250 231,239 325,251 184,305 257,298 142,229 291,288 320,255 195,218 103,241 148,240 286,264 192,311 251,266 166,298 119,232 293,238 112,246 211,344 182,228 292,266 256,295 198,251 210,252 250,312 277,237 108,252 278,220 328,237 142,287 269,247 244,329 192,213 193,321 276,283 294,280 119,254 319,280 225,325 209,243 128,269 312,217 106,239 185,260 312,257 191,228 298,260 268,229 156,225 185,238 234,235 152,218 107,237 292,231 223,263 205,318 224,352 262,310 157,279 199,293 158,256 161,262 182,304 176,285 198,309 175,315 240,334 224,342 280,259 223,256 288,257 126,262 150,273 236,246 142,236 315,249 151,291 180,318 227,238 213,322 309,247 282,210 125,245 155,235 236,351 239,227 119,230 308,249 240,323 325,233 156,242 293,229 231,242 248,228 197,262 231,215 168,236 184,249 221,343 140,270 251,237 249,324 310,261 244,248 160,200 196,219 294,220 223,219 230,231 227,343 115,228 171,253 325,256 135,244 143,254 222,263 137,212 117,240 218,335 182,217 151,255 232,347 110,233 139,231 192,322 200,237 103,260 285,237 161,241 171,255 315,246 130,239 193,313 193,254 199,237 300,234 103,230 223,343 218,228 172,245 252,253 181,260 208,320 181,285 294,223 149,218 203,259 309,236 326,218 137,246 151,213 157,294 260,284 178,248 175,317 225,251 226,245 307,204 280,259 239,218 234,243 235,341 215,217 275,223 171,271 251,220 253,209 251,331 288,223 184,309 318,239 140,264 109,244 113,238 167,246 310,230 133,235 297,211 210,343 166,227 253,261 139,273 228,336 137,231 276,245 197,240 275,244 257,230 299,214 265,262 233,261 111,229 184,200 171,265 325,240 108,259 129,206 189,258 184,200 172,293 189,221 128,246 291,295 292,277 136,254 236,237 181,311 213,230 267,241 177,302 192,331 310,204 147,280 133,229 309,228 190,253 303,273 281,279 298,291 290,241 257,318 136,265 193,306 168,303 219,247 242,304 178,253 245,309 301,277 233,338 282,270 105,215 249,252 280,300 163,259 272,295 228,320 247,244 325,243 110,251 105,250 156,256 176,232 267,240 280,242 269,323 178,219 231,263 231,216 299,263 232,343 313,223 304,267 251,307 304,252 262,254 206,231 219,254 307,259 325,250 220,343 158,227 280,263 282,261 224,202 327,228 265,305 152,235 298,254 211,229 111,260 117,227 249,250 256,307 127,255 232,213 197,315 112,250 132,245 115,252 263,303 252,315 128,235 175,285 112,260 253,263 299,238 136,259 275,250 184,320 318,225 294,238 140,241 221,251 193,264 146,221 186,230 201,324 152,236 134,273 190,248 211,240 227,220 218,337 315,266 282,289 193,195 308,213 303,279 263,318 247,308 185,256 194,243 154,254 286,234 107,233 154,257 204,329 171,240 237,202 166,219 154,274 237,242 262,259 150,279 238,237 129,272 109,230 256,231 234,252 118,230 224,229 189,235 246,329 292,213 313,231 171,287 235,243 164,209 225,231 247,214 195,248 257,238 297,263 244,227 195,227 246,222 132,250 270,293 174,253 175,306 249,267 166,300 249,322 170,217 309,224 271,292 108,267 284,287 148,254 270,263 134,235 137,250 220,214 267,300 198,317 152,250 130,271 266,257 209,220 134,173 238,250 164,249 114,246 257,328 115,242 207,234 196,332 137,256 263,260 232,333 310,284 183,247 328,274 174,240 320,245 134,253 323,234 317,236 177,232 269,323 321,251 214,257 212,325 139,270 104,237 149,257 202,245 164,227 127,237 149,231 259,258 200,238 122,217 292,277 164,249 234,159 186,305 284,210 277,241 143,252 308,214 258,307 273,222 176,293 245,209 148,280 224,234 203,254 323,250 292,223 121,249 293,243 279,308 114,237 327,235 265,302 294,247 265,288 111,258 299,270 321,244 239,226 148,259 113,201 248,326 313,248 324,229 119,267 242,336 133,228 243,264 327,247 198,309 246,245 135,244 126,244 259,244 222,341 139,256 317,238 212,320 227,348 270,316 181,262 264,281 110,249 319,235 306,245 190,315 208,330 259,302 215,319 240,255 181,214 104,236 189,247 221,208 287,211 166,235 318,234 206,331 148,220 311,262 293,284 261,252 246,339 292,244 159,229 236,338 108,248 311,255 116,245 144,240 245,331 286,231 202,308 296,260 113,218 118,263 217,332 181,301 270,298 273,272 283,260 283,308 175,253 159,219 160,290 204,331 141,226 312,215 183,310 309,218 186,209 328,248 197,236 304,236 275,321 158,262 300,212 209,331 201,225 140,259 327,248 114,231 306,257 184,303 314,242 295,232 241,255 255,251 121,231 143,253 110,244 133,268 246,254 194,305 291,235 207,231 139,267 112,234 143,269 269,289 138,245 170,271 207,330 223,254 183,213 205,230 244,236 112,246 175,261 133,223 157,233 309,243 123,276 318,221 269,290 118,235 218,340 133,232 110,228 155,277 143,234 174,234 162,228 271,242 191,246 149,254 220,332 238,250 183,199 315,288 205,313 248,231 292,257 183,247 232,233 148,253 163,254 258,243 201,210 190,251 199,313 104,240 107,240 214,223 239,340 272,308 189,298 198,202 195,326 228,332 126,214 116,217 188,256 250,329 114,240 311,256 316,276 177,196 275,273 316,260 145,256 268,262 301,255 186,259 221,247 313,237 246,247 323,270 225,334 148,245 222,252 189,215 306,283 242,338 103,260 114,224 321,240 168,224 160,265 131,256 162,254 106,262 138,214 127,262 287,266 174,318 291,282 178,306 150,268 178,302 315,222 304,258 167,261 282,245 241,251 122,234 288,270 187,257 180,247 305,230 179,293 215,261 299,211 312,234 256,319 152,250 279,250 161,252 189,242 259,242 104,255 154,249 128,265 140,259 293,259 288,256 144,240 276,259 291,249 190,217 267,259 306,257 304,261 140,245 133,256 173,240 205,258 213,262 226,347 304,244 281,295 180,262 272,257 238,264 225,240 208,337 315,262 110,241 149,222 306,264 131,221 162,256 280,279 174,288 234,331 131,214 125,204 288,219 250,256 230,331 225,244 202,236 226,261 206,222 307,263 174,241 255,284 214,259 169,261 227,330 298,268 252,318 228,321 237,196 196,261 142,242 288,297 217,237 293,248 316,242 266,312 323,226 266,306 231,349 273,219 161,252 228,232 210,237 316,238 209,250 257,243 138,209 182,257 250,242 246,204 146,213 207,340 202,247 201,220 250,258 292,222 162,212 326,262 143,227 154,238 159,206 315,234 229,220 257,248 174,226 188,309 184,249 204,234 311,250 272,247 193,258 129,243 217,207 164,238 151,197 224,247 196,322 157,254 105,277 262,238 227,345 124,239 113,234 257,320 312,275 212,220 149,283 321,253 192,312 253,311 248,215 294,240 281,246 221,331 197,312 243,247 191,260 209,312 224,241 223,340 214,322 245,259 204,332 194,250 304,279 297,248 209,214 250,304 232,240 211,329 203,228 145,255 208,215 233,246 304,250 299,223 284,278 248,250 324,240 150,226 256,322 148,238 168,296 234,211 181,231 278,258 249,251 119,244 254,256 148,237 313,253 274,225 322,237 174,246 148,275 123,267 186,235 210,322 235,334 223,230 253,256 198,265 290,226 304,251 279,299 218,265 316,229 322,258 137,236 205,262 116,257 301,213 287,270 201,222 222,221 293,223 213,229 317,217 191,303 186,300 135,253 176,245 201,307 242,247 169,283 219,333 209,327 196,253 119,238 287,293 185,307 234,234 171,218 259,202 324,228 185,243 299,250 284,274 190,240 161,239 303,242 217,223 263,233 123,270 200,328 191,244 293,240 135,273 111,225 190,218 148,248 234,251 251,248 163,288 118,254 121,251 229,313 308,240 206,244 301,262 148,200 294,223 223,237 242,227 141,246 301,206 105,262 181,248 132,278 312,287 114,254 130,276 140,249 165,270 205,247 164,232 160,292 151,234 292,243 159,257 268,235 259,315 218,348 276,304 150,250 271,282 317,250 134,246 212,324 229,331 310,232 120,281 149,223 158,283 131,232 137,263 237,331 229,332 149,265 176,250 315,223 193,313 276,211 141,250 128,220 282,247 327,226 166,231 250,318 160,228 244,221 164,232 126,207 201,320 150,276 112,248 314,241 166,242 256,216 135,236 120,236 225,330 232,235 144,252 305,255 271,216 193,256 280,242 314,242 261,284 229,261 284,250 328,211 203,313 283,267 328,256 284,263 298,234 312,280 226,340 319,204 273,207 249,248 142,288 288,236 240,337 207,260 311,239 131,272 152,258 186,220 180,248 239,334 276,287 111,241 109,229 210,332 166,229 323,242 180,303 220,207 215,230 114,236 182,215 255,224 324,266 189,252 116,226 261,237 109,244 324,257 148,272 199,215 242,336 128,253 279,232 282,254 282,220 135,233 145,257 251,261 238,226 169,290 207,342 280,238 107,257 212,226 183,307 270,199 113,261 186,291 199,250 238,313 106,250 310,249 276,251 251,250 187,224 244,234 182,291 286,279 172,289 133,230 188,307 269,317 304,245 299,226 279,296 292,254 256,234 309,237 203,230 268,280 216,244 270,244 176,230 197,233 302,244 182,248 129,250 235,328 144,245 107,258 110,240 163,237 197,221 224,355 206,242 255,230 213,333 142,225 119,252 244,270 247,314 174,223 205,255 209,339 132,250 166,231 198,243 290,211 242,310 290,232 286,256 171,263 298,222 127,253 197,322 236,326 267,295 195,313 187,237 132,236 247,324 218,240 151,244 316,266 181,210 167,228 292,266 217,338 211,221 323,225 296,248 311,230 168,243 181,221 163,245 195,216 207,226 325,247 107,232 282,234 325,204 138,214 298,246 197,236 307,264 195,208 159,234 152,245 119,201 314,223 297,267 157,254 199,230 149,252 223,249 172,240 216,218 174,235 264,262 213,232 275,282 229,250 188,226 327,206 252,294 280,259 224,331 131,240 251,236 289,283 303,239 223,246 120,246 259,282 274,219 205,334 159,258 192,223 214,250 296,284 107,265 286,222 146,287 297,262 245,313 321,244 302,271 103,256 112,224 301,231 201,219 232,252 213,210 128,228 215,338 194,314 107,220 280,234 316,285 120,243 296,214 250,232 284,223 322,235 113,220 327,211 316,258 107,221 296,260 297,255 226,235 218,215 266,211 150,265 228,341 139,260 277,258 212,264 238,320 135,215 235,238 118,241 239,271 255,261 116,222 322,226 315,232 188,314 209,340 260,245 209,329 127,268 290,220 149,280 317,241 315,230 204,330 241,225 128,255 230,231 234,236 130,260 185,243 297,258 219,337 291,241 124,270 149,244 194,306 146,273 119,238 257,199 261,247 278,299 308,245 166,302 230,262 158,278 270,299 303,206 184,262 134,235 151,217 274,267 226,226 204,217 167,255 315,223 130,252 180,260 173,242 223,235 141,251 183,220 248,242 197,322 161,292 313,252 233,338 273,294 315,275 248,295 190,237 201,249 209,255 217,232 177,315 324,238 259,235 302,229 327,245 172,187 138,220 237,328 204,332 283,237 117,204 116,250 115,258 285,247 306,230 135,234 279,280 213,326 185,237 253,302 131,217 278,228 202,238 151,235 299,223 249,240 214,226 151,234 108,269 136,272 227,231 270,237 119,253 263,315 149,268 225,340 301,267 297,249 237,329 181,226 150,243 204,252 211,242 230,245 216,329 235,261 117,228 163,234 257,316 321,271 189,229 275,225 252,222 302,218 149,265 151,262 286,267 326,261 312,273 176,294 225,260 142,255 268,323 201,199 191,250 147,247 298,252 294,251 218,258 317,237 160,276 182,252 200,227 182,308 256,241 288,294 256,309 200,249 312,281 136,254 327,242 154,289 254,317 134,280 205,335 186,248 301,230 155,267 226,329 302,227 163,294 218,226 194,264 303,238 278,297 274,283 146,223 292,262 285,250 158,258 203,241 146,293 216,340 326,217 182,317 231,332 108,212 122,247 194,243 104,245 207,327 309,231 198,249 254,316 198,236 281,216 142,207 280,264 131,250 202,325 253,251 328,248 240,328 146,282 311,255 134,250 189,248 147,233 230,238 288,262 175,286 317,224 192,317 200,251 292,257 309,221 245,244 154,238 265,284 139,208 220,252 189,210 267,232 317,235 286,257 244,318 174,272 236,221 117,261 113,206 302,228 307,235 224,239 275,251 230,328 227,356 192,314 244,261 246,229 211,258 161,255 301,233 291,272 318,248 134,240 228,354 314,225 225,218 239,238 143,288 261,308 120,234 126,237 144,233 138,275 147,262 315,236 160,228 198,238 273,218 322,242 290,222 202,220 271,299 281,242 170,218 124,205 313,220 144,241 243,232 122,223 123,235 272,312 317,247 271,243 112,259 147,248 172,263 179,299 264,290 184,236 187,226 284,253 315,260 286,264 299,300 327,236 286,242 276,253 223,335 303,259 199,247 147,216 256,239 161,243 239,231 114,237 325,271 264,299 323,276 316,236 257,229 207,341 290,282 196,248 210,321 168,267 229,322 222,343 327,255 218,340 157,245 242,233 131,245 250,310 307,272 290,295 318,230 307,258 212,249 215,341 211,327 160,253 161,300 251,251 279,246 283,252 241,236 230,323 195,312 238,237 299,235 148,217 222,339 292,253 275,206 284,307 328,216 318,263 282,212 175,274 243,242 112,214 311,280 126,229 310,233 209,313 199,308 142,185 245,252 168,242 135,255 229,341 218,257 129,233 267,217 228,265 188,210 209,320 259,213 186,215 302,233 144,262 187,285 119,211 179,219 153,248 313,237 250,322 109,252 133,258 231,336 304,227 277,238 276,271 283,286 255,310 223,223 209,237 125,247 172,226 181,268 201,318 235,326 304,263 221,235 152,283 181,300 221,218 193,234 298,252 114,261 189,216 160,269 130,249 156,270 275,265 170,287 208,226 106,259 150,258 147,271 189,241 291,241 255,242 206,256 305,230 119,250 135,263 201,265 217,239 126,235 154,264 195,300 137,238 134,267 249,322 298,245 251,237 202,213 136,209 324,247 153,255 164,263 307,237 223,262 212,209 307,236 121,236 182,249 197,236 272,288 251,249 298,208 206,250 321,218 316,233 169,245 162,233 121,230 287,279 106,236 270,279 141,204 256,225 280,258 284,310 119,221 219,239 197,250 138,268 185,257 224,261 180,224 327,236 326,238 126,232 233,228 125,271 311,261 226,246 289,269 219,254 270,302 276,244 226,341 314,272 275,263 297,269 133,219 288,239 315,260 110,238 148,241 289,248 224,258 324,255 121,239 299,236 256,256 233,242 255,251 187,259 134,250 282,215 221,261 131,212 250,259 142,256 318,275 227,213 195,226 321,267 140,245 135,268 166,270 202,241 302,267 287,263 323,246 291,230 118,251 118,253 274,247 237,234 274,219 138,238 110,252 249,242 276,282 186,280 250,238 197,227 110,257 327,269 280,242 152,213 305,223 316,249 270,305 171,247 235,260 121,264 200,199 258,252 273,251 309,230 313,257 218,233 155,292 245,243 116,270 199,240 299,209 200,322 218,246 250,312 133,248 183,218 127,250 108,251 128,235 304,251 316,285 233,313 108,249 256,222 226,343 269,232 257,331 178,249 304,252 328,251 218,331 274,235 142,290 110,256 323,261 113,261 110,242 270,274 105,225 263,247 240,237 301,262 184,325 323,238 259,238 146,262 120,261 122,215 150,243 108,253 263,253 215,240 129,252 166,244 142,255 107,250 178,275 220,332 208,226 270,249 220,199 276,308 121,251 170,304 172,290 292,225 270,205 215,314 131,208 317,207 157,230 156,265 170,236 286,221 234,201 315,213 264,215 130,263 243,316 123,238 263,228 149,258 141,241 214,248 258,256 322,241 192,210 142,217 292,271 197,243 195,264 167,281 271,292 250,251 103,262 146,265 235,236 252,316 244,238 133,264 223,233 177,249 148,271 203,217 250,311 294,265 108,261 148,244 303,261 304,259 225,235 175,242 165,219 175,252 267,264 286,220 278,269 193,306 328,207 201,304 267,247 201,331 274,268 239,332 310,258 133,261 121,272 136,269 127,228 105,253 248,236 265,216 243,229 269,260 226,350 251,206 290,230 162,266 116,238 278,278 167,250 272,304 314,238 288,223 179,238 294,251 216,222 130,205 150,216 294,230 244,245 281,233 128,245 117,226 244,241 193,244 190,254 239,227 164,209 270,290 268,295 249,249 233,248 216,215 280,233 256,312 108,254 116,264 199,232 223,340 150,220 299,272 203,255 277,290 199,240 189,307 168,237 146,232 208,222 274,230 145,254 277,259 309,254 320,239 295,282 125,269 156,271 191,245 315,258 234,314 315,252 197,320 314,241 137,236 165,276 151,226 312,225 226,346 278,287 315,247 145,232 213,259 171,305 292,222 303,251 243,315 230,201 189,313 151,280 147,253 171,168 255,228 215,262 202,251 205,226 316,245 160,236 157,234 117,275 279,263 218,347 135,262 129,245 319,220 189,254 138,257 275,297 159,240 316,241 283,225 130,230 230,246 215,337 203,201 294,269 309,241 201,320 121,254 193,207 292,232 327,206 240,233 166,288 248,230 124,265 156,246 305,277 211,233 250,261 294,224 204,263 110,229 195,304 180,240 145,217 150,258 248,334 124,226 186,243 217,345 252,243 210,332 168,238 208,207 302,249 111,213 136,233 221,341 150,213 148,208 260,242 249,266 306,260 303,229 290,287 183,233 207,244 270,214 257,234 148,253 326,233 133,221 191,302 299,214 178,199 151,283 166,261 232,236 250,306 125,251 223,257 317,269 260,331 213,328 285,268 133,255 221,225 144,276 192,318 237,333 196,239 128,238 159,234 269,284 220,326 251,306 266,284 222,238 227,249 108,257 202,315 199,240 110,205 192,249 274,234 240,210 260,240 143,257 303,241 124,269 311,236 254,312 122,233 168,296 130,240 180,228 263,230 296,243 264,226 198,227 153,218 291,246 118,257 149,242 311,223 139,255 153,260 197,311 216,232 244,318 175,249 255,306 177,247 131,234 296,275 286,258 293,242 274,303 315,228 154,276 183,242 263,256 148,272 233,224 104,227 300,246 190,315 286,301 200,326 297,249 183,323 259,268 300,277 121,267 322,239 269,241 205,233 212,231 316,236 274,249 301,231 259,240 213,243 328,249 313,230 201,217 238,236 191,261 177,225 320,228 106,225 133,279 155,227 222,235 264,242 275,214 114,219 287,225 192,239 244,257 159,264 166,238 292,241 127,255 116,250 211,255 191,259 267,226 281,230 131,240 117,237 188,303 273,246 288,240 156,228 296,226 231,248 224,330 122,250 150,296 224,224 187,220 269,239 262,261 278,241 116,249 234,257 310,254 156,217 220,252 204,246 326,252 171,293 246,236 147,224 221,209 214,334 226,342 181,302 141,219 187,250 264,293 265,214 238,208 297,218 196,298 131,239 113,263 199,302 262,246 273,215 116,245 288,216 242,234 321,210 229,245 155,217 317,265 222,252 212,320 109,252 272,314 301,235 276,252 164,243 215,242 232,340 161,258 245,232 157,253 190,254 304,248 285,209 243,245 303,232 176,293 294,259 311,263 112,233 313,241 200,317 137,256 161,220 318,239 184,256 233,326 263,316 274,243 157,253 150,287 189,216 174,283 263,304 262,225 321,232 111,238 171,230 236,245 192,297 106,262 253,324 270,286 145,241 273,248 141,261 261,307 129,210 173,240 191,257 245,330 117,242 303,248 246,259 216,221 205,332 217,241 106,268 310,261 251,261 270,247 186,220 263,230 218,334 163,262 168,291 107,243 260,257 297,238 149,233 177,244 124,262 138,266 148,232 262,313 205,239 292,283 255,309 235,320 224,336 262,253 260,250 139,225 310,208 173,219 261,290 154,279 290,255 323,222 119,236 189,314 307,253 278,254 238,234 272,290 105,281 168,289 292,239 283,214 278,285 193,258 201,323 121,224 240,229 183,205 128,259 305,222 113,246 255,305 205,345 144,226 264,290 304,242 175,243 149,235 305,246 206,250 139,228 159,298 116,237 124,204 241,317 275,255 131,235 178,209 285,207 255,230 217,250 263,229 160,305 183,240 230,228 167,224 137,301 167,252 160,305 179,259 295,259 285,236 226,227 143,244 212,324 321,261 328,238 311,245 269,301 205,261 183,248 290,248 106,239 238,211 224,337 220,244 141,280 114,217 310,255 299,257 264,230 215,225 268,237 226,226 172,284 142,201 131,242 320,219 116,234 114,223 124,241 204,321 256,215 149,212 166,298 143,269 316,233 169,304 137,241 150,284 143,230 303,227 149,263 316,236 114,242 142,247 294,273 118,263 322,249 212,343 211,330 141,229 117,266 245,303 295,258 222,234 208,323 321,243 224,242 120,234 256,234 256,214 216,256 267,309 214,249 124,210 160,230 265,298 294,264 121,237 261,306 265,306 176,304 316,263 277,280 262,318 160,236 163,238 292,237 274,184 182,312 155,265 181,305 167,239 312,234 111,248 318,237 139,248 291,216 155,276 159,296 242,244 185,253 310,227 245,245 201,227 161,291 170,305 307,247 170,287 109,246 187,209 147,246 113,234 304,229 179,242 222,348 256,247 191,230 144,233 192,256 224,261 238,232 128,269 280,247 296,278 274,259 297,209 319,237 223,228 188,233 166,262 295,262 200,257 207,308 323,225 240,314 177,239 287,233 232,326 259,228 235,330 264,301 297,224 162,264 262,245 139,269 166,226 132,225 171,263 300,243 124,255 108,267 293,262 303,239 162,237 231,335 260,304 268,220 255,310 162,297 286,253 212,344 171,228 240,239 113,259 211,330 199,248 245,233 268,239 178,299 326,201 169,248 257,322 146,233 190,216 320,245 303,199 140,278 207,238 168,260 129,246 262,258 152,206 239,335 116,229 312,253 238,217 193,236 315,231 316,268 160,266 144,255 110,256 240,311 266,283 230,337 190,232 319,243 143,262 199,241 266,229 245,260 236,333 258,296 282,229 217,344 220,242 306,224 185,241 275,219 195,244 136,236 203,253 203,233 308,241 143,226 181,242 137,253 164,247 225,340 141,266 315,207 283,265 315,243 112,228 197,239 105,252 182,312 198,320 108,230 148,250 273,306 245,242 184,243 111,266 207,205 201,237 199,325 296,280 112,235 251,303 129,257 325,236 202,220 143,242 196,303 227,217 237,234 239,261 323,251 305,259 153,265 119,229 327,262 225,254 212,260 211,232 315,248 247,324 312,235 139,263 117,223 267,244 170,212 280,273 106,224 219,346 121,255 117,260 254,214 145,279 228,249 202,325 119,235 127,253 228,354 300,251 284,205 215,265 202,243 294,266 173,237 267,251 157,285 240,255 220,212 305,215 183,233 298,288 233,266 279,260 158,262 155,273 308,246 296,253 193,320 322,220 258,214 293,255 242,245 191,304 288,244 236,253 155,242 294,213 310,238 216,311 143,256 264,317 141,264 206,255 215,233 191,257 316,248 145,252 114,216 115,247 187,232 201,219 293,281 251,238 225,334 284,271 310,256 242,192 109,251 281,262 310,290 160,298 117,237 262,310 248,245 150,232 261,246 266,228 311,202 168,242 179,218 319,238 247,320 304,259 116,217 269,200 327,230 139,261 167,202 178,261 318,205 311,234 119,221 122,240 249,236 318,274 177,305 186,313 180,302 301,237 175,227 224,349 133,228 245,263 317,230 152,230 220,261 297,227 288,270 234,324 173,306 142,278 173,280 168,276 230,235 247,311 275,256 152,270 212,334 237,228 290,281 240,233 305,255 271,228 236,330 175,322 309,247 319,221 113,242 182,295 173,266 161,285 319,242 195,323 181,248 235,328 263,301 157,224 311,255 301,255 268,303 285,256 203,255 304,257 144,236 125,251 171,291 141,246 277,237 299,266 164,215 274,288 260,323 168,242 106,250 278,292 265,313 151,231 167,267 116,230 237,244 196,216 264,228 154,210 304,275 209,253 161,258 263,317 195,228 131,237 144,189 237,231 328,249 178,210 135,269 273,298 258,307 191,322 176,218 138,256 148,280 269,300 285,237 190,236 298,226 144,235 104,224 220,253 190,306 154,260 293,274 125,248 196,306 270,299 234,339 257,254 107,247 179,217 285,275 109,245 261,237 239,235 239,249 133,266 184,297 154,251 292,210 126,258 227,341 209,335 251,265 164,294 132,233 279,293 220,231 221,253 143,208 160,286 221,235 310,270 150,211 195,258 130,274 148,263 164,237 178,217 193,224 142,259 143,255 298,262 108,260 268,218 275,218 255,324 129,225 251,220 147,272 209,335 206,200 126,259 178,237 180,311 250,331 126,251 264,312 139,213 276,256 113,260 326,264 291,272 168,307 224,220 182,310 134,254 285,248 321,277 251,323 211,262 312,240 275,252 299,265 306,264 227,327 141,270 187,244 308,273 155,257 185,303 296,270 134,230 140,271 156,234 267,303 264,225 191,235 222,229 154,215 304,223 190,221 294,235 280,222 115,236 298,251 237,320 138,209 178,298 156,229 157,245 275,291 245,323 286,237 146,280 280,237 179,229 316,222 236,347 307,261 237,321 257,206 167,289 138,265 120,228 228,253 160,276 237,240 289,237 311,244 250,230 317,249 135,255 153,246 213,232 123,259 159,285 322,248 189,215 130,235 117,241 225,256 298,298 118,259 139,246 275,258 140,225 299,293 212,241 264,233 110,261 196,332 298,216 144,254 290,255 229,329 263,304 165,225 215,240 295,266 325,226 323,230 151,236 213,232 218,335 152,259 260,241 255,321 121,276 212,250 293,259 269,226 234,330 178,236 315,265 239,322 268,233 324,247 257,315 177,302 296,229 204,226 270,242 190,247 300,250 166,289 313,244 165,277 317,238 259,243 300,246 125,244 312,231 232,233 264,254 114,246 183,311 230,331 202,259 297,238 318,234 326,263 273,274 243,306 119,235 189,259 125,259 286,233 316,234 109,227 206,220 205,222 230,227 268,211 170,292 260,297 178,245 208,315 172,302 214,268 260,250 266,265 110,251 225,337 235,342 160,276 326,253 296,296 262,228 248,339 258,317 118,263 127,256 275,234 122,241 302,233 217,257 108,260 317,258 126,249 159,225 323,246 314,260 250,319 131,228 275,251 318,263 119,243 130,274 222,346 249,310 104,248 237,258 129,218 139,250 131,253 192,318 226,202 181,264 301,220 116,262 245,219 270,310 266,311 160,281 227,231 283,253 316,214 164,240 111,255 135,246 326,241 155,221 177,289 309,254 185,252 224,259 280,304 123,260 172,252 140,261 165,224 222,247 150,248 275,298 261,261 278,286 281,255 187,247 228,246 262,306 214,260 106,277 305,244 152,245 233,265 303,216 210,225 327,216 249,230 113,232 161,219 172,313 271,310 256,313 231,245 311,270 319,276 241,328 302,240 305,241 235,262 139,269 314,240 235,251 175,253 163,253 243,259 265,205 205,220 126,273 148,269 126,248 317,263 220,259 278,245 274,221 157,221 321,266 143,260 195,246 280,264 308,267 155,217 136,242 256,210 259,310 147,266 139,260 323,217 235,243 303,268 267,323 113,247 160,268 235,243 151,243 240,237 170,244 315,209 183,311 264,248 199,230 294,218 308,273 209,217 290,269 134,239 206,324 319,252 304,240 279,283 286,271 211,335 109,257 283,260 263,249 311,282 159,251 130,233 266,227 308,286 233,345 174,249 250,295 265,237 217,233 174,258 173,279 228,206 124,252 317,255 324,276 243,321 312,222 188,212 227,347 323,238 139,284 282,211 261,298 294,247 222,321 292,275 114,256 197,242 175,293 251,252 213,338 216,239 226,243 248,241 104,229 107,248 198,244 126,263 298,235 183,298 229,343 230,323 185,249 156,202 293,249 312,245 191,322 190,321 166,291 159,291 115,254 227,254 285,286 154,207 282,266 196,225 109,236 118,238 142,245 147,270 217,336 285,254 164,257 278,290 119,258 104,208 305,253 217,346 167,262 172,279 135,229 266,222 242,262 184,223 243,237 180,232 244,239 223,224 301,232 112,231 318,238 178,299 276,242 319,221 318,242 262,238 210,215 303,248 163,302 255,239 323,250 304,257 240,282 264,323 181,277 291,249 223,240 268,273 291,273 110,239 311,230 261,237 132,239 191,216 272,291 237,245 288,278 210,240 276,286 208,215 120,258 239,213 139,255 172,298 185,304 142,267 257,319 208,217 248,236 243,224 106,234 305,296 125,245 293,257 283,286 223,347 185,211 177,235 221,261 183,257 297,291 269,267 158,252 174,238 226,246 250,331 184,223 201,232 249,243 132,272 260,311 103,255 218,348 289,212 197,219 143,249 284,293 149,294 162,297 239,319 105,246 269,240 218,327 297,250 319,234 282,264 228,236 167,212 249,243 235,225 319,256 248,241 295,207 127,269 200,312 150,259 241,223 121,272 300,245 287,239 253,227 192,310 120,241 293,273 159,212 254,243 259,293 143,250 166,228 257,253 291,278 201,322 219,216 248,262 208,334 314,261 114,214 242,342 185,215 295,231 141,207 218,244 233,325 252,259 200,325 328,236 315,234 130,250 322,240 158,243 108,223 186,251 112,236 326,237 218,341 262,228 237,325 201,207 176,306 182,288 302,236 105,238 112,250 179,262 171,297 176,223 260,211 224,232 141,232 287,266 294,231 228,338 218,243 302,275 116,229 294,229 160,234 181,257 174,256 320,256 239,335 230,216 294,291 121,245 323,255 155,229 323,252 255,264 297,225 132,260 176,309 190,224 259,226 253,258 207,237 109,256 106,248 252,327 324,225 225,253 156,238 281,246 239,256 173,246 322,250 125,262 122,246 182,312 318,256 305,234 120,235 264,256 171,315 317,258 116,204 296,216 124,222 310,228 121,242 230,218 137,254 245,216 288,257 209,254 156,281 258,223 228,256 279,251 178,296 326,261 125,274 228,231 273,264 288,216 208,245 103,257 109,251 130,230 118,231 134,243 173,259 280,256 145,240 131,259 200,333 238,222 242,328 129,253 183,219 137,254 310,263 298,227 164,236 219,330 148,238 324,265 245,223 127,241 119,210 192,233 283,255 231,271 133,242 246,204 324,248 133,213 312,270 214,258 232,234 302,238 187,236 262,301 235,260 152,240 158,235 309,216 231,241 324,239 315,201 284,219 325,248 140,250 272,242 234,229 243,341 235,249 133,243 180,236 105,259 134,241 316,214 322,254 275,291 228,234 256,260 315,223 264,246 132,216 318,237 269,237 181,310 137,265 179,205 199,227 249,243 238,228 177,216 118,247 222,240 231,263 170,251 220,340 310,254 106,235 116,256 324,252 306,265 198,315 136,268 134,257 133,237 306,253 287,251 253,303 226,224 136,262 268,254 145,242 164,300 163,168 227,335 132,252 121,250 195,228 246,215 261,287 172,296 261,291 248,315 145,252 136,249 301,236 227,226 321,245 164,309 172,254 319,242 184,321 220,338 211,341 265,181 251,270 128,249 194,258 208,314 162,231 196,196 312,251 163,272 232,333 136,236 303,266 249,254 298,247 310,271 244,328 109,183 285,224 263,295 297,253 190,305 284,265 227,228 140,237 189,319 122,230 162,295 240,255 158,229 206,250 253,257 213,326 278,264 299,243 310,258 105,249 114,254 243,316 182,258 290,261 225,341 273,275 132,264 247,325 304,253 256,203 226,231 282,279 224,336 304,223 125,256 182,214 287,243 316,244 304,274 148,231 303,263 168,237 126,222 195,328 106,236 201,316 239,238 214,239 228,242 322,263 238,329 281,256 189,223 201,254 104,221 122,253 222,228 132,236 187,245 260,218 169,233 178,206 151,219 127,258 233,316 204,254 234,243 160,275 240,234 160,229 246,332 109,242 299,255 136,238 317,233 219,252 324,236 167,220 119,259 262,255 147,253 234,239 158,257 293,262 156,278 236,250 281,237 302,264 220,234 233,344 121,236 144,243 192,252 216,227 314,244 303,265 150,231 228,234 296,255 286,255 156,251 204,228 308,238 249,249 228,242 138,256 256,319 156,297 199,249 217,346 281,290 223,234 183,228 273,287 214,234 278,232 113,251 296,250 134,256 285,257 287,248 194,304 272,231 301,269 108,246 302,245 110,215 197,320 139,290 250,323 119,221 185,315 316,219 240,324 161,225 266,249 306,257 311,260 114,234 307,202 140,275 134,219 237,234 146,241 229,337 191,254 266,237 230,329 155,233 309,265 220,236 116,218 254,221 227,215 257,260 211,342 315,227 150,208 183,249 317,257 222,255 202,239 299,276 225,230 160,295 207,212 249,233 199,305 136,259 141,229 103,245 269,236 198,307 156,231 125,252 233,346 187,317 179,245 256,258 206,320 152,214 291,201 134,233 223,322 282,306 104,246 239,340 120,256 238,240 156,234 234,343 308,210 172,294 169,228 204,321 248,219 302,260 239,310 289,269 190,300 315,246 299,232 295,254 143,232 320,255 210,229 185,300 249,307 159,244 178,293 314,209 271,308 246,337 107,254 143,271 267,288 312,224 249,261 109,244 251,314 130,256 189,206 148,260 206,323 117,218 155,251 222,197 284,230 225,269 199,327 196,237 304,248 121,260 242,258 243,241 198,238 129,280 280,241 258,251 210,313 173,286 113,201 230,346 244,246 209,335 276,205 265,287 151,256 149,234 164,253 210,313 124,268 226,213 133,250 203,326 202,193 311,245 170,311 113,215 323,259 286,245 130,272 285,256 143,238 306,247 187,234 143,254 313,259 216,251 305,264 249,253 207,218 237,240 137,240 115,238 254,249 110,228 104,220 135,231 211,343 144,235 304,230 269,238 164,229 143,254 260,325 114,251 215,253 234,345 121,253 285,211 254,252 143,258 303,230 274,220 136,237 147,231 282,284 167,231 137,226 257,233 151,237 175,244 180,214 250,334 173,205 138,226 197,252 151,206 220,233 232,242 311,238 203,240 325,265 293,250 231,333 113,260 220,254 158,226 212,255 293,257 166,202 150,232 289,277 261,206 200,318 268,289 294,294 291,241 281,300 107,227 305,291 177,258 213,256 280,239 231,337 267,257 326,219 150,250 150,231 141,282 163,291 299,270 215,334 271,299 244,261 191,254 188,286 225,346 158,280 105,259 235,342 250,338 298,263 252,221 312,284 286,217 245,248 247,234 296,232 234,337 108,257 198,237 223,324 201,305 214,249 215,210 224,225 267,253 185,222 214,229 144,204 260,235 144,265 216,332 313,249 302,219 271,206 111,265 223,261 193,296 148,246 280,222 234,324 258,239 172,280 229,331 154,280 310,257 122,232 169,282 244,260 203,243 173,289 240,324 138,248 272,308 179,235 164,228 147,259 297,258 139,217 277,245 244,259 154,227 261,238 252,243 173,247 179,237 291,240 203,231 211,225 292,246 232,239 169,282 157,241 242,205 253,252 220,335 137,262 257,254 108,236 226,255 275,227 277,236 269,248 233,324 308,271 241,321 241,254 295,240 280,216 113,242 202,201 206,332 327,211 275,257 250,229 136,255 279,247 205,319 159,224 277,258 260,251 145,265 234,188 306,270 208,341 134,224 115,244 251,254 232,241 286,247 313,246 148,257 221,223 126,253 130,242 143,247 194,304 220,236 280,250 121,226 293,244 155,262 265,327 302,210 133,237 308,226 321,269 302,234 209,221 258,296 155,225 119,247 119,250 168,244 244,233 167,309 238,228 130,258 234,225 303,214 208,261 255,264 146,225 318,221 227,237 191,298 232,233 176,313 250,320 139,261 212,223 161,237 232,243 304,294 133,259 169,276 220,336 178,255 125,227 279,237 109,206 269,257 188,270 147,235 273,303 234,209 220,221 146,268 135,257 143,234 221,253 111,247 141,260 164,233 238,330 189,253 235,200 284,233 245,327 244,335 190,215 235,326 148,235 269,240 173,309 161,224 178,225 107,228 232,264 168,296 327,242 290,242 319,236 123,274 127,238 204,330 213,235 152,299 295,244 183,250 165,305 292,255 281,275 125,240 290,204 194,318 218,258 186,240 226,258 259,247 241,258 229,256 290,274 131,210 266,278 317,230 216,241 308,270 140,219 148,288 310,242 285,218 260,213 327,253 109,265 284,284 224,327 281,267 245,251 267,217 312,264 187,248 170,265 306,214 255,328 313,211 216,341 215,211 212,246 270,231 260,260 253,240 154,243 152,263 312,227 236,246 160,249 126,258 192,212 140,224 278,295 125,266 267,221 123,245 184,306 289,243 107,265 149,272 129,240 235,251 145,231 169,275 187,309 117,265 138,222 169,294 324,225 193,316 255,255 189,296 312,238 107,238 159,290 315,257 201,236 112,286 154,214 199,253 205,319 225,215 252,320 156,263 154,235 170,267 135,249 245,210 314,263 179,258 244,329 301,252 160,258 195,251 104,227 192,259 308,242 208,316 190,227 289,256 286,209 169,262 121,231 171,255 267,249 315,219 196,245 158,221 118,257 119,250 280,207 187,306 216,217 220,346 146,254 122,259 261,300 304,262 133,236 125,250 128,240 302,261 201,232 117,241 217,249 174,293 170,208 204,253 220,349 300,241 215,341 234,336 301,231 216,233 254,254 203,226 186,312 272,256 268,241 200,252 217,192 189,263 117,241 159,241 209,337 199,230 154,237 169,280 199,254 260,259 327,220 276,267 285,184 266,282 246,230 233,248 185,298 191,228 246,335 139,251 302,209 103,233 189,310 318,254 271,261 273,285 257,216 294,248 218,334 124,241 164,275 214,263 172,303 172,254 187,329 298,239 262,293 206,260 280,209 311,231 292,224 174,254 152,256 216,260 204,329 230,338 182,246 198,330 285,216 325,233 315,239 252,231 176,303 287,263 196,221 152,237 287,210 139,249 179,251 226,339 203,327 222,247 185,231 322,261 214,324 293,219 257,235 161,279 271,287 129,244 209,343 322,259 143,230 166,293 263,252 264,218 238,317 134,232 308,250 208,326 140,244 192,270 273,222 163,220 144,228 140,243 242,318 269,242 103,218 203,254 200,323 109,198 192,189 214,334 229,341 235,220 147,242 205,234 320,246 273,302 250,246 228,230 199,224 168,282 280,308 326,256 117,252 315,222 309,263 302,268 321,266 110,228 323,279 113,246 134,233 222,342 308,276 300,282 254,241 175,255 274,245 145,186 182,229 202,316 259,312 305,251 320,249 215,210 289,290 299,234 197,246 171,242 159,273 205,325 279,261 225,347 206,323 303,226 150,239 211,251 266,236 180,244 311,248 130,253 225,261 193,253 248,225 241,218 188,309 151,240 276,310 122,226 130,254 119,228 312,257 297,256 193,256 160,267 226,255 168,265 280,237 274,260 328,251 150,276 213,224 324,244 300,204 223,228 290,300 138,240 183,306 197,323 214,333 167,226 255,327 141,259 260,232 274,253 104,230 149,223 149,220 209,233 133,219 196,249 219,329 189,235 188,317 152,254 116,247 149,232 273,302 158,240 324,249 169,267 137,253 266,300 126,234 258,262 162,251 210,232 167,255 302,227 278,291 174,202 324,226 166,241 278,228 106,259 313,255 207,238 168,295 186,250 133,268 220,343 188,247 135,226 195,205 166,246 106,237 264,275 130,239 235,334 103,239 270,299 185,211 242,254 134,206 250,317 175,258 205,246 248,246 233,224 242,218 110,235 289,230 146,256 149,262 125,252 251,206 252,251 181,221 226,238 313,218 109,240 199,224 222,220 223,337 326,254 301,232 151,260 235,333 133,232 231,258 145,264 282,240 294,254 109,211 137,241 141,288 180,239 165,299 258,234 157,286 148,222 158,232 167,264 139,252 237,253 322,226 210,320 223,337 253,188 209,220 260,241 324,249 113,226 218,269 293,282 133,254 277,254 273,256 122,245 162,234 164,287 311,258 301,276 190,326 165,257 122,266 314,279 163,252 212,341 303,248 328,251 243,233 248,210 261,307 265,304 121,230 230,208 124,242 318,246 118,241 266,238 188,298 127,262 242,321 157,229 323,220 186,216 150,250 157,202 107,242 216,248 283,239 241,240 318,235 181,239 243,223 138,228 188,310 181,240 162,285 314,251 302,254 261,225 231,257 108,241 293,217 251,313 321,244 162,300 317,216 110,235 286,265 236,238 273,291 220,344 253,214 176,251 201,215 138,243 173,307 283,258 247,260 130,249 312,223 152,280 317,253 156,234 206,238 212,262 316,228 182,261 211,317 160,254 308,279 175,217 203,218 195,320 185,253 318,247 207,235 167,244 264,266 133,224 225,342 161,257 113,263 307,255 146,223 202,329 184,306 157,217 212,342 173,233 146,249 154,250 309,265 114,225 158,268 193,248 313,263 150,256 130,260 207,218 210,247 237,339 318,237 147,255 125,253 248,312 129,249 224,215 105,252 281,309 240,255 269,252 111,240 137,224 267,323 171,248 262,234 172,242 281,262 184,250 104,251 174,262 234,266 142,244 208,223 144,248 107,230 326,227 242,214 268,218 250,249 139,268 221,218 326,246 264,260 273,259 197,268 316,232 243,261 235,200 126,260 285,292 153,232 221,343 127,257 295,241 119,205 224,250 187,257 252,327 143,279 276,301 251,290 186,240 142,252 212,226 123,204 191,218 186,311 282,214 219,242 226,228 219,324 104,216 112,241 151,219 133,254 272,241 305,251 307,229 219,224 139,242 270,195 220,264 308,227 191,314 114,261 220,212 213,338 293,264 122,251 168,243 182,246 238,253 164,210 301,275 142,231 241,250 305,228 233,249 234,241 207,314 260,241 137,279 163,242 112,232 119,234 123,250 199,311 167,264 194,314 139,229 165,258 183,215 148,237 130,250 240,237 272,272 267,210 214,221 152,246 160,298 167,253 257,241 152,222 290,251 226,263 296,218 277,264 247,243 249,310 208,225 296,235 137,260 257,295 160,242 311,246 214,241 188,267 234,314 247,330 178,252 139,227 220,213 168,248 134,265 156,199 284,273 327,221 138,234 148,251 122,218 300,220 246,207 231,211 175,277 197,245 262,295 158,299 285,246 227,349 141,236 148,255 309,223 217,224 113,224 215,215 143,268 277,261 196,229 231,342 197,330 278,224 309,267 121,248 273,255 231,229 253,305 286,263 166,218 107,225 243,241 188,260 292,223 234,242 324,251 245,332 234,219 112,248 301,259 152,258 282,257 190,248 206,260 111,217 234,342 201,232 201,242 185,258 284,278 327,236 226,245 293,256 289,244 294,257 317,226 214,325 322,204 251,324 241,318 298,234 116,253 326,246 214,235 237,234 185,239 209,211 111,247 182,317 317,240 304,233 172,291 242,304 276,289 251,223 105,218 292,290 145,241 207,332 239,255 109,202 229,328 285,265 317,234 286,258 134,274 203,226 309,255 278,251 282,212 314,233 222,339 202,326 152,247 260,242 300,247 288,229 196,217 238,255 279,295 156,239 103,223 210,337 141,269 276,209 194,331 183,294 306,256 135,304 264,236 287,241 279,205 252,218 254,201 296,234 231,331 265,230 169,289 314,209 291,253 153,240 213,336 150,288 250,318 169,306 317,242 297,257 152,276 314,238 279,294 230,339 200,197 117,229 241,253 112,248 322,208 261,208 193,316 317,256 121,246 253,231 322,247 121,225 127,235 152,255 251,216 193,253 311,285 288,259 274,239 280,236 175,234 300,258 174,238 310,255 150,281 141,233 116,257 191,238 160,263 326,210 237,215 116,263 151,262 118,234 208,211 103,263 223,346 226,238 282,307 217,333 296,235 314,272 269,258 177,219 293,229 187,251 280,256 255,321 277,299 233,235 159,288 169,221 156,259 168,296 202,251 317,211 252,267 113,235 327,195 127,259 176,259 257,327 322,245 134,255 201,322 292,231 306,274 124,209 279,230 318,253 323,207 315,268 245,321 301,248 122,255 252,325 155,240 271,232 286,264 294,287 162,283 136,212 175,251 239,231 217,243 243,245 160,241 294,236 176,256 156,258 240,266 211,261 227,211 211,328 124,228 326,249 320,238 143,258 210,243 249,309 177,255 307,253 104,239 174,245 292,259 126,252 219,233 246,312 153,243 161,268 171,257 151,246 315,222 247,316 217,336 173,293 260,317 185,231 221,235 233,244 136,246 168,263 181,241 191,306 195,241 226,231 321,248 209,325 309,223 135,239 322,230 179,306 195,229 207,338 177,264 299,262 252,316 321,268 227,241 189,247 239,237 171,251 132,241 120,265 269,258 299,196 311,206 149,200 136,239 108,176 179,295 230,235 186,256 174,252 174,230 316,252 269,314 202,317 265,283 188,245 298,271 205,229 283,220 108,254 179,259 311,249 159,252 275,294 268,290 257,246 234,322 131,258 300,221 310,269 123,225 138,224 125,254 299,239 197,236 299,245 257,251 319,209 124,281 270,307 151,239 143,261 190,238 204,255 264,305 119,232 144,294 164,262 136,245 321,259 270,289 238,207 137,254 137,248 119,241 131,253 218,267 157,214 309,270 103,232 134,257 274,204 123,263 267,319 203,258 277,226 267,234 298,263 206,228 314,248 255,231 146,224 231,248 129,247 183,297 216,255 294,212 196,316 121,212 157,221 197,328 323,242 107,244 227,220 274,249 201,242 231,328 270,289 204,322 155,263 310,261 137,255 297,221 258,322 180,248 227,249 293,228 206,317 110,267 168,309 327,249 247,263 175,218 272,301 286,253 312,229 297,237 160,213 274,293 182,305 300,296 215,328 240,264 153,232 317,233 262,305 308,277 114,241 225,336 322,237 145,244 159,241 287,251 326,231 250,257 322,238 113,269 198,256 182,257 283,269 296,220 270,288 320,270 253,331 236,304 229,342 327,210 240,328 246,332 328,218 183,211 291,241 131,253 326,283 268,302 233,233 135,210 257,200 215,246 228,225 232,330 164,269 127,264 207,245 298,269 187,290 299,260 158,267 111,249 263,248 235,256 122,255 211,321 312,250 328,230 308,187 297,237 219,331 180,208 183,233 271,239 257,309 157,277 173,277 282,280 119,230 236,320 257,217 315,213 223,342 226,249 254,253 114,261 188,238 105,230 173,258 121,207 251,261 262,325 206,234 274,213 233,251 285,284 187,214 320,243 255,303 327,241 163,285 162,225 309,245 225,257 211,249 224,336 272,251 311,226 273,317 268,272 266,248 308,208 155,276 145,204 108,255 219,238 237,336 137,233 239,341 244,242 278,303 291,230 181,222 218,323 183,239 143,255 155,260 280,270 175,289 173,234 193,225 182,260 233,266 159,231 112,226 139,254 135,228 216,240 163,229 147,242 104,240 230,334 143,245 206,236 172,231 268,280 319,212 254,241 287,251 190,217 108,223 148,287 172,255 276,291 322,270 288,254 249,331 157,271 243,226 182,301 287,302 204,315 124,276 286,224 141,230 274,234 266,307 151,235 174,235 191,316 203,302 189,216 137,273 256,325 240,340 284,225 146,222 238,233 324,255 319,261 200,235 210,207 164,213 223,355 272,272 283,273 246,329 309,254 301,246 201,333 219,241 136,243 201,261 177,290 139,275 278,257 295,233 173,264 325,240 222,246 204,325 236,238 289,254 144,258 211,254 296,251 280,291 142,221 183,202 230,209 260,290 114,264 145,240 283,246 103,220 231,322 174,265 189,233 325,266 107,203 215,211 326,221 265,218 133,247 242,227 323,265 130,230 295,256 213,245 232,262 295,275 311,233 156,231 185,244 115,255 229,334 111,253 194,304 171,289 269,301 110,255 283,259 215,228 313,236 144,250 140,255 105,222 170,290 197,312 327,248 310,255 177,249 115,252 111,232 232,239 181,232 225,248 189,241 296,257 218,237 174,249 110,257 110,227 171,254 181,319 308,254 137,261 266,207 232,228 190,236 275,210 294,276 204,212 257,206 183,311 209,214 225,340 149,224 231,334 323,237 138,269 325,253 177,263 265,245 256,208 323,260 186,241 217,339 181,219 237,264 132,253 155,264 278,236 283,230 240,330 227,251 214,230 227,242 283,301 198,241 139,262 318,257 271,291 157,208 239,232 113,264 141,280 255,185 250,324 152,251 199,268 264,258 121,248 151,288 173,223 259,271 249,321 211,239 220,245 204,230 197,229 179,309 313,233 207,319 211,334 184,274 268,230 263,311 290,293 184,263 103,271 146,270 261,267 175,296 196,294 208,340 163,244 208,245 163,241 158,296 233,251 179,245 141,243 268,291 232,261 267,204 325,262 148,251 135,234 161,252 213,209 118,242 277,237 114,252 277,258 254,296 215,236 283,246 214,210 275,242 173,253 316,205 245,221 142,232 267,255 120,249 247,301 200,208 215,222 163,225 160,287 298,255 225,224 213,263 266,250 114,257 302,246 254,226 139,270 279,249 314,242 132,240 288,282 302,231 146,256 131,239 236,319 183,242 326,250 107,237 185,323 208,335 244,255 135,231 187,313 136,231 216,338 191,308 324,261 239,229 287,256 148,217 308,226 203,245 240,252 181,289 302,220 126,261 322,273 288,264 327,258 254,318 318,245 304,250 241,317 209,231 241,225 275,289 207,204 113,214 156,240 218,330 155,265 288,223 283,264 213,246 305,203 247,193 151,295 231,245 261,250 277,257 197,224 142,257 203,262 144,248 313,239 215,251 129,227 315,272 317,234 303,261 239,245 157,294 281,220 190,313 123,224 129,250 130,254 125,253 313,278 318,245 259,317 184,313 109,257 281,250 251,253 209,229 171,246 233,231 254,212 272,308 220,337 135,228 108,250 197,225 261,218 224,257 260,313 246,327 267,236 230,246 143,275 126,263 324,210 328,244 314,245 118,261 201,309 287,207 238,235 207,240 208,313 193,210 264,234 285,247 130,237 185,231 209,235 153,282 316,216 126,252 326,223 251,255 222,231 103,250 138,226 126,244 224,239 317,218 213,323 256,257 320,259 135,249 262,236 277,208 315,249 221,246 223,206 255,213 114,254 238,240 182,198 255,224 155,241 214,345 303,249 139,228 143,258 204,331 310,253 303,233 210,335 202,230 200,231 201,218 239,233 301,271 227,208 115,267 228,326 180,313 266,230 264,250 110,243 123,257 184,242 232,211 171,279 111,203 270,305 326,227 235,329 204,225 150,261 273,306 142,238 172,222 316,221 128,248 286,237 150,290 298,214 208,244 241,255 153,290 111,226 150,256 214,242 187,306 310,251 237,246 274,307 270,273 178,288 275,243 259,283 153,283 111,263 326,246 187,318 206,323 255,321 290,310 324,250 281,255 273,266 325,226 312,252 139,311 147,224 212,242 232,334 185,255 181,238 175,246 192,255 281,229 179,238 286,306 283,260 316,206 150,247 180,246 233,231 212,224 105,210 121,245 266,235 250,311 154,200 294,235 290,276 266,237 154,236 263,252 306,241 112,262 122,224 229,351 325,203 236,340 326,256 183,309 280,288 215,331 117,262 120,227 158,207 311,228 306,252 326,206 195,234 149,276 214,324 266,210 283,290 113,237 282,254 236,223 294,252 127,251 241,248 225,338 316,260 255,265 154,279 186,232 209,333 184,256 177,307 173,219 206,258 213,332 290,208 318,222 248,222 182,284 193,215 135,244 260,308 179,244 238,237 193,263 312,253 237,343 168,249 220,328 229,221 299,261 279,254 204,240 234,248 267,214 315,245 259,228 301,261 291,275 242,331 211,332 200,309 166,240 213,218 241,238 298,257 285,204 291,221 158,255 222,258 123,235 173,209 199,217 109,228 279,257 150,265 321,228 218,352 241,278 327,250 286,295 108,207 293,254 282,262 205,256 167,241 227,350 256,220 186,237 236,348 190,249 193,204 126,262 314,234 282,239 211,330 253,226 278,252 254,240 283,309 249,231 268,307 160,243 250,237 127,231 313,213 213,220 228,261 237,343 178,239 196,240 112,227 217,236 178,259 306,248 141,265 173,288 288,234 166,256 255,231 259,250 309,225 114,223 281,283 291,225 294,267 167,223 261,237 103,263 269,223 255,328 259,251 160,289 134,265 142,265 264,258 109,232 240,262 230,257 127,257 164,278 203,248 224,200 280,226 196,253 138,267 187,249 304,240 220,339 313,275 205,313 124,244 218,345 134,228 157,230 145,281 310,244 281,261 174,226 193,202 268,296 113,218 306,274 133,283 279,235 269,236 274,271 267,230 157,261 118,240 304,273 155,272 300,245 174,232 211,212 197,222 232,218 121,210 269,258 140,237 178,222 292,241 241,226 278,302 210,219 230,215 190,260 276,284 199,248 273,230 201,259 306,256 263,220 278,225 191,226 286,248 321,222 283,262 202,321 233,356 250,308 214,262 238,227 150,240 211,344 284,252 202,247 216,255 201,226 190,231 265,222 132,240 323,247 116,232 233,254 123,251 191,299 120,263 283,280 271,299 199,319 127,249 120,234 198,255 137,251 264,244 185,300 256,312 249,325 185,251 298,239 262,208 266,304 185,305 304,225 156,254 135,262 197,313 176,299 295,183 149,234 243,268 159,239 297,252 259,232 237,246 272,260 266,312 131,255 187,265 289,249 280,258 107,229 146,203 292,209 313,259 203,321 177,259 302,253 158,235 275,215 156,260 183,308 108,260 212,333 219,246 185,239 201,235 208,265 163,235 128,255 288,249 165,232 266,201 172,294 274,281 270,272 220,266 313,234 195,223 205,326 132,246 300,255 191,251 119,258 247,230 141,241 168,243 236,322 294,267 241,227 183,238 217,341 124,231 185,305 262,306 104,211 269,215 176,224 246,244 302,273 249,263 271,241 251,312 257,323 176,188 199,329 289,258 259,247 176,213 169,287 183,226 264,232 235,253 165,213 183,245 289,245 295,238 251,232 225,240 251,324 113,253 187,255 118,250 148,277 188,237 185,310 309,273 225,241 226,250 200,238 198,316 194,238 294,270 194,205 196,314 251,219 188,256 243,228 248,248 324,247 302,246 184,257 187,215 120,252 188,226 114,224 142,250 197,305 137,253 192,246 312,228 152,234 275,227 237,243 156,264 151,262 265,323 167,295 319,241 211,322 152,255 232,252 202,325 283,308 166,286 319,249 282,256 171,246 314,250 143,253 206,235 214,226 311,236 299,227 184,288 285,254 275,236 281,275 285,242 183,233 115,250 317,243 326,240 146,257 173,248 108,216 302,211 137,277 270,319 298,223 253,308 193,250 140,228 247,264 149,266 272,239 133,290 175,289 251,301 275,265 154,244 229,263 184,238 206,330 153,247 237,240 326,243 237,336 276,307 257,250 260,318 250,221 184,247 210,242 118,264 296,264 189,222 315,266 256,257 204,236 192,228 248,248 191,239 327,232 199,223 312,263 111,260 191,232 216,239 259,236 302,233 129,234 112,230 220,343 269,233 177,300 240,250 191,254 138,236 171,236 148,227 304,249 132,252 238,333 319,234 108,263 312,218 238,251 294,208 194,250 187,256 155,255 117,237 234,229 106,260 224,227 114,232 170,269 135,238 268,298 229,215 227,220 198,306 122,230 224,254 129,237 131,227 141,266 258,255 284,237 168,225 295,275 157,256 227,331 172,244 136,223 136,250 161,258 204,340 107,214 191,214 209,208 175,288 172,232 160,226 261,316 274,239 162,284 195,320 161,230 288,243 258,317 285,265 184,267 144,227 155,295 265,242 120,243 207,263 251,218 175,245 171,227 151,221 300,250 192,310 240,256 124,201 303,258 172,188 244,195 114,245 291,242 121,213 127,235 309,227 315,241 168,219 289,241 202,213 274,232 267,291 252,245 246,238 285,263 294,261 137,237 238,258 196,238 206,243 180,283 200,254 244,266 144,237 259,301 108,236 140,261 250,245 145,257 247,199 264,301 247,242 228,250 296,293 321,280 164,264 305,243 116,224 179,254 245,301 151,223 252,229 157,260 171,248 203,210 314,258 279,261 250,319 172,237 291,225 109,249 120,237 157,300 221,343 284,254 186,214 130,198 284,270 177,288 317,233 257,230 205,244 164,214 300,232 162,248 319,215 270,252 295,266 220,260 116,207 233,234 239,215 306,241 122,242 103,257 287,216 159,294 274,311 224,348 301,237 321,259 209,237 112,236 274,310 154,257 203,248 296,272 277,290 258,260 235,241 110,248 266,243 238,235 217,214 155,229 168,254 178,226 311,215 245,306 133,250 205,226 236,262 321,238 135,275 107,257 189,306 174,218 180,286 155,290 257,226 114,236 176,199 176,209 183,307 162,269 181,245 228,342 155,262 105,259 164,237 197,231 118,251 195,225 212,327 179,253 165,229 130,252 283,231 224,331 262,244 280,240 110,257 216,245 196,260 137,258 256,232 183,300 107,242 246,259 184,233 226,345 177,256 116,227 243,235 294,281 133,256 259,290 179,304 276,246 277,288 263,243 172,293 301,293 192,319 197,310 265,323 309,245 321,229 179,304 317,232 134,239 183,258 313,245 234,225 139,291 235,233 315,245 208,251 203,333 142,251 185,211 228,334 323,250 295,255 169,297 272,229 125,245 183,289 196,222 216,336 163,289 141,247 277,220 254,326 157,288 157,251 324,227 220,345 163,278 226,265 174,298 313,238 264,288 158,241 201,249 324,248 148,267 282,246 239,325 209,340 139,245 201,331 167,228 226,331 289,228 162,278 117,248 292,253 157,273 250,321 159,241 126,252 132,227 143,235 296,250 308,257 311,270 246,262 205,263 113,238 229,330 280,247 213,204 322,233 107,258 296,259 270,216 265,293 159,251 137,226 192,244 266,295 222,339 283,288 278,241 219,241 130,233 217,246 133,253 282,231 118,221 196,329 131,232 160,238 281,275 271,217 316,207 243,240 315,273 132,265 190,212 116,246 175,202 238,203 147,244 168,242 179,286 127,264 119,234 207,322 245,228 311,247 254,246 178,251 206,227 236,242 107,245 148,233 153,281 299,282 121,241 217,240 222,333 126,246 148,279 278,211 150,240 253,335 146,259 196,310 176,304 236,232 184,234 158,274 304,219 288,256 319,225 181,229 108,221 159,298 214,208 243,324 174,287 230,251 212,320 321,260 114,252 257,227 310,238 233,329 305,278 222,337 252,255 177,232 132,231 203,244 260,313 312,247 288,228 137,274 151,244 281,305 185,218 261,223 265,291 248,252 167,298 220,343 313,255 266,244 139,226 263,294 297,250 132,259 103,262 184,222 200,309 202,217 315,237 194,245 280,234 218,254 317,273 286,244 318,272 277,220 157,235 110,259 238,332 243,309 154,248 304,259 270,305 257,309 244,340 204,239 228,333 313,231 299,245 252,250 276,206 160,269 216,248 111,261 272,233 326,255 307,235 287,270 264,261 140,231 272,182 104,253 138,254 108,202 110,203 152,252 284,228 120,259 190,228 116,247 226,256 227,342 176,225 168,275 217,344 192,238 196,218 148,212 240,237 179,234 186,221 179,249 142,238 204,252 301,251 241,321 294,241 157,295 132,246 256,207 144,249 133,252 156,263 277,279 139,277 222,209 242,233 125,261 172,287 214,234 118,262 173,213 133,223 163,243 279,303 244,227 146,208 109,242 272,222 182,306 325,215 107,242 315,257 252,201 133,206 320,232 177,280 317,214 243,214 105,248 179,294 168,278 323,230 278,278 111,232 196,266 209,330 246,240 247,320 154,244 170,282 189,307 170,299 199,317 222,348 229,224 174,293 207,322 296,207 108,216 314,257 169,224 223,254 232,345 320,217 256,225 144,286 180,291 135,269 184,289 283,251 194,298 283,279 162,253 296,242 292,279 325,256 148,298 164,290 215,347 283,242 113,263 269,230 259,315 275,270 112,211 162,270 173,292 107,268 160,291 140,243 262,226 173,251 261,255 183,253 119,233 288,255 223,246 286,249 175,236 177,251 274,280 272,250 185,260 304,289 164,204 189,242 235,342 235,325 201,242 304,245 227,344 202,229 256,252 264,217 289,246 208,254 138,242 112,248 124,250 250,296 138,259 276,297 142,227 287,226 271,295 159,235 289,245 298,258 267,260 226,351 121,254 314,256 214,347 309,207 119,226 166,266 268,209 145,265 279,231 276,295 196,317 181,258 198,266 169,287 201,242 321,231 168,293 320,257 294,287 112,210 321,235 314,232 294,275 262,298 109,221 277,296 204,328 132,232 244,259 123,241 316,265 167,251 297,224 189,251 213,238 230,317 121,208 257,249 208,331 173,203 313,247 180,306 173,243 220,204 210,319 139,248 174,261 254,325 163,288 181,210 181,304 115,269 312,241 158,212 164,225 153,295 290,271 214,214 199,235 293,237 251,242 275,236 298,243 154,290 273,296 271,220 168,301 295,247 153,270 220,336 240,259 124,250 216,264 224,325 268,194 226,253 254,222 268,253 174,272 254,321 130,239 312,237 290,256 155,199 136,244 248,260 140,255 138,246 171,297 247,328 226,327 241,240 202,240 124,251 109,216 153,236 118,259 121,226 293,298 161,256 278,240 288,225 240,267 189,301 303,237 253,208 320,251 307,264 126,227 279,292 183,234 252,230 197,248 125,247 146,249 290,249 114,240 227,255 110,244 219,337 246,308 228,229 188,322 104,249 131,265 169,302 211,321 289,280 146,256 222,209 264,315 315,219 126,249 214,242 247,267 183,224 207,329 319,250 138,253 273,279 158,270 148,238 136,223 105,216 220,336 233,323 148,274 229,235 219,240 279,251 303,243 272,238 215,333 298,284 323,240 217,231 251,242 111,213 110,216 214,200 186,310 103,260 200,320 164,253 162,233 315,223 289,295 285,267 268,228 275,287 183,301 197,263 172,230 145,210 232,242 256,314 304,222 176,242 272,210 231,205 309,243 210,222 240,217 186,239 128,230 260,319 303,263 174,239 219,237 211,327 144,252 212,341 163,287 324,243 260,203 251,249 165,309 179,269 203,319 252,251 248,258 233,218 195,247 131,250 252,240 312,222 324,219 311,250 222,244 286,261 235,327 104,212 147,259 105,264 121,255 132,228 213,332 141,232 165,242 134,235 123,255 168,261 279,238 120,249 276,310 175,250 148,221 255,256 117,227 133,223 191,239 210,268 142,257 324,254 147,219 186,300 224,334 300,243 226,217 260,254 254,221 256,234 149,246 216,212 237,250 279,240 305,257 301,228 200,239 163,246 317,259 281,305 288,268 201,261 109,246 248,301 270,293 215,212 133,257 326,252 253,224 251,203 162,212 279,257 242,334 249,229 298,240 246,226 264,239 221,334 121,235 252,263 318,213 129,238 230,181 288,221 168,246 117,244 203,326 216,251 196,240 193,241 159,268 215,338 271,262 320,211 257,249 138,221 260,322 209,201 294,238 288,213 277,224 184,311 145,262 157,229 148,241 129,225 213,343 205,242 110,254 144,264 248,216 263,230 164,251 178,232 129,237 242,232 233,242 296,240 159,250 242,316 223,331 253,242 316,244 237,235 291,234 242,344 272,261 113,231 192,256 188,202 273,254 291,304 285,222 253,265 195,319 231,250 183,251 244,263 324,234 286,245 318,229 111,233 163,291 239,225 132,222 135,249 187,253 309,228 141,245 154,276 149,200 192,255 318,251 314,246 271,290 172,296 251,296 296,265 222,242 141,239 295,277 290,227 156,261 175,253 251,295 161,247 182,248 183,249 226,259 292,273 216,329 103,257 266,246 170,289 117,243 271,228 126,251 315,260 194,243 296,277 316,237 225,334 265,304 273,237 265,322 203,332 162,218 289,255 264,304 303,241 180,254 202,229 136,263 140,267 195,221 158,268 218,260 240,230 151,258 175,212 212,240 227,238 198,319 142,211 168,285 303,237 162,266 225,236 180,237 203,320 183,289 236,320 235,251 244,245 165,233 289,243 194,237 184,219 138,214 119,246 197,315 133,204 277,209 269,244 214,348 130,269 191,239 318,229 139,180 136,257 186,257 214,235 128,255 176,267 201,306 314,241 250,253 210,326 244,244 220,350 103,259 244,238 181,241 196,253 213,232 247,239 144,231 317,248 298,241 152,279 141,233 284,263 127,219 238,253 139,230 238,325 305,267 130,233 256,310 124,267 315,257 222,215 269,226 223,220 202,336 259,302 107,224 272,261 206,259 240,215 287,256 131,241 139,242 272,225 201,320 217,260 173,305 146,230 257,322 143,256 285,219 315,243 108,235 246,218 136,256 269,284 276,306 252,318 115,258 114,192 261,310 178,319 304,265 150,287 233,255 175,215 164,278 215,335 273,235 144,228 299,279 251,209 237,333 229,243 281,272 297,245 151,250 241,235 254,322 146,241 272,231 154,230 234,236 162,301 289,213 175,302 254,248 161,306 263,309 217,257 302,247 222,341 284,236 310,252 199,224 308,261 194,232 201,229 283,307 303,248 239,348 237,338 216,329 172,242 282,210 166,299 243,223 145,222 162,252 294,297 265,310 136,233 128,212 292,264 270,284 172,298 217,341 317,251 176,264 116,241 128,264 173,257 243,339 166,245 108,215 217,233 237,255 152,296 142,256 113,241 226,337 298,230 250,265 223,253 144,231 271,300 124,247 233,331 202,229 239,238 147,288 235,242 267,246 107,246 245,334 200,258 118,263 215,338 180,244 111,257 318,253 147,284 185,242 108,228 321,233 323,265 293,249 244,237 165,270 108,229 226,254 324,233 296,219 141,253 278,277 309,246 315,258 253,239 185,245 241,218 168,238 141,260 221,253 203,307 165,271 272,318 290,248 160,254 243,327 256,315 119,239 258,317 238,253 196,323 114,264 199,242 162,287 169,238 129,262 184,260 216,245 243,248 169,284 219,225 299,270 193,211 149,282 201,311 158,258 292,228 209,221 319,237 229,339 214,344 176,220 238,310 268,245 233,263 155,257 236,337 105,224 179,240 135,253 316,252 136,249 232,245 175,307 175,247 121,232 144,226 252,248 238,239 273,295 261,312 325,263 210,230 113,244 316,280 221,349 274,265 132,244 140,259 302,237 295,245 119,250 211,326 257,330 298,249 254,236 254,217 193,231 117,219 138,231 216,263 305,260 200,250 153,282 323,225 297,224 278,271 220,253 148,219 203,243 254,306 220,249 197,248 216,346 318,264 308,239 307,252 201,255 174,211 193,227 243,306 258,218 277,292 238,219 215,261 326,252 290,296 253,329 315,231 308,254 189,239 190,323 123,243 191,325 134,248 241,303 197,252 150,252 250,247 327,254 204,214 133,282 222,345 233,344 295,247 234,236 211,251 271,296 308,278 154,225 275,266 151,241 214,218 305,279 323,258 288,234 262,258 173,298 195,257 284,277 187,237 175,264 280,227 270,231 110,225 143,202 123,178 283,227 266,298 209,338 325,257 210,259 119,241 252,302 165,230 105,204 307,233 188,203 285,257 288,262 267,304 299,275 283,197 198,229 133,256 166,278 260,258 109,241 265,320 256,315 198,326 255,304 135,245 154,244 310,259 182,302 124,248 269,316 267,279 305,259 308,236 259,222 307,237 104,226 272,247 165,242 129,250 111,240 284,277 264,318 210,316 117,259 188,312 219,324 117,255 278,211 110,256 291,260 227,350 167,267 214,232 327,255 294,290 208,322 320,204 298,232 249,251 222,248 186,180 299,250 284,291 134,269 167,236 104,223 182,200 322,258 214,217 118,240 228,250 157,275 289,257 267,291 240,240 182,297 110,239 280,303 303,245 144,221 221,331 211,210 206,340 303,256 122,265 266,280 228,201 219,321 255,319 187,254 240,229 291,246 305,251 148,222 268,260 190,245 179,225 307,232 281,294 292,217 172,304 318,224 182,247 285,259 309,222 231,252 321,213 308,218 174,312 152,222 149,247 152,256 171,235 254,257 323,239 228,345 260,243 179,249 293,265 149,244 267,254 280,294 258,236 267,246 177,290 200,231 176,291 139,253 320,238 249,224 174,220 169,297 259,236 311,248 205,249 251,319 225,259 176,260 295,240 217,339 271,307 208,251 155,292 190,304 284,218 281,253 186,187 218,338 273,251 174,302 246,259 210,327 287,254 231,344 180,238 230,260 113,240 133,237 166,283 184,245 163,261 124,266 266,249 258,253 291,238 238,225 253,260 173,287 239,249 258,254 109,239 121,245 150,247 116,209 262,261 200,229 286,249 251,310 255,298 191,303 245,232 320,262 287,296 173,297 264,241 157,205 144,230 249,310 228,253 246,318 313,244 143,274 147,264 175,246 147,239 169,224 215,247 212,338 127,236 152,204 193,318 269,254 168,226 314,237 124,196 163,260 133,260 328,262 272,263 295,232 171,274 267,283 207,228 192,263 286,281 133,264 115,235 231,329 136,253 147,278 183,247 301,241 232,249 160,278 169,216 159,272 215,257 141,291 282,240 193,323 232,327 188,250 185,216 158,252 321,245 266,311 200,255 313,221 325,244 174,294 208,333 211,230 215,231 209,325 244,341 123,255 302,240 246,250 139,252 241,320 193,236 293,245 233,220 319,248 190,304 162,233 295,245 177,286 135,261 140,258 196,326 227,341 323,249 226,256 168,213 231,255 188,227 212,320 298,249 197,251 310,256 204,308 291,294 304,258 273,229 299,235 215,245 267,255 108,241 196,235 125,204 319,236 234,265 314,251 112,252 231,258 105,241 165,251 299,236 228,241 193,310 117,266 287,293 135,232 116,251 220,201 130,250 304,215 103,240 155,224 271,261 308,249 136,255 216,231 224,220 201,331 207,255 270,232 184,259 247,314 264,259 125,267 317,224 141,259 139,258 266,244 161,288 205,202 237,261 292,234 109,243 311,248 262,238 277,254 229,328 235,246 231,254 131,237 107,213 275,281 170,292 127,263 133,276 283,225 305,252 154,252 188,302 309,262 115,210 133,252 260,288 276,255 236,251 290,232 207,222 165,303 297,281 260,319 312,251 324,232 261,235 227,327 260,301 310,226 155,219 253,243 250,257 271,324 255,266 163,244 151,255 188,261 241,332 123,244 218,236 286,261 237,248 269,273 106,236 242,318 214,244 307,234 204,327 292,257 182,304 305,275 305,263 267,236 219,256 225,232 285,283 278,236 316,229 258,319 302,238 164,271 287,261 277,230 216,252 160,271 268,222 125,236 249,231 268,304 256,74 216,85 242,85 230,90 207,98 266,98 298,96 297,102 127,117 135,121 178,120 189,123 190,127 215,115 216,118 216,124 224,123 237,124 274,114 288,113 294,119 318,112 317,126 326,124 274,130 310,135 270,140 224,138 159,139 164,141 179,137 178,141 175,143 200,142 122,143 191,148 169,150 149,151 127,154 216,151 243,144 237,155 224,404 224,410 191,389 162,376 184,369 267,383 282,383 281,376 318,375 318,376 286,370 233,373 219,372 216,374 211,365 217,366 223,368 231,363 231,366 240,361 254,359 254,361 209,356 209,358 297,352 286,349 311,347 281,343 282,338 267,341 265,332 256,341 122,341 158,345 177,340 177,346 162,335 163,336 106,333 176,331 310,333 318,332" marker-start="url(#dot)" marker-mid="url(#dot)" marker-end="url(#dot)"/>
<use href="#lc" x="225"/>
</g>
<g class="ax">
<path d="M79 58h1v370h-1zM81 58h1v370h-1zM575 58h1v370h-1zM577 58h1v370h-1zM102 428h1v4h-1zM104 428h1v4h-1zM158 428h1v4h-1zM160 428h1v4h-1zM214 428h1v4h-1zM216 428h1v4h-1zM271 428h1v4h-1zM273 428h1v4h-1zM327 428h1v4h-1zM329 428h1v4h-1zM383 428h1v4h-1zM385 428h1v4h-1zM440 428h1v4h-1zM442 428h1v4h-1zM496 428h1v4h-1zM498 428h1v4h-1zM552 428h1v4h-1zM554 428h1v4h-1z" fill-opacity=".055"/>
<path d="M80 57h497v1h-497zM80 59h497v1h-497zM80 426h497v1h-497zM80 428h497v1h-497zM76 381h4v1h-4zM76 383h4v1h-4zM76 310h4v1h-4zM76 312h4v1h-4zM76 238h4v1h-4zM76 240h4v1h-4zM76 167h4v1h-4zM76 169h4v1h-4zM76 96h4v1h-4zM76 98h4v1h-4z" fill-opacity=".055"/>
<path d="M103 432h1v1h-1zM159 432h1v1h-1zM215 432h1v1h-1zM272 432h1v1h-1zM328 432h1v1h-1zM384 432h1v1h-1zM441 432h1v1h-1zM497 432h1v1h-1zM553 432h1v1h-1zM75 382h1v1h-1zM75 311h1v1h-1zM75 239h1v1h-1zM75 168h1v1h-1zM75 97h1v1h-1z" fill-opacity=".5"/>
<path d="M80 58h497v1h-497zM80 427h497v1h-497zM80 58h1v370h-1zM576 58h1v370h-1zM103 428h1v4h-1zM159 428h1v4h-1zM215 428h1v4h-1zM272 428h1v4h-1zM328 428h1v4h-1zM384 428h1v4h-1zM441 428h1v4h-1zM497 428h1v4h-1zM553 428h1v4h-1zM76 382h4v1h-4zM76 311h4v1h-4zM76 239h4v1h-4zM76 168h4v1h-4zM76 97h4v1h-4z"/>
</g>
<g class="tk" text-anchor="middle">
<text transform="translate(102.85 448) scale(0.957 1)">−1.00</text>
<text transform="translate(159.21 448) scale(0.957 1)">−0.75</text>
<text transform="translate(215.57 448) scale(0.957 1)">−0.50</text>
<text transform="translate(271.94 448) scale(0.957 1)">−0.25</text>
<text transform="translate(328.30 448) scale(0.957 1)">0.00</text>
<text transform="translate(384.66 448) scale(0.957 1)">0.25</text>
<text transform="translate(441.03 448) scale(0.957 1)">0.50</text>
<text transform="translate(497.39 448) scale(0.957 1)">0.75</text>
<text transform="translate(553.75 448) scale(0.957 1)">1.00</text>
<text transform="translate(327.45 467) scale(.97 1)">phase</text>
</g>
<g class="tk" text-anchor="end">
<text transform="translate(69.58 387) scale(0.94 1)">10</text>
<text transform="translate(69.58 316) scale(0.94 1)">20</text>
<text transform="translate(69.58 245) scale(0.94 1)">30</text>
<text transform="translate(69.58 173) scale(0.94 1)">40</text>
<text transform="translate(69.58 102) scale(0.94 1)">50</text>
</g>
<text class="tk" text-anchor="middle" transform="translate(43.36 243.90) rotate(-90)">flux</text>
<text class="ti" text-anchor="middle" transform="translate(328.12 49.27) scale(0.9953 1.07)">1SWASPJ134913.67-474628.7 Period 12916.99414s</text>
</svg>
</body>
</html>
